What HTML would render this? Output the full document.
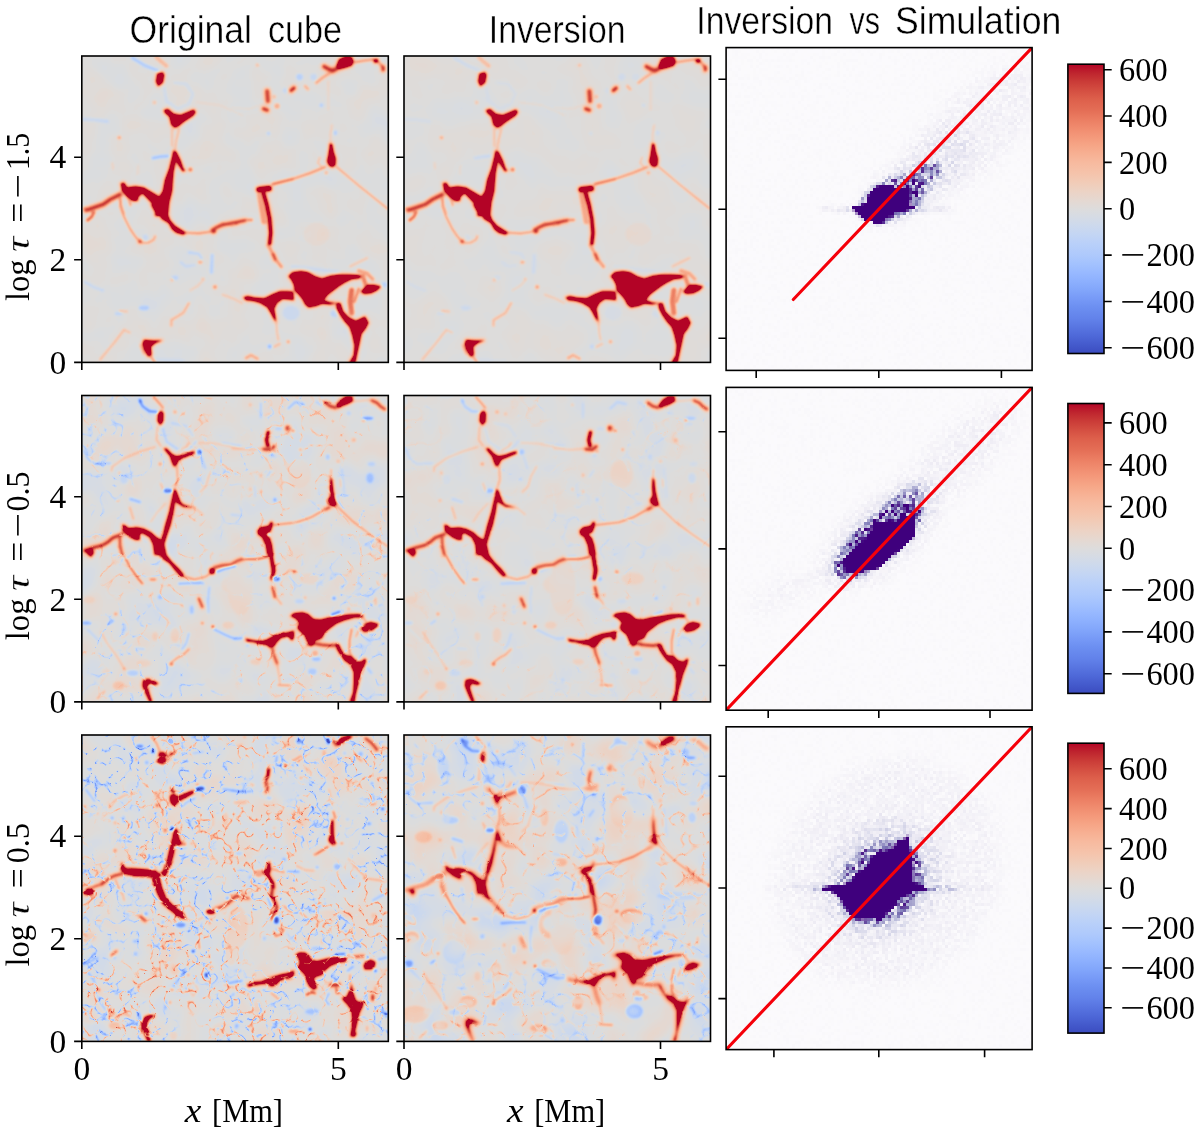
<!DOCTYPE html>
<html lang="en"><head><meta charset="utf-8"><title>Inversion vs Simulation</title>
<style>html,body{margin:0;padding:0;background:#fff;}body{width:1200px;height:1137px;overflow:hidden;}svg{display:block;}.se{font-family:"Liberation Serif", "DejaVu Serif", serif;font-size:33.5px;fill:#000;}.sa{font-family:"Liberation Sans", "DejaVu Sans", sans-serif;font-size:39.5px;fill:#000;stroke:#fff;stroke-width:0.45px;paint-order:fill stroke;}.it{font-style:italic;}.th{stroke:#fff;stroke-width:0.3px;paint-order:fill stroke;}</style>
</head><body>
<svg width="1200" height="1137" viewBox="0 0 1200 1137">
<defs>
<filter id="f00" x="0" y="0" width="100%" height="100%" filterUnits="objectBoundingBox" color-interpolation-filters="sRGB">
<feGaussianBlur in="SourceGraphic" stdDeviation="1.15" result="b"/>
<feTurbulence type="fractalNoise" baseFrequency="0.035" numOctaves="2" seed="3"/><feColorMatrix type="matrix" values="1 0 0 0 0  1 0 0 0 0  1 0 0 0 0  0 0 0 0 1" result="t0"/>
<feComposite in="b" in2="t0" operator="arithmetic" k1="0" k2="1" k3="0.0462" k4="-0.0231" result="s0"/>
<feComponentTransfer in="s0" result="g"><feFuncR type="linear" slope="1.3000" intercept="-0.1500"/><feFuncG type="linear" slope="1.3000" intercept="-0.1500"/><feFuncB type="linear" slope="1.3000" intercept="-0.1500"/></feComponentTransfer>
<feComponentTransfer in="g"><feFuncR type="table" tableValues="0.2298 0.2481 0.2664 0.2853 0.3042 0.3237 0.3433 0.3635 0.3837 0.4044 0.4252 0.4464 0.4677 0.4892 0.5108 0.5326 0.5543 0.5761 0.5978 0.6193 0.6408 0.6620 0.6831 0.7036 0.7240 0.7438 0.7634 0.7820 0.8006 0.8181 0.8353 0.8514 0.8674 0.8837 0.8995 0.9128 0.9256 0.9358 0.9455 0.9528 0.9595 0.9638 0.9675 0.9689 0.9697 0.9681 0.9660 0.9616 0.9567 0.9495 0.9417 0.9318 0.9214 0.9089 0.8959 0.8809 0.8654 0.8480 0.8302 0.8106 0.7906 0.7689 0.7468 0.7233 0.7057"/><feFuncG type="table" tableValues="0.2987 0.3260 0.3533 0.3801 0.4069 0.4332 0.4594 0.4848 0.5102 0.5346 0.5591 0.5824 0.6056 0.6275 0.6494 0.6698 0.6901 0.7088 0.7273 0.7441 0.7608 0.7755 0.7900 0.8026 0.8149 0.8251 0.8351 0.8429 0.8504 0.8556 0.8605 0.8631 0.8644 0.8561 0.8475 0.8367 0.8255 0.8122 0.7986 0.7830 0.7670 0.7491 0.7308 0.7108 0.6905 0.6685 0.6461 0.6222 0.5980 0.5724 0.5464 0.5191 0.4914 0.4624 0.4331 0.4023 0.3711 0.3383 0.3047 0.2688 0.2314 0.1892 0.1400 0.0689 0.0156"/><feFuncB type="table" tableValues="0.7537 0.7777 0.8016 0.8235 0.8453 0.8647 0.8841 0.9010 0.9178 0.9320 0.9461 0.9574 0.9685 0.9769 0.9851 0.9904 0.9955 0.9978 0.9998 0.9989 0.9978 0.9939 0.9898 0.9828 0.9757 0.9658 0.9557 0.9430 0.9300 0.9146 0.8990 0.8811 0.8626 0.8403 0.8178 0.7945 0.7711 0.7472 0.7231 0.6986 0.6741 0.6494 0.6247 0.5999 0.5751 0.5505 0.5259 0.5016 0.4773 0.4534 0.4297 0.4065 0.3834 0.3610 0.3387 0.3171 0.2958 0.2752 0.2549 0.2354 0.2162 0.1980 0.1800 0.1630 0.1502"/><feFuncA type="linear" slope="0" intercept="1"/></feComponentTransfer>
</filter>
<filter id="f01" x="0" y="0" width="100%" height="100%" filterUnits="objectBoundingBox" color-interpolation-filters="sRGB">
<feGaussianBlur in="SourceGraphic" stdDeviation="1.3" result="b"/>
<feTurbulence type="fractalNoise" baseFrequency="0.03" numOctaves="2" seed="5"/><feColorMatrix type="matrix" values="1 0 0 0 0  1 0 0 0 0  1 0 0 0 0  0 0 0 0 1" result="t0"/>
<feComposite in="b" in2="t0" operator="arithmetic" k1="0" k2="1" k3="0.0385" k4="-0.0192" result="s0"/>
<feComponentTransfer in="s0" result="g"><feFuncR type="linear" slope="1.3000" intercept="-0.1500"/><feFuncG type="linear" slope="1.3000" intercept="-0.1500"/><feFuncB type="linear" slope="1.3000" intercept="-0.1500"/></feComponentTransfer>
<feComponentTransfer in="g"><feFuncR type="table" tableValues="0.2298 0.2481 0.2664 0.2853 0.3042 0.3237 0.3433 0.3635 0.3837 0.4044 0.4252 0.4464 0.4677 0.4892 0.5108 0.5326 0.5543 0.5761 0.5978 0.6193 0.6408 0.6620 0.6831 0.7036 0.7240 0.7438 0.7634 0.7820 0.8006 0.8181 0.8353 0.8514 0.8674 0.8837 0.8995 0.9128 0.9256 0.9358 0.9455 0.9528 0.9595 0.9638 0.9675 0.9689 0.9697 0.9681 0.9660 0.9616 0.9567 0.9495 0.9417 0.9318 0.9214 0.9089 0.8959 0.8809 0.8654 0.8480 0.8302 0.8106 0.7906 0.7689 0.7468 0.7233 0.7057"/><feFuncG type="table" tableValues="0.2987 0.3260 0.3533 0.3801 0.4069 0.4332 0.4594 0.4848 0.5102 0.5346 0.5591 0.5824 0.6056 0.6275 0.6494 0.6698 0.6901 0.7088 0.7273 0.7441 0.7608 0.7755 0.7900 0.8026 0.8149 0.8251 0.8351 0.8429 0.8504 0.8556 0.8605 0.8631 0.8644 0.8561 0.8475 0.8367 0.8255 0.8122 0.7986 0.7830 0.7670 0.7491 0.7308 0.7108 0.6905 0.6685 0.6461 0.6222 0.5980 0.5724 0.5464 0.5191 0.4914 0.4624 0.4331 0.4023 0.3711 0.3383 0.3047 0.2688 0.2314 0.1892 0.1400 0.0689 0.0156"/><feFuncB type="table" tableValues="0.7537 0.7777 0.8016 0.8235 0.8453 0.8647 0.8841 0.9010 0.9178 0.9320 0.9461 0.9574 0.9685 0.9769 0.9851 0.9904 0.9955 0.9978 0.9998 0.9989 0.9978 0.9939 0.9898 0.9828 0.9757 0.9658 0.9557 0.9430 0.9300 0.9146 0.8990 0.8811 0.8626 0.8403 0.8178 0.7945 0.7711 0.7472 0.7231 0.6986 0.6741 0.6494 0.6247 0.5999 0.5751 0.5505 0.5259 0.5016 0.4773 0.4534 0.4297 0.4065 0.3834 0.3610 0.3387 0.3171 0.2958 0.2752 0.2549 0.2354 0.2162 0.1980 0.1800 0.1630 0.1502"/><feFuncA type="linear" slope="0" intercept="1"/></feComponentTransfer>
</filter>
<filter id="f10" x="0" y="0" width="100%" height="100%" filterUnits="objectBoundingBox" color-interpolation-filters="sRGB">
<feGaussianBlur in="SourceGraphic" stdDeviation="1.05" result="b"/>
<feTurbulence type="fractalNoise" baseFrequency="0.03" numOctaves="2" seed="11"/><feColorMatrix type="matrix" values="1 0 0 0 0  1 0 0 0 0  1 0 0 0 0  0 0 0 0 1" result="t0"/>
<feComposite in="b" in2="t0" operator="arithmetic" k1="0" k2="1" k3="0.0923" k4="-0.0462" result="s0"/>
<feTurbulence type="turbulence" baseFrequency="0.05" numOctaves="2" seed="12"/><feColorMatrix type="matrix" values="1 0 0 0 0  1 0 0 0 0  1 0 0 0 0  0 0 0 0 1"/>
<feComponentTransfer result="c10"><feFuncR type="table" tableValues="1.000 0.923 0.846 0.769 0.692 0.615 0.538 0.462 0.385 0.308 0.231 0.154 0.077 0.000 0.000 0.000 0.000 0.000 0.000 0.000 0.000 0.000 0.000 0.000 0.000 0.000 0.000 0.000 0.000 0.000 0.000 0.000 0.000 0.000 0.000 0.000 0.000 0.000 0.000 0.000 0.000 0.000 0.000 0.000 0.000 0.000 0.000 0.000 0.000 0.000 0.000 0.000 0.000 0.000 0.000 0.000 0.000 0.000 0.000 0.000 0.000 0.000 0.000 0.000 0.000 0.000 0.000 0.000 0.000 0.000 0.000 0.000 0.000 0.000 0.000 0.000 0.000 0.000 0.000 0.000 0.000 0.000 0.000 0.000 0.000 0.000 0.000 0.000 0.000 0.000 0.000 0.000 0.000 0.000 0.000 0.000 0.000 0.000 0.000 0.000 0.000"/><feFuncG type="table" tableValues="1.000 0.923 0.846 0.769 0.692 0.615 0.538 0.462 0.385 0.308 0.231 0.154 0.077 0.000 0.000 0.000 0.000 0.000 0.000 0.000 0.000 0.000 0.000 0.000 0.000 0.000 0.000 0.000 0.000 0.000 0.000 0.000 0.000 0.000 0.000 0.000 0.000 0.000 0.000 0.000 0.000 0.000 0.000 0.000 0.000 0.000 0.000 0.000 0.000 0.000 0.000 0.000 0.000 0.000 0.000 0.000 0.000 0.000 0.000 0.000 0.000 0.000 0.000 0.000 0.000 0.000 0.000 0.000 0.000 0.000 0.000 0.000 0.000 0.000 0.000 0.000 0.000 0.000 0.000 0.000 0.000 0.000 0.000 0.000 0.000 0.000 0.000 0.000 0.000 0.000 0.000 0.000 0.000 0.000 0.000 0.000 0.000 0.000 0.000 0.000 0.000"/><feFuncB type="table" tableValues="1.000 0.923 0.846 0.769 0.692 0.615 0.538 0.462 0.385 0.308 0.231 0.154 0.077 0.000 0.000 0.000 0.000 0.000 0.000 0.000 0.000 0.000 0.000 0.000 0.000 0.000 0.000 0.000 0.000 0.000 0.000 0.000 0.000 0.000 0.000 0.000 0.000 0.000 0.000 0.000 0.000 0.000 0.000 0.000 0.000 0.000 0.000 0.000 0.000 0.000 0.000 0.000 0.000 0.000 0.000 0.000 0.000 0.000 0.000 0.000 0.000 0.000 0.000 0.000 0.000 0.000 0.000 0.000 0.000 0.000 0.000 0.000 0.000 0.000 0.000 0.000 0.000 0.000 0.000 0.000 0.000 0.000 0.000 0.000 0.000 0.000 0.000 0.000 0.000 0.000 0.000 0.000 0.000 0.000 0.000 0.000 0.000 0.000 0.000 0.000 0.000"/></feComponentTransfer>
<feTurbulence type="fractalNoise" baseFrequency="0.012" numOctaves="2" seed="19"/><feColorMatrix type="matrix" values="1 0 0 0 0  1 0 0 0 0  1 0 0 0 0  0 0 0 0 1"/>
<feComponentTransfer result="m10"><feFuncR type="table" tableValues="0.000 0.000 0.000 0.000 0.000 0.000 0.000 0.000 0.000 0.000 0.000 0.000 0.000 0.000 0.000 0.000 0.000 0.000 0.000 0.000 0.000 0.000 0.000 0.000 0.000 0.000 0.000 0.000 0.000 0.000 0.000 0.000 0.000 0.000 0.000 0.000 0.000 0.000 0.000 0.000 0.000 0.000 0.000 0.000 0.000 0.063 0.125 0.188 0.250 0.312 0.375 0.438 0.500 0.563 0.625 0.688 0.750 0.813 0.875 0.937 1.000 1.000 1.000 1.000 1.000 1.000 1.000 1.000 1.000 1.000 1.000 1.000 1.000 1.000 1.000 1.000 1.000 1.000 1.000 1.000 1.000 1.000 1.000 1.000 1.000 1.000 1.000 1.000 1.000 1.000 1.000 1.000 1.000 1.000 1.000 1.000 1.000 1.000 1.000 1.000 1.000"/><feFuncG type="table" tableValues="0.000 0.000 0.000 0.000 0.000 0.000 0.000 0.000 0.000 0.000 0.000 0.000 0.000 0.000 0.000 0.000 0.000 0.000 0.000 0.000 0.000 0.000 0.000 0.000 0.000 0.000 0.000 0.000 0.000 0.000 0.000 0.000 0.000 0.000 0.000 0.000 0.000 0.000 0.000 0.000 0.000 0.000 0.000 0.000 0.000 0.063 0.125 0.188 0.250 0.312 0.375 0.438 0.500 0.563 0.625 0.688 0.750 0.813 0.875 0.937 1.000 1.000 1.000 1.000 1.000 1.000 1.000 1.000 1.000 1.000 1.000 1.000 1.000 1.000 1.000 1.000 1.000 1.000 1.000 1.000 1.000 1.000 1.000 1.000 1.000 1.000 1.000 1.000 1.000 1.000 1.000 1.000 1.000 1.000 1.000 1.000 1.000 1.000 1.000 1.000 1.000"/><feFuncB type="table" tableValues="0.000 0.000 0.000 0.000 0.000 0.000 0.000 0.000 0.000 0.000 0.000 0.000 0.000 0.000 0.000 0.000 0.000 0.000 0.000 0.000 0.000 0.000 0.000 0.000 0.000 0.000 0.000 0.000 0.000 0.000 0.000 0.000 0.000 0.000 0.000 0.000 0.000 0.000 0.000 0.000 0.000 0.000 0.000 0.000 0.000 0.063 0.125 0.188 0.250 0.312 0.375 0.438 0.500 0.563 0.625 0.688 0.750 0.813 0.875 0.937 1.000 1.000 1.000 1.000 1.000 1.000 1.000 1.000 1.000 1.000 1.000 1.000 1.000 1.000 1.000 1.000 1.000 1.000 1.000 1.000 1.000 1.000 1.000 1.000 1.000 1.000 1.000 1.000 1.000 1.000 1.000 1.000 1.000 1.000 1.000 1.000 1.000 1.000 1.000 1.000 1.000"/></feComponentTransfer>
<feComposite in="c10" in2="m10" operator="arithmetic" k1="1" k2="0" k3="0" k4="0" result="cm10"/>
<feTurbulence type="turbulence" baseFrequency="0.05" numOctaves="2" seed="112"/><feColorMatrix type="matrix" values="1 0 0 0 0  1 0 0 0 0  1 0 0 0 0  0 0 0 0 1"/>
<feComponentTransfer result="c11"><feFuncR type="table" tableValues="1.000 0.923 0.846 0.769 0.692 0.615 0.538 0.462 0.385 0.308 0.231 0.154 0.077 0.000 0.000 0.000 0.000 0.000 0.000 0.000 0.000 0.000 0.000 0.000 0.000 0.000 0.000 0.000 0.000 0.000 0.000 0.000 0.000 0.000 0.000 0.000 0.000 0.000 0.000 0.000 0.000 0.000 0.000 0.000 0.000 0.000 0.000 0.000 0.000 0.000 0.000 0.000 0.000 0.000 0.000 0.000 0.000 0.000 0.000 0.000 0.000 0.000 0.000 0.000 0.000 0.000 0.000 0.000 0.000 0.000 0.000 0.000 0.000 0.000 0.000 0.000 0.000 0.000 0.000 0.000 0.000 0.000 0.000 0.000 0.000 0.000 0.000 0.000 0.000 0.000 0.000 0.000 0.000 0.000 0.000 0.000 0.000 0.000 0.000 0.000 0.000"/><feFuncG type="table" tableValues="1.000 0.923 0.846 0.769 0.692 0.615 0.538 0.462 0.385 0.308 0.231 0.154 0.077 0.000 0.000 0.000 0.000 0.000 0.000 0.000 0.000 0.000 0.000 0.000 0.000 0.000 0.000 0.000 0.000 0.000 0.000 0.000 0.000 0.000 0.000 0.000 0.000 0.000 0.000 0.000 0.000 0.000 0.000 0.000 0.000 0.000 0.000 0.000 0.000 0.000 0.000 0.000 0.000 0.000 0.000 0.000 0.000 0.000 0.000 0.000 0.000 0.000 0.000 0.000 0.000 0.000 0.000 0.000 0.000 0.000 0.000 0.000 0.000 0.000 0.000 0.000 0.000 0.000 0.000 0.000 0.000 0.000 0.000 0.000 0.000 0.000 0.000 0.000 0.000 0.000 0.000 0.000 0.000 0.000 0.000 0.000 0.000 0.000 0.000 0.000 0.000"/><feFuncB type="table" tableValues="1.000 0.923 0.846 0.769 0.692 0.615 0.538 0.462 0.385 0.308 0.231 0.154 0.077 0.000 0.000 0.000 0.000 0.000 0.000 0.000 0.000 0.000 0.000 0.000 0.000 0.000 0.000 0.000 0.000 0.000 0.000 0.000 0.000 0.000 0.000 0.000 0.000 0.000 0.000 0.000 0.000 0.000 0.000 0.000 0.000 0.000 0.000 0.000 0.000 0.000 0.000 0.000 0.000 0.000 0.000 0.000 0.000 0.000 0.000 0.000 0.000 0.000 0.000 0.000 0.000 0.000 0.000 0.000 0.000 0.000 0.000 0.000 0.000 0.000 0.000 0.000 0.000 0.000 0.000 0.000 0.000 0.000 0.000 0.000 0.000 0.000 0.000 0.000 0.000 0.000 0.000 0.000 0.000 0.000 0.000 0.000 0.000 0.000 0.000 0.000 0.000"/></feComponentTransfer>
<feTurbulence type="fractalNoise" baseFrequency="0.012" numOctaves="2" seed="119"/><feColorMatrix type="matrix" values="1 0 0 0 0  1 0 0 0 0  1 0 0 0 0  0 0 0 0 1"/>
<feComponentTransfer result="m11"><feFuncR type="table" tableValues="0.000 0.000 0.000 0.000 0.000 0.000 0.000 0.000 0.000 0.000 0.000 0.000 0.000 0.000 0.000 0.000 0.000 0.000 0.000 0.000 0.000 0.000 0.000 0.000 0.000 0.000 0.000 0.000 0.000 0.000 0.000 0.000 0.000 0.000 0.000 0.000 0.000 0.000 0.000 0.000 0.000 0.000 0.000 0.000 0.000 0.063 0.125 0.188 0.250 0.312 0.375 0.438 0.500 0.563 0.625 0.688 0.750 0.813 0.875 0.937 1.000 1.000 1.000 1.000 1.000 1.000 1.000 1.000 1.000 1.000 1.000 1.000 1.000 1.000 1.000 1.000 1.000 1.000 1.000 1.000 1.000 1.000 1.000 1.000 1.000 1.000 1.000 1.000 1.000 1.000 1.000 1.000 1.000 1.000 1.000 1.000 1.000 1.000 1.000 1.000 1.000"/><feFuncG type="table" tableValues="0.000 0.000 0.000 0.000 0.000 0.000 0.000 0.000 0.000 0.000 0.000 0.000 0.000 0.000 0.000 0.000 0.000 0.000 0.000 0.000 0.000 0.000 0.000 0.000 0.000 0.000 0.000 0.000 0.000 0.000 0.000 0.000 0.000 0.000 0.000 0.000 0.000 0.000 0.000 0.000 0.000 0.000 0.000 0.000 0.000 0.063 0.125 0.188 0.250 0.312 0.375 0.438 0.500 0.563 0.625 0.688 0.750 0.813 0.875 0.937 1.000 1.000 1.000 1.000 1.000 1.000 1.000 1.000 1.000 1.000 1.000 1.000 1.000 1.000 1.000 1.000 1.000 1.000 1.000 1.000 1.000 1.000 1.000 1.000 1.000 1.000 1.000 1.000 1.000 1.000 1.000 1.000 1.000 1.000 1.000 1.000 1.000 1.000 1.000 1.000 1.000"/><feFuncB type="table" tableValues="0.000 0.000 0.000 0.000 0.000 0.000 0.000 0.000 0.000 0.000 0.000 0.000 0.000 0.000 0.000 0.000 0.000 0.000 0.000 0.000 0.000 0.000 0.000 0.000 0.000 0.000 0.000 0.000 0.000 0.000 0.000 0.000 0.000 0.000 0.000 0.000 0.000 0.000 0.000 0.000 0.000 0.000 0.000 0.000 0.000 0.063 0.125 0.188 0.250 0.312 0.375 0.438 0.500 0.563 0.625 0.688 0.750 0.813 0.875 0.937 1.000 1.000 1.000 1.000 1.000 1.000 1.000 1.000 1.000 1.000 1.000 1.000 1.000 1.000 1.000 1.000 1.000 1.000 1.000 1.000 1.000 1.000 1.000 1.000 1.000 1.000 1.000 1.000 1.000 1.000 1.000 1.000 1.000 1.000 1.000 1.000 1.000 1.000 1.000 1.000 1.000"/></feComponentTransfer>
<feComposite in="c11" in2="m11" operator="arithmetic" k1="1" k2="0" k3="0" k4="0" result="cm11"/>
<feColorMatrix in="cm11" type="matrix" values="-1 0 0 0 1  -1 0 0 0 1  -1 0 0 0 1  0 0 0 0 1" result="cmi1"/>
<feComposite in="s0" in2="cm10" operator="arithmetic" k1="0" k2="1" k3="0.1231" k4="0" result="s1a"/>
<feComposite in="s1a" in2="cmi1" operator="arithmetic" k1="0" k2="1" k3="0.1231" k4="-0.1231" result="s1"/>
<feComponentTransfer in="s1" result="g"><feFuncR type="linear" slope="1.3000" intercept="-0.1500"/><feFuncG type="linear" slope="1.3000" intercept="-0.1500"/><feFuncB type="linear" slope="1.3000" intercept="-0.1500"/></feComponentTransfer>
<feComponentTransfer in="g"><feFuncR type="table" tableValues="0.2298 0.2481 0.2664 0.2853 0.3042 0.3237 0.3433 0.3635 0.3837 0.4044 0.4252 0.4464 0.4677 0.4892 0.5108 0.5326 0.5543 0.5761 0.5978 0.6193 0.6408 0.6620 0.6831 0.7036 0.7240 0.7438 0.7634 0.7820 0.8006 0.8181 0.8353 0.8514 0.8674 0.8837 0.8995 0.9128 0.9256 0.9358 0.9455 0.9528 0.9595 0.9638 0.9675 0.9689 0.9697 0.9681 0.9660 0.9616 0.9567 0.9495 0.9417 0.9318 0.9214 0.9089 0.8959 0.8809 0.8654 0.8480 0.8302 0.8106 0.7906 0.7689 0.7468 0.7233 0.7057"/><feFuncG type="table" tableValues="0.2987 0.3260 0.3533 0.3801 0.4069 0.4332 0.4594 0.4848 0.5102 0.5346 0.5591 0.5824 0.6056 0.6275 0.6494 0.6698 0.6901 0.7088 0.7273 0.7441 0.7608 0.7755 0.7900 0.8026 0.8149 0.8251 0.8351 0.8429 0.8504 0.8556 0.8605 0.8631 0.8644 0.8561 0.8475 0.8367 0.8255 0.8122 0.7986 0.7830 0.7670 0.7491 0.7308 0.7108 0.6905 0.6685 0.6461 0.6222 0.5980 0.5724 0.5464 0.5191 0.4914 0.4624 0.4331 0.4023 0.3711 0.3383 0.3047 0.2688 0.2314 0.1892 0.1400 0.0689 0.0156"/><feFuncB type="table" tableValues="0.7537 0.7777 0.8016 0.8235 0.8453 0.8647 0.8841 0.9010 0.9178 0.9320 0.9461 0.9574 0.9685 0.9769 0.9851 0.9904 0.9955 0.9978 0.9998 0.9989 0.9978 0.9939 0.9898 0.9828 0.9757 0.9658 0.9557 0.9430 0.9300 0.9146 0.8990 0.8811 0.8626 0.8403 0.8178 0.7945 0.7711 0.7472 0.7231 0.6986 0.6741 0.6494 0.6247 0.5999 0.5751 0.5505 0.5259 0.5016 0.4773 0.4534 0.4297 0.4065 0.3834 0.3610 0.3387 0.3171 0.2958 0.2752 0.2549 0.2354 0.2162 0.1980 0.1800 0.1630 0.1502"/><feFuncA type="linear" slope="0" intercept="1"/></feComponentTransfer>
</filter>
<filter id="f11" x="0" y="0" width="100%" height="100%" filterUnits="objectBoundingBox" color-interpolation-filters="sRGB">
<feGaussianBlur in="SourceGraphic" stdDeviation="1.25" result="b"/>
<feTurbulence type="fractalNoise" baseFrequency="0.03" numOctaves="2" seed="13"/><feColorMatrix type="matrix" values="1 0 0 0 0  1 0 0 0 0  1 0 0 0 0  0 0 0 0 1" result="t0"/>
<feComposite in="b" in2="t0" operator="arithmetic" k1="0" k2="1" k3="0.0769" k4="-0.0385" result="s0"/>
<feTurbulence type="turbulence" baseFrequency="0.04" numOctaves="2" seed="14"/><feColorMatrix type="matrix" values="1 0 0 0 0  1 0 0 0 0  1 0 0 0 0  0 0 0 0 1"/>
<feComponentTransfer result="c10"><feFuncR type="table" tableValues="1.000 0.923 0.846 0.769 0.692 0.615 0.538 0.462 0.385 0.308 0.231 0.154 0.077 0.000 0.000 0.000 0.000 0.000 0.000 0.000 0.000 0.000 0.000 0.000 0.000 0.000 0.000 0.000 0.000 0.000 0.000 0.000 0.000 0.000 0.000 0.000 0.000 0.000 0.000 0.000 0.000 0.000 0.000 0.000 0.000 0.000 0.000 0.000 0.000 0.000 0.000 0.000 0.000 0.000 0.000 0.000 0.000 0.000 0.000 0.000 0.000 0.000 0.000 0.000 0.000 0.000 0.000 0.000 0.000 0.000 0.000 0.000 0.000 0.000 0.000 0.000 0.000 0.000 0.000 0.000 0.000 0.000 0.000 0.000 0.000 0.000 0.000 0.000 0.000 0.000 0.000 0.000 0.000 0.000 0.000 0.000 0.000 0.000 0.000 0.000 0.000"/><feFuncG type="table" tableValues="1.000 0.923 0.846 0.769 0.692 0.615 0.538 0.462 0.385 0.308 0.231 0.154 0.077 0.000 0.000 0.000 0.000 0.000 0.000 0.000 0.000 0.000 0.000 0.000 0.000 0.000 0.000 0.000 0.000 0.000 0.000 0.000 0.000 0.000 0.000 0.000 0.000 0.000 0.000 0.000 0.000 0.000 0.000 0.000 0.000 0.000 0.000 0.000 0.000 0.000 0.000 0.000 0.000 0.000 0.000 0.000 0.000 0.000 0.000 0.000 0.000 0.000 0.000 0.000 0.000 0.000 0.000 0.000 0.000 0.000 0.000 0.000 0.000 0.000 0.000 0.000 0.000 0.000 0.000 0.000 0.000 0.000 0.000 0.000 0.000 0.000 0.000 0.000 0.000 0.000 0.000 0.000 0.000 0.000 0.000 0.000 0.000 0.000 0.000 0.000 0.000"/><feFuncB type="table" tableValues="1.000 0.923 0.846 0.769 0.692 0.615 0.538 0.462 0.385 0.308 0.231 0.154 0.077 0.000 0.000 0.000 0.000 0.000 0.000 0.000 0.000 0.000 0.000 0.000 0.000 0.000 0.000 0.000 0.000 0.000 0.000 0.000 0.000 0.000 0.000 0.000 0.000 0.000 0.000 0.000 0.000 0.000 0.000 0.000 0.000 0.000 0.000 0.000 0.000 0.000 0.000 0.000 0.000 0.000 0.000 0.000 0.000 0.000 0.000 0.000 0.000 0.000 0.000 0.000 0.000 0.000 0.000 0.000 0.000 0.000 0.000 0.000 0.000 0.000 0.000 0.000 0.000 0.000 0.000 0.000 0.000 0.000 0.000 0.000 0.000 0.000 0.000 0.000 0.000 0.000 0.000 0.000 0.000 0.000 0.000 0.000 0.000 0.000 0.000 0.000 0.000"/></feComponentTransfer>
<feTurbulence type="fractalNoise" baseFrequency="0.012" numOctaves="2" seed="21"/><feColorMatrix type="matrix" values="1 0 0 0 0  1 0 0 0 0  1 0 0 0 0  0 0 0 0 1"/>
<feComponentTransfer result="m10"><feFuncR type="table" tableValues="0.000 0.000 0.000 0.000 0.000 0.000 0.000 0.000 0.000 0.000 0.000 0.000 0.000 0.000 0.000 0.000 0.000 0.000 0.000 0.000 0.000 0.000 0.000 0.000 0.000 0.000 0.000 0.000 0.000 0.000 0.000 0.000 0.000 0.000 0.000 0.000 0.000 0.000 0.000 0.000 0.000 0.000 0.000 0.000 0.000 0.000 0.000 0.000 0.000 0.071 0.143 0.214 0.286 0.357 0.429 0.500 0.571 0.643 0.714 0.786 0.857 0.929 1.000 1.000 1.000 1.000 1.000 1.000 1.000 1.000 1.000 1.000 1.000 1.000 1.000 1.000 1.000 1.000 1.000 1.000 1.000 1.000 1.000 1.000 1.000 1.000 1.000 1.000 1.000 1.000 1.000 1.000 1.000 1.000 1.000 1.000 1.000 1.000 1.000 1.000 1.000"/><feFuncG type="table" tableValues="0.000 0.000 0.000 0.000 0.000 0.000 0.000 0.000 0.000 0.000 0.000 0.000 0.000 0.000 0.000 0.000 0.000 0.000 0.000 0.000 0.000 0.000 0.000 0.000 0.000 0.000 0.000 0.000 0.000 0.000 0.000 0.000 0.000 0.000 0.000 0.000 0.000 0.000 0.000 0.000 0.000 0.000 0.000 0.000 0.000 0.000 0.000 0.000 0.000 0.071 0.143 0.214 0.286 0.357 0.429 0.500 0.571 0.643 0.714 0.786 0.857 0.929 1.000 1.000 1.000 1.000 1.000 1.000 1.000 1.000 1.000 1.000 1.000 1.000 1.000 1.000 1.000 1.000 1.000 1.000 1.000 1.000 1.000 1.000 1.000 1.000 1.000 1.000 1.000 1.000 1.000 1.000 1.000 1.000 1.000 1.000 1.000 1.000 1.000 1.000 1.000"/><feFuncB type="table" tableValues="0.000 0.000 0.000 0.000 0.000 0.000 0.000 0.000 0.000 0.000 0.000 0.000 0.000 0.000 0.000 0.000 0.000 0.000 0.000 0.000 0.000 0.000 0.000 0.000 0.000 0.000 0.000 0.000 0.000 0.000 0.000 0.000 0.000 0.000 0.000 0.000 0.000 0.000 0.000 0.000 0.000 0.000 0.000 0.000 0.000 0.000 0.000 0.000 0.000 0.071 0.143 0.214 0.286 0.357 0.429 0.500 0.571 0.643 0.714 0.786 0.857 0.929 1.000 1.000 1.000 1.000 1.000 1.000 1.000 1.000 1.000 1.000 1.000 1.000 1.000 1.000 1.000 1.000 1.000 1.000 1.000 1.000 1.000 1.000 1.000 1.000 1.000 1.000 1.000 1.000 1.000 1.000 1.000 1.000 1.000 1.000 1.000 1.000 1.000 1.000 1.000"/></feComponentTransfer>
<feComposite in="c10" in2="m10" operator="arithmetic" k1="1" k2="0" k3="0" k4="0" result="cm10"/>
<feTurbulence type="turbulence" baseFrequency="0.04" numOctaves="2" seed="114"/><feColorMatrix type="matrix" values="1 0 0 0 0  1 0 0 0 0  1 0 0 0 0  0 0 0 0 1"/>
<feComponentTransfer result="c11"><feFuncR type="table" tableValues="1.000 0.923 0.846 0.769 0.692 0.615 0.538 0.462 0.385 0.308 0.231 0.154 0.077 0.000 0.000 0.000 0.000 0.000 0.000 0.000 0.000 0.000 0.000 0.000 0.000 0.000 0.000 0.000 0.000 0.000 0.000 0.000 0.000 0.000 0.000 0.000 0.000 0.000 0.000 0.000 0.000 0.000 0.000 0.000 0.000 0.000 0.000 0.000 0.000 0.000 0.000 0.000 0.000 0.000 0.000 0.000 0.000 0.000 0.000 0.000 0.000 0.000 0.000 0.000 0.000 0.000 0.000 0.000 0.000 0.000 0.000 0.000 0.000 0.000 0.000 0.000 0.000 0.000 0.000 0.000 0.000 0.000 0.000 0.000 0.000 0.000 0.000 0.000 0.000 0.000 0.000 0.000 0.000 0.000 0.000 0.000 0.000 0.000 0.000 0.000 0.000"/><feFuncG type="table" tableValues="1.000 0.923 0.846 0.769 0.692 0.615 0.538 0.462 0.385 0.308 0.231 0.154 0.077 0.000 0.000 0.000 0.000 0.000 0.000 0.000 0.000 0.000 0.000 0.000 0.000 0.000 0.000 0.000 0.000 0.000 0.000 0.000 0.000 0.000 0.000 0.000 0.000 0.000 0.000 0.000 0.000 0.000 0.000 0.000 0.000 0.000 0.000 0.000 0.000 0.000 0.000 0.000 0.000 0.000 0.000 0.000 0.000 0.000 0.000 0.000 0.000 0.000 0.000 0.000 0.000 0.000 0.000 0.000 0.000 0.000 0.000 0.000 0.000 0.000 0.000 0.000 0.000 0.000 0.000 0.000 0.000 0.000 0.000 0.000 0.000 0.000 0.000 0.000 0.000 0.000 0.000 0.000 0.000 0.000 0.000 0.000 0.000 0.000 0.000 0.000 0.000"/><feFuncB type="table" tableValues="1.000 0.923 0.846 0.769 0.692 0.615 0.538 0.462 0.385 0.308 0.231 0.154 0.077 0.000 0.000 0.000 0.000 0.000 0.000 0.000 0.000 0.000 0.000 0.000 0.000 0.000 0.000 0.000 0.000 0.000 0.000 0.000 0.000 0.000 0.000 0.000 0.000 0.000 0.000 0.000 0.000 0.000 0.000 0.000 0.000 0.000 0.000 0.000 0.000 0.000 0.000 0.000 0.000 0.000 0.000 0.000 0.000 0.000 0.000 0.000 0.000 0.000 0.000 0.000 0.000 0.000 0.000 0.000 0.000 0.000 0.000 0.000 0.000 0.000 0.000 0.000 0.000 0.000 0.000 0.000 0.000 0.000 0.000 0.000 0.000 0.000 0.000 0.000 0.000 0.000 0.000 0.000 0.000 0.000 0.000 0.000 0.000 0.000 0.000 0.000 0.000"/></feComponentTransfer>
<feTurbulence type="fractalNoise" baseFrequency="0.012" numOctaves="2" seed="121"/><feColorMatrix type="matrix" values="1 0 0 0 0  1 0 0 0 0  1 0 0 0 0  0 0 0 0 1"/>
<feComponentTransfer result="m11"><feFuncR type="table" tableValues="0.000 0.000 0.000 0.000 0.000 0.000 0.000 0.000 0.000 0.000 0.000 0.000 0.000 0.000 0.000 0.000 0.000 0.000 0.000 0.000 0.000 0.000 0.000 0.000 0.000 0.000 0.000 0.000 0.000 0.000 0.000 0.000 0.000 0.000 0.000 0.000 0.000 0.000 0.000 0.000 0.000 0.000 0.000 0.000 0.000 0.000 0.000 0.000 0.000 0.071 0.143 0.214 0.286 0.357 0.429 0.500 0.571 0.643 0.714 0.786 0.857 0.929 1.000 1.000 1.000 1.000 1.000 1.000 1.000 1.000 1.000 1.000 1.000 1.000 1.000 1.000 1.000 1.000 1.000 1.000 1.000 1.000 1.000 1.000 1.000 1.000 1.000 1.000 1.000 1.000 1.000 1.000 1.000 1.000 1.000 1.000 1.000 1.000 1.000 1.000 1.000"/><feFuncG type="table" tableValues="0.000 0.000 0.000 0.000 0.000 0.000 0.000 0.000 0.000 0.000 0.000 0.000 0.000 0.000 0.000 0.000 0.000 0.000 0.000 0.000 0.000 0.000 0.000 0.000 0.000 0.000 0.000 0.000 0.000 0.000 0.000 0.000 0.000 0.000 0.000 0.000 0.000 0.000 0.000 0.000 0.000 0.000 0.000 0.000 0.000 0.000 0.000 0.000 0.000 0.071 0.143 0.214 0.286 0.357 0.429 0.500 0.571 0.643 0.714 0.786 0.857 0.929 1.000 1.000 1.000 1.000 1.000 1.000 1.000 1.000 1.000 1.000 1.000 1.000 1.000 1.000 1.000 1.000 1.000 1.000 1.000 1.000 1.000 1.000 1.000 1.000 1.000 1.000 1.000 1.000 1.000 1.000 1.000 1.000 1.000 1.000 1.000 1.000 1.000 1.000 1.000"/><feFuncB type="table" tableValues="0.000 0.000 0.000 0.000 0.000 0.000 0.000 0.000 0.000 0.000 0.000 0.000 0.000 0.000 0.000 0.000 0.000 0.000 0.000 0.000 0.000 0.000 0.000 0.000 0.000 0.000 0.000 0.000 0.000 0.000 0.000 0.000 0.000 0.000 0.000 0.000 0.000 0.000 0.000 0.000 0.000 0.000 0.000 0.000 0.000 0.000 0.000 0.000 0.000 0.071 0.143 0.214 0.286 0.357 0.429 0.500 0.571 0.643 0.714 0.786 0.857 0.929 1.000 1.000 1.000 1.000 1.000 1.000 1.000 1.000 1.000 1.000 1.000 1.000 1.000 1.000 1.000 1.000 1.000 1.000 1.000 1.000 1.000 1.000 1.000 1.000 1.000 1.000 1.000 1.000 1.000 1.000 1.000 1.000 1.000 1.000 1.000 1.000 1.000 1.000 1.000"/></feComponentTransfer>
<feComposite in="c11" in2="m11" operator="arithmetic" k1="1" k2="0" k3="0" k4="0" result="cm11"/>
<feColorMatrix in="cm11" type="matrix" values="-1 0 0 0 1  -1 0 0 0 1  -1 0 0 0 1  0 0 0 0 1" result="cmi1"/>
<feComposite in="s0" in2="cm10" operator="arithmetic" k1="0" k2="1" k3="0.0462" k4="0" result="s1a"/>
<feComposite in="s1a" in2="cmi1" operator="arithmetic" k1="0" k2="1" k3="0.0462" k4="-0.0462" result="s1"/>
<feComponentTransfer in="s1" result="g"><feFuncR type="linear" slope="1.3000" intercept="-0.1500"/><feFuncG type="linear" slope="1.3000" intercept="-0.1500"/><feFuncB type="linear" slope="1.3000" intercept="-0.1500"/></feComponentTransfer>
<feComponentTransfer in="g"><feFuncR type="table" tableValues="0.2298 0.2481 0.2664 0.2853 0.3042 0.3237 0.3433 0.3635 0.3837 0.4044 0.4252 0.4464 0.4677 0.4892 0.5108 0.5326 0.5543 0.5761 0.5978 0.6193 0.6408 0.6620 0.6831 0.7036 0.7240 0.7438 0.7634 0.7820 0.8006 0.8181 0.8353 0.8514 0.8674 0.8837 0.8995 0.9128 0.9256 0.9358 0.9455 0.9528 0.9595 0.9638 0.9675 0.9689 0.9697 0.9681 0.9660 0.9616 0.9567 0.9495 0.9417 0.9318 0.9214 0.9089 0.8959 0.8809 0.8654 0.8480 0.8302 0.8106 0.7906 0.7689 0.7468 0.7233 0.7057"/><feFuncG type="table" tableValues="0.2987 0.3260 0.3533 0.3801 0.4069 0.4332 0.4594 0.4848 0.5102 0.5346 0.5591 0.5824 0.6056 0.6275 0.6494 0.6698 0.6901 0.7088 0.7273 0.7441 0.7608 0.7755 0.7900 0.8026 0.8149 0.8251 0.8351 0.8429 0.8504 0.8556 0.8605 0.8631 0.8644 0.8561 0.8475 0.8367 0.8255 0.8122 0.7986 0.7830 0.7670 0.7491 0.7308 0.7108 0.6905 0.6685 0.6461 0.6222 0.5980 0.5724 0.5464 0.5191 0.4914 0.4624 0.4331 0.4023 0.3711 0.3383 0.3047 0.2688 0.2314 0.1892 0.1400 0.0689 0.0156"/><feFuncB type="table" tableValues="0.7537 0.7777 0.8016 0.8235 0.8453 0.8647 0.8841 0.9010 0.9178 0.9320 0.9461 0.9574 0.9685 0.9769 0.9851 0.9904 0.9955 0.9978 0.9998 0.9989 0.9978 0.9939 0.9898 0.9828 0.9757 0.9658 0.9557 0.9430 0.9300 0.9146 0.8990 0.8811 0.8626 0.8403 0.8178 0.7945 0.7711 0.7472 0.7231 0.6986 0.6741 0.6494 0.6247 0.5999 0.5751 0.5505 0.5259 0.5016 0.4773 0.4534 0.4297 0.4065 0.3834 0.3610 0.3387 0.3171 0.2958 0.2752 0.2549 0.2354 0.2162 0.1980 0.1800 0.1630 0.1502"/><feFuncA type="linear" slope="0" intercept="1"/></feComponentTransfer>
</filter>
<filter id="f20" x="0" y="0" width="100%" height="100%" filterUnits="objectBoundingBox" color-interpolation-filters="sRGB">
<feGaussianBlur in="SourceGraphic" stdDeviation="0.95" result="b"/>
<feTurbulence type="fractalNoise" baseFrequency="0.03" numOctaves="2" seed="21"/><feColorMatrix type="matrix" values="1 0 0 0 0  1 0 0 0 0  1 0 0 0 0  0 0 0 0 1" result="t0"/>
<feComposite in="b" in2="t0" operator="arithmetic" k1="0" k2="1" k3="0.1231" k4="-0.0615" result="s0"/>
<feTurbulence type="turbulence" baseFrequency="0.07" numOctaves="2" seed="22"/><feColorMatrix type="matrix" values="1 0 0 0 0  1 0 0 0 0  1 0 0 0 0  0 0 0 0 1"/>
<feComponentTransfer result="c10"><feFuncR type="table" tableValues="1.000 0.933 0.867 0.800 0.733 0.667 0.600 0.533 0.467 0.400 0.333 0.267 0.200 0.133 0.067 0.000 0.000 0.000 0.000 0.000 0.000 0.000 0.000 0.000 0.000 0.000 0.000 0.000 0.000 0.000 0.000 0.000 0.000 0.000 0.000 0.000 0.000 0.000 0.000 0.000 0.000 0.000 0.000 0.000 0.000 0.000 0.000 0.000 0.000 0.000 0.000 0.000 0.000 0.000 0.000 0.000 0.000 0.000 0.000 0.000 0.000 0.000 0.000 0.000 0.000 0.000 0.000 0.000 0.000 0.000 0.000 0.000 0.000 0.000 0.000 0.000 0.000 0.000 0.000 0.000 0.000 0.000 0.000 0.000 0.000 0.000 0.000 0.000 0.000 0.000 0.000 0.000 0.000 0.000 0.000 0.000 0.000 0.000 0.000 0.000 0.000"/><feFuncG type="table" tableValues="1.000 0.933 0.867 0.800 0.733 0.667 0.600 0.533 0.467 0.400 0.333 0.267 0.200 0.133 0.067 0.000 0.000 0.000 0.000 0.000 0.000 0.000 0.000 0.000 0.000 0.000 0.000 0.000 0.000 0.000 0.000 0.000 0.000 0.000 0.000 0.000 0.000 0.000 0.000 0.000 0.000 0.000 0.000 0.000 0.000 0.000 0.000 0.000 0.000 0.000 0.000 0.000 0.000 0.000 0.000 0.000 0.000 0.000 0.000 0.000 0.000 0.000 0.000 0.000 0.000 0.000 0.000 0.000 0.000 0.000 0.000 0.000 0.000 0.000 0.000 0.000 0.000 0.000 0.000 0.000 0.000 0.000 0.000 0.000 0.000 0.000 0.000 0.000 0.000 0.000 0.000 0.000 0.000 0.000 0.000 0.000 0.000 0.000 0.000 0.000 0.000"/><feFuncB type="table" tableValues="1.000 0.933 0.867 0.800 0.733 0.667 0.600 0.533 0.467 0.400 0.333 0.267 0.200 0.133 0.067 0.000 0.000 0.000 0.000 0.000 0.000 0.000 0.000 0.000 0.000 0.000 0.000 0.000 0.000 0.000 0.000 0.000 0.000 0.000 0.000 0.000 0.000 0.000 0.000 0.000 0.000 0.000 0.000 0.000 0.000 0.000 0.000 0.000 0.000 0.000 0.000 0.000 0.000 0.000 0.000 0.000 0.000 0.000 0.000 0.000 0.000 0.000 0.000 0.000 0.000 0.000 0.000 0.000 0.000 0.000 0.000 0.000 0.000 0.000 0.000 0.000 0.000 0.000 0.000 0.000 0.000 0.000 0.000 0.000 0.000 0.000 0.000 0.000 0.000 0.000 0.000 0.000 0.000 0.000 0.000 0.000 0.000 0.000 0.000 0.000 0.000"/></feComponentTransfer>
<feTurbulence type="fractalNoise" baseFrequency="0.014" numOctaves="2" seed="29"/><feColorMatrix type="matrix" values="1 0 0 0 0  1 0 0 0 0  1 0 0 0 0  0 0 0 0 1"/>
<feComponentTransfer result="m10"><feFuncR type="table" tableValues="0.000 0.000 0.000 0.000 0.000 0.000 0.000 0.000 0.000 0.000 0.000 0.000 0.000 0.000 0.000 0.000 0.000 0.000 0.000 0.000 0.000 0.000 0.000 0.000 0.000 0.000 0.000 0.000 0.000 0.000 0.000 0.000 0.000 0.000 0.000 0.000 0.000 0.000 0.056 0.111 0.167 0.222 0.278 0.333 0.389 0.444 0.500 0.556 0.611 0.667 0.722 0.778 0.833 0.889 0.944 1.000 1.000 1.000 1.000 1.000 1.000 1.000 1.000 1.000 1.000 1.000 1.000 1.000 1.000 1.000 1.000 1.000 1.000 1.000 1.000 1.000 1.000 1.000 1.000 1.000 1.000 1.000 1.000 1.000 1.000 1.000 1.000 1.000 1.000 1.000 1.000 1.000 1.000 1.000 1.000 1.000 1.000 1.000 1.000 1.000 1.000"/><feFuncG type="table" tableValues="0.000 0.000 0.000 0.000 0.000 0.000 0.000 0.000 0.000 0.000 0.000 0.000 0.000 0.000 0.000 0.000 0.000 0.000 0.000 0.000 0.000 0.000 0.000 0.000 0.000 0.000 0.000 0.000 0.000 0.000 0.000 0.000 0.000 0.000 0.000 0.000 0.000 0.000 0.056 0.111 0.167 0.222 0.278 0.333 0.389 0.444 0.500 0.556 0.611 0.667 0.722 0.778 0.833 0.889 0.944 1.000 1.000 1.000 1.000 1.000 1.000 1.000 1.000 1.000 1.000 1.000 1.000 1.000 1.000 1.000 1.000 1.000 1.000 1.000 1.000 1.000 1.000 1.000 1.000 1.000 1.000 1.000 1.000 1.000 1.000 1.000 1.000 1.000 1.000 1.000 1.000 1.000 1.000 1.000 1.000 1.000 1.000 1.000 1.000 1.000 1.000"/><feFuncB type="table" tableValues="0.000 0.000 0.000 0.000 0.000 0.000 0.000 0.000 0.000 0.000 0.000 0.000 0.000 0.000 0.000 0.000 0.000 0.000 0.000 0.000 0.000 0.000 0.000 0.000 0.000 0.000 0.000 0.000 0.000 0.000 0.000 0.000 0.000 0.000 0.000 0.000 0.000 0.000 0.056 0.111 0.167 0.222 0.278 0.333 0.389 0.444 0.500 0.556 0.611 0.667 0.722 0.778 0.833 0.889 0.944 1.000 1.000 1.000 1.000 1.000 1.000 1.000 1.000 1.000 1.000 1.000 1.000 1.000 1.000 1.000 1.000 1.000 1.000 1.000 1.000 1.000 1.000 1.000 1.000 1.000 1.000 1.000 1.000 1.000 1.000 1.000 1.000 1.000 1.000 1.000 1.000 1.000 1.000 1.000 1.000 1.000 1.000 1.000 1.000 1.000 1.000"/></feComponentTransfer>
<feComposite in="c10" in2="m10" operator="arithmetic" k1="1" k2="0" k3="0" k4="0" result="cm10"/>
<feTurbulence type="turbulence" baseFrequency="0.07" numOctaves="2" seed="122"/><feColorMatrix type="matrix" values="1 0 0 0 0  1 0 0 0 0  1 0 0 0 0  0 0 0 0 1"/>
<feComponentTransfer result="c11"><feFuncR type="table" tableValues="1.000 0.933 0.867 0.800 0.733 0.667 0.600 0.533 0.467 0.400 0.333 0.267 0.200 0.133 0.067 0.000 0.000 0.000 0.000 0.000 0.000 0.000 0.000 0.000 0.000 0.000 0.000 0.000 0.000 0.000 0.000 0.000 0.000 0.000 0.000 0.000 0.000 0.000 0.000 0.000 0.000 0.000 0.000 0.000 0.000 0.000 0.000 0.000 0.000 0.000 0.000 0.000 0.000 0.000 0.000 0.000 0.000 0.000 0.000 0.000 0.000 0.000 0.000 0.000 0.000 0.000 0.000 0.000 0.000 0.000 0.000 0.000 0.000 0.000 0.000 0.000 0.000 0.000 0.000 0.000 0.000 0.000 0.000 0.000 0.000 0.000 0.000 0.000 0.000 0.000 0.000 0.000 0.000 0.000 0.000 0.000 0.000 0.000 0.000 0.000 0.000"/><feFuncG type="table" tableValues="1.000 0.933 0.867 0.800 0.733 0.667 0.600 0.533 0.467 0.400 0.333 0.267 0.200 0.133 0.067 0.000 0.000 0.000 0.000 0.000 0.000 0.000 0.000 0.000 0.000 0.000 0.000 0.000 0.000 0.000 0.000 0.000 0.000 0.000 0.000 0.000 0.000 0.000 0.000 0.000 0.000 0.000 0.000 0.000 0.000 0.000 0.000 0.000 0.000 0.000 0.000 0.000 0.000 0.000 0.000 0.000 0.000 0.000 0.000 0.000 0.000 0.000 0.000 0.000 0.000 0.000 0.000 0.000 0.000 0.000 0.000 0.000 0.000 0.000 0.000 0.000 0.000 0.000 0.000 0.000 0.000 0.000 0.000 0.000 0.000 0.000 0.000 0.000 0.000 0.000 0.000 0.000 0.000 0.000 0.000 0.000 0.000 0.000 0.000 0.000 0.000"/><feFuncB type="table" tableValues="1.000 0.933 0.867 0.800 0.733 0.667 0.600 0.533 0.467 0.400 0.333 0.267 0.200 0.133 0.067 0.000 0.000 0.000 0.000 0.000 0.000 0.000 0.000 0.000 0.000 0.000 0.000 0.000 0.000 0.000 0.000 0.000 0.000 0.000 0.000 0.000 0.000 0.000 0.000 0.000 0.000 0.000 0.000 0.000 0.000 0.000 0.000 0.000 0.000 0.000 0.000 0.000 0.000 0.000 0.000 0.000 0.000 0.000 0.000 0.000 0.000 0.000 0.000 0.000 0.000 0.000 0.000 0.000 0.000 0.000 0.000 0.000 0.000 0.000 0.000 0.000 0.000 0.000 0.000 0.000 0.000 0.000 0.000 0.000 0.000 0.000 0.000 0.000 0.000 0.000 0.000 0.000 0.000 0.000 0.000 0.000 0.000 0.000 0.000 0.000 0.000"/></feComponentTransfer>
<feTurbulence type="fractalNoise" baseFrequency="0.014" numOctaves="2" seed="129"/><feColorMatrix type="matrix" values="1 0 0 0 0  1 0 0 0 0  1 0 0 0 0  0 0 0 0 1"/>
<feComponentTransfer result="m11"><feFuncR type="table" tableValues="0.000 0.000 0.000 0.000 0.000 0.000 0.000 0.000 0.000 0.000 0.000 0.000 0.000 0.000 0.000 0.000 0.000 0.000 0.000 0.000 0.000 0.000 0.000 0.000 0.000 0.000 0.000 0.000 0.000 0.000 0.000 0.000 0.000 0.000 0.000 0.000 0.000 0.000 0.056 0.111 0.167 0.222 0.278 0.333 0.389 0.444 0.500 0.556 0.611 0.667 0.722 0.778 0.833 0.889 0.944 1.000 1.000 1.000 1.000 1.000 1.000 1.000 1.000 1.000 1.000 1.000 1.000 1.000 1.000 1.000 1.000 1.000 1.000 1.000 1.000 1.000 1.000 1.000 1.000 1.000 1.000 1.000 1.000 1.000 1.000 1.000 1.000 1.000 1.000 1.000 1.000 1.000 1.000 1.000 1.000 1.000 1.000 1.000 1.000 1.000 1.000"/><feFuncG type="table" tableValues="0.000 0.000 0.000 0.000 0.000 0.000 0.000 0.000 0.000 0.000 0.000 0.000 0.000 0.000 0.000 0.000 0.000 0.000 0.000 0.000 0.000 0.000 0.000 0.000 0.000 0.000 0.000 0.000 0.000 0.000 0.000 0.000 0.000 0.000 0.000 0.000 0.000 0.000 0.056 0.111 0.167 0.222 0.278 0.333 0.389 0.444 0.500 0.556 0.611 0.667 0.722 0.778 0.833 0.889 0.944 1.000 1.000 1.000 1.000 1.000 1.000 1.000 1.000 1.000 1.000 1.000 1.000 1.000 1.000 1.000 1.000 1.000 1.000 1.000 1.000 1.000 1.000 1.000 1.000 1.000 1.000 1.000 1.000 1.000 1.000 1.000 1.000 1.000 1.000 1.000 1.000 1.000 1.000 1.000 1.000 1.000 1.000 1.000 1.000 1.000 1.000"/><feFuncB type="table" tableValues="0.000 0.000 0.000 0.000 0.000 0.000 0.000 0.000 0.000 0.000 0.000 0.000 0.000 0.000 0.000 0.000 0.000 0.000 0.000 0.000 0.000 0.000 0.000 0.000 0.000 0.000 0.000 0.000 0.000 0.000 0.000 0.000 0.000 0.000 0.000 0.000 0.000 0.000 0.056 0.111 0.167 0.222 0.278 0.333 0.389 0.444 0.500 0.556 0.611 0.667 0.722 0.778 0.833 0.889 0.944 1.000 1.000 1.000 1.000 1.000 1.000 1.000 1.000 1.000 1.000 1.000 1.000 1.000 1.000 1.000 1.000 1.000 1.000 1.000 1.000 1.000 1.000 1.000 1.000 1.000 1.000 1.000 1.000 1.000 1.000 1.000 1.000 1.000 1.000 1.000 1.000 1.000 1.000 1.000 1.000 1.000 1.000 1.000 1.000 1.000 1.000"/></feComponentTransfer>
<feComposite in="c11" in2="m11" operator="arithmetic" k1="1" k2="0" k3="0" k4="0" result="cm11"/>
<feColorMatrix in="cm11" type="matrix" values="-1 0 0 0 1  -1 0 0 0 1  -1 0 0 0 1  0 0 0 0 1" result="cmi1"/>
<feComposite in="s0" in2="cm10" operator="arithmetic" k1="0" k2="1" k3="0.2308" k4="0" result="s1a"/>
<feComposite in="s1a" in2="cmi1" operator="arithmetic" k1="0" k2="1" k3="0.2308" k4="-0.2308" result="s1"/>
<feComponentTransfer in="s1" result="g"><feFuncR type="linear" slope="1.3000" intercept="-0.1500"/><feFuncG type="linear" slope="1.3000" intercept="-0.1500"/><feFuncB type="linear" slope="1.3000" intercept="-0.1500"/></feComponentTransfer>
<feComponentTransfer in="g"><feFuncR type="table" tableValues="0.2298 0.2481 0.2664 0.2853 0.3042 0.3237 0.3433 0.3635 0.3837 0.4044 0.4252 0.4464 0.4677 0.4892 0.5108 0.5326 0.5543 0.5761 0.5978 0.6193 0.6408 0.6620 0.6831 0.7036 0.7240 0.7438 0.7634 0.7820 0.8006 0.8181 0.8353 0.8514 0.8674 0.8837 0.8995 0.9128 0.9256 0.9358 0.9455 0.9528 0.9595 0.9638 0.9675 0.9689 0.9697 0.9681 0.9660 0.9616 0.9567 0.9495 0.9417 0.9318 0.9214 0.9089 0.8959 0.8809 0.8654 0.8480 0.8302 0.8106 0.7906 0.7689 0.7468 0.7233 0.7057"/><feFuncG type="table" tableValues="0.2987 0.3260 0.3533 0.3801 0.4069 0.4332 0.4594 0.4848 0.5102 0.5346 0.5591 0.5824 0.6056 0.6275 0.6494 0.6698 0.6901 0.7088 0.7273 0.7441 0.7608 0.7755 0.7900 0.8026 0.8149 0.8251 0.8351 0.8429 0.8504 0.8556 0.8605 0.8631 0.8644 0.8561 0.8475 0.8367 0.8255 0.8122 0.7986 0.7830 0.7670 0.7491 0.7308 0.7108 0.6905 0.6685 0.6461 0.6222 0.5980 0.5724 0.5464 0.5191 0.4914 0.4624 0.4331 0.4023 0.3711 0.3383 0.3047 0.2688 0.2314 0.1892 0.1400 0.0689 0.0156"/><feFuncB type="table" tableValues="0.7537 0.7777 0.8016 0.8235 0.8453 0.8647 0.8841 0.9010 0.9178 0.9320 0.9461 0.9574 0.9685 0.9769 0.9851 0.9904 0.9955 0.9978 0.9998 0.9989 0.9978 0.9939 0.9898 0.9828 0.9757 0.9658 0.9557 0.9430 0.9300 0.9146 0.8990 0.8811 0.8626 0.8403 0.8178 0.7945 0.7711 0.7472 0.7231 0.6986 0.6741 0.6494 0.6247 0.5999 0.5751 0.5505 0.5259 0.5016 0.4773 0.4534 0.4297 0.4065 0.3834 0.3610 0.3387 0.3171 0.2958 0.2752 0.2549 0.2354 0.2162 0.1980 0.1800 0.1630 0.1502"/><feFuncA type="linear" slope="0" intercept="1"/></feComponentTransfer>
</filter>
<filter id="f21" x="0" y="0" width="100%" height="100%" filterUnits="objectBoundingBox" color-interpolation-filters="sRGB">
<feGaussianBlur in="SourceGraphic" stdDeviation="1.1" result="b"/>
<feTurbulence type="fractalNoise" baseFrequency="0.025" numOctaves="2" seed="23"/><feColorMatrix type="matrix" values="1 0 0 0 0  1 0 0 0 0  1 0 0 0 0  0 0 0 0 1" result="t0"/>
<feComposite in="b" in2="t0" operator="arithmetic" k1="0" k2="1" k3="0.1692" k4="-0.0846" result="s0"/>
<feTurbulence type="turbulence" baseFrequency="0.05" numOctaves="2" seed="24"/><feColorMatrix type="matrix" values="1 0 0 0 0  1 0 0 0 0  1 0 0 0 0  0 0 0 0 1"/>
<feComponentTransfer result="c10"><feFuncR type="table" tableValues="1.000 0.929 0.857 0.786 0.714 0.643 0.571 0.500 0.429 0.357 0.286 0.214 0.143 0.071 0.000 0.000 0.000 0.000 0.000 0.000 0.000 0.000 0.000 0.000 0.000 0.000 0.000 0.000 0.000 0.000 0.000 0.000 0.000 0.000 0.000 0.000 0.000 0.000 0.000 0.000 0.000 0.000 0.000 0.000 0.000 0.000 0.000 0.000 0.000 0.000 0.000 0.000 0.000 0.000 0.000 0.000 0.000 0.000 0.000 0.000 0.000 0.000 0.000 0.000 0.000 0.000 0.000 0.000 0.000 0.000 0.000 0.000 0.000 0.000 0.000 0.000 0.000 0.000 0.000 0.000 0.000 0.000 0.000 0.000 0.000 0.000 0.000 0.000 0.000 0.000 0.000 0.000 0.000 0.000 0.000 0.000 0.000 0.000 0.000 0.000 0.000"/><feFuncG type="table" tableValues="1.000 0.929 0.857 0.786 0.714 0.643 0.571 0.500 0.429 0.357 0.286 0.214 0.143 0.071 0.000 0.000 0.000 0.000 0.000 0.000 0.000 0.000 0.000 0.000 0.000 0.000 0.000 0.000 0.000 0.000 0.000 0.000 0.000 0.000 0.000 0.000 0.000 0.000 0.000 0.000 0.000 0.000 0.000 0.000 0.000 0.000 0.000 0.000 0.000 0.000 0.000 0.000 0.000 0.000 0.000 0.000 0.000 0.000 0.000 0.000 0.000 0.000 0.000 0.000 0.000 0.000 0.000 0.000 0.000 0.000 0.000 0.000 0.000 0.000 0.000 0.000 0.000 0.000 0.000 0.000 0.000 0.000 0.000 0.000 0.000 0.000 0.000 0.000 0.000 0.000 0.000 0.000 0.000 0.000 0.000 0.000 0.000 0.000 0.000 0.000 0.000"/><feFuncB type="table" tableValues="1.000 0.929 0.857 0.786 0.714 0.643 0.571 0.500 0.429 0.357 0.286 0.214 0.143 0.071 0.000 0.000 0.000 0.000 0.000 0.000 0.000 0.000 0.000 0.000 0.000 0.000 0.000 0.000 0.000 0.000 0.000 0.000 0.000 0.000 0.000 0.000 0.000 0.000 0.000 0.000 0.000 0.000 0.000 0.000 0.000 0.000 0.000 0.000 0.000 0.000 0.000 0.000 0.000 0.000 0.000 0.000 0.000 0.000 0.000 0.000 0.000 0.000 0.000 0.000 0.000 0.000 0.000 0.000 0.000 0.000 0.000 0.000 0.000 0.000 0.000 0.000 0.000 0.000 0.000 0.000 0.000 0.000 0.000 0.000 0.000 0.000 0.000 0.000 0.000 0.000 0.000 0.000 0.000 0.000 0.000 0.000 0.000 0.000 0.000 0.000 0.000"/></feComponentTransfer>
<feTurbulence type="fractalNoise" baseFrequency="0.012" numOctaves="2" seed="31"/><feColorMatrix type="matrix" values="1 0 0 0 0  1 0 0 0 0  1 0 0 0 0  0 0 0 0 1"/>
<feComponentTransfer result="m10"><feFuncR type="table" tableValues="0.000 0.000 0.000 0.000 0.000 0.000 0.000 0.000 0.000 0.000 0.000 0.000 0.000 0.000 0.000 0.000 0.000 0.000 0.000 0.000 0.000 0.000 0.000 0.000 0.000 0.000 0.000 0.000 0.000 0.000 0.000 0.000 0.000 0.000 0.000 0.000 0.000 0.000 0.000 0.000 0.000 0.000 0.000 0.063 0.125 0.188 0.250 0.313 0.375 0.438 0.500 0.563 0.625 0.688 0.750 0.813 0.875 0.938 1.000 1.000 1.000 1.000 1.000 1.000 1.000 1.000 1.000 1.000 1.000 1.000 1.000 1.000 1.000 1.000 1.000 1.000 1.000 1.000 1.000 1.000 1.000 1.000 1.000 1.000 1.000 1.000 1.000 1.000 1.000 1.000 1.000 1.000 1.000 1.000 1.000 1.000 1.000 1.000 1.000 1.000 1.000"/><feFuncG type="table" tableValues="0.000 0.000 0.000 0.000 0.000 0.000 0.000 0.000 0.000 0.000 0.000 0.000 0.000 0.000 0.000 0.000 0.000 0.000 0.000 0.000 0.000 0.000 0.000 0.000 0.000 0.000 0.000 0.000 0.000 0.000 0.000 0.000 0.000 0.000 0.000 0.000 0.000 0.000 0.000 0.000 0.000 0.000 0.000 0.063 0.125 0.188 0.250 0.313 0.375 0.438 0.500 0.563 0.625 0.688 0.750 0.813 0.875 0.938 1.000 1.000 1.000 1.000 1.000 1.000 1.000 1.000 1.000 1.000 1.000 1.000 1.000 1.000 1.000 1.000 1.000 1.000 1.000 1.000 1.000 1.000 1.000 1.000 1.000 1.000 1.000 1.000 1.000 1.000 1.000 1.000 1.000 1.000 1.000 1.000 1.000 1.000 1.000 1.000 1.000 1.000 1.000"/><feFuncB type="table" tableValues="0.000 0.000 0.000 0.000 0.000 0.000 0.000 0.000 0.000 0.000 0.000 0.000 0.000 0.000 0.000 0.000 0.000 0.000 0.000 0.000 0.000 0.000 0.000 0.000 0.000 0.000 0.000 0.000 0.000 0.000 0.000 0.000 0.000 0.000 0.000 0.000 0.000 0.000 0.000 0.000 0.000 0.000 0.000 0.063 0.125 0.188 0.250 0.313 0.375 0.438 0.500 0.563 0.625 0.688 0.750 0.813 0.875 0.938 1.000 1.000 1.000 1.000 1.000 1.000 1.000 1.000 1.000 1.000 1.000 1.000 1.000 1.000 1.000 1.000 1.000 1.000 1.000 1.000 1.000 1.000 1.000 1.000 1.000 1.000 1.000 1.000 1.000 1.000 1.000 1.000 1.000 1.000 1.000 1.000 1.000 1.000 1.000 1.000 1.000 1.000 1.000"/></feComponentTransfer>
<feComposite in="c10" in2="m10" operator="arithmetic" k1="1" k2="0" k3="0" k4="0" result="cm10"/>
<feTurbulence type="turbulence" baseFrequency="0.05" numOctaves="2" seed="124"/><feColorMatrix type="matrix" values="1 0 0 0 0  1 0 0 0 0  1 0 0 0 0  0 0 0 0 1"/>
<feComponentTransfer result="c11"><feFuncR type="table" tableValues="1.000 0.929 0.857 0.786 0.714 0.643 0.571 0.500 0.429 0.357 0.286 0.214 0.143 0.071 0.000 0.000 0.000 0.000 0.000 0.000 0.000 0.000 0.000 0.000 0.000 0.000 0.000 0.000 0.000 0.000 0.000 0.000 0.000 0.000 0.000 0.000 0.000 0.000 0.000 0.000 0.000 0.000 0.000 0.000 0.000 0.000 0.000 0.000 0.000 0.000 0.000 0.000 0.000 0.000 0.000 0.000 0.000 0.000 0.000 0.000 0.000 0.000 0.000 0.000 0.000 0.000 0.000 0.000 0.000 0.000 0.000 0.000 0.000 0.000 0.000 0.000 0.000 0.000 0.000 0.000 0.000 0.000 0.000 0.000 0.000 0.000 0.000 0.000 0.000 0.000 0.000 0.000 0.000 0.000 0.000 0.000 0.000 0.000 0.000 0.000 0.000"/><feFuncG type="table" tableValues="1.000 0.929 0.857 0.786 0.714 0.643 0.571 0.500 0.429 0.357 0.286 0.214 0.143 0.071 0.000 0.000 0.000 0.000 0.000 0.000 0.000 0.000 0.000 0.000 0.000 0.000 0.000 0.000 0.000 0.000 0.000 0.000 0.000 0.000 0.000 0.000 0.000 0.000 0.000 0.000 0.000 0.000 0.000 0.000 0.000 0.000 0.000 0.000 0.000 0.000 0.000 0.000 0.000 0.000 0.000 0.000 0.000 0.000 0.000 0.000 0.000 0.000 0.000 0.000 0.000 0.000 0.000 0.000 0.000 0.000 0.000 0.000 0.000 0.000 0.000 0.000 0.000 0.000 0.000 0.000 0.000 0.000 0.000 0.000 0.000 0.000 0.000 0.000 0.000 0.000 0.000 0.000 0.000 0.000 0.000 0.000 0.000 0.000 0.000 0.000 0.000"/><feFuncB type="table" tableValues="1.000 0.929 0.857 0.786 0.714 0.643 0.571 0.500 0.429 0.357 0.286 0.214 0.143 0.071 0.000 0.000 0.000 0.000 0.000 0.000 0.000 0.000 0.000 0.000 0.000 0.000 0.000 0.000 0.000 0.000 0.000 0.000 0.000 0.000 0.000 0.000 0.000 0.000 0.000 0.000 0.000 0.000 0.000 0.000 0.000 0.000 0.000 0.000 0.000 0.000 0.000 0.000 0.000 0.000 0.000 0.000 0.000 0.000 0.000 0.000 0.000 0.000 0.000 0.000 0.000 0.000 0.000 0.000 0.000 0.000 0.000 0.000 0.000 0.000 0.000 0.000 0.000 0.000 0.000 0.000 0.000 0.000 0.000 0.000 0.000 0.000 0.000 0.000 0.000 0.000 0.000 0.000 0.000 0.000 0.000 0.000 0.000 0.000 0.000 0.000 0.000"/></feComponentTransfer>
<feTurbulence type="fractalNoise" baseFrequency="0.012" numOctaves="2" seed="131"/><feColorMatrix type="matrix" values="1 0 0 0 0  1 0 0 0 0  1 0 0 0 0  0 0 0 0 1"/>
<feComponentTransfer result="m11"><feFuncR type="table" tableValues="0.000 0.000 0.000 0.000 0.000 0.000 0.000 0.000 0.000 0.000 0.000 0.000 0.000 0.000 0.000 0.000 0.000 0.000 0.000 0.000 0.000 0.000 0.000 0.000 0.000 0.000 0.000 0.000 0.000 0.000 0.000 0.000 0.000 0.000 0.000 0.000 0.000 0.000 0.000 0.000 0.000 0.000 0.000 0.063 0.125 0.188 0.250 0.313 0.375 0.438 0.500 0.563 0.625 0.688 0.750 0.813 0.875 0.938 1.000 1.000 1.000 1.000 1.000 1.000 1.000 1.000 1.000 1.000 1.000 1.000 1.000 1.000 1.000 1.000 1.000 1.000 1.000 1.000 1.000 1.000 1.000 1.000 1.000 1.000 1.000 1.000 1.000 1.000 1.000 1.000 1.000 1.000 1.000 1.000 1.000 1.000 1.000 1.000 1.000 1.000 1.000"/><feFuncG type="table" tableValues="0.000 0.000 0.000 0.000 0.000 0.000 0.000 0.000 0.000 0.000 0.000 0.000 0.000 0.000 0.000 0.000 0.000 0.000 0.000 0.000 0.000 0.000 0.000 0.000 0.000 0.000 0.000 0.000 0.000 0.000 0.000 0.000 0.000 0.000 0.000 0.000 0.000 0.000 0.000 0.000 0.000 0.000 0.000 0.063 0.125 0.188 0.250 0.313 0.375 0.438 0.500 0.563 0.625 0.688 0.750 0.813 0.875 0.938 1.000 1.000 1.000 1.000 1.000 1.000 1.000 1.000 1.000 1.000 1.000 1.000 1.000 1.000 1.000 1.000 1.000 1.000 1.000 1.000 1.000 1.000 1.000 1.000 1.000 1.000 1.000 1.000 1.000 1.000 1.000 1.000 1.000 1.000 1.000 1.000 1.000 1.000 1.000 1.000 1.000 1.000 1.000"/><feFuncB type="table" tableValues="0.000 0.000 0.000 0.000 0.000 0.000 0.000 0.000 0.000 0.000 0.000 0.000 0.000 0.000 0.000 0.000 0.000 0.000 0.000 0.000 0.000 0.000 0.000 0.000 0.000 0.000 0.000 0.000 0.000 0.000 0.000 0.000 0.000 0.000 0.000 0.000 0.000 0.000 0.000 0.000 0.000 0.000 0.000 0.063 0.125 0.188 0.250 0.313 0.375 0.438 0.500 0.563 0.625 0.688 0.750 0.813 0.875 0.938 1.000 1.000 1.000 1.000 1.000 1.000 1.000 1.000 1.000 1.000 1.000 1.000 1.000 1.000 1.000 1.000 1.000 1.000 1.000 1.000 1.000 1.000 1.000 1.000 1.000 1.000 1.000 1.000 1.000 1.000 1.000 1.000 1.000 1.000 1.000 1.000 1.000 1.000 1.000 1.000 1.000 1.000 1.000"/></feComponentTransfer>
<feComposite in="c11" in2="m11" operator="arithmetic" k1="1" k2="0" k3="0" k4="0" result="cm11"/>
<feColorMatrix in="cm11" type="matrix" values="-1 0 0 0 1  -1 0 0 0 1  -1 0 0 0 1  0 0 0 0 1" result="cmi1"/>
<feComposite in="s0" in2="cm10" operator="arithmetic" k1="0" k2="1" k3="0.1385" k4="0" result="s1a"/>
<feComposite in="s1a" in2="cmi1" operator="arithmetic" k1="0" k2="1" k3="0.1385" k4="-0.1385" result="s1"/>
<feComponentTransfer in="s1" result="g"><feFuncR type="linear" slope="1.3000" intercept="-0.1500"/><feFuncG type="linear" slope="1.3000" intercept="-0.1500"/><feFuncB type="linear" slope="1.3000" intercept="-0.1500"/></feComponentTransfer>
<feComponentTransfer in="g"><feFuncR type="table" tableValues="0.2298 0.2481 0.2664 0.2853 0.3042 0.3237 0.3433 0.3635 0.3837 0.4044 0.4252 0.4464 0.4677 0.4892 0.5108 0.5326 0.5543 0.5761 0.5978 0.6193 0.6408 0.6620 0.6831 0.7036 0.7240 0.7438 0.7634 0.7820 0.8006 0.8181 0.8353 0.8514 0.8674 0.8837 0.8995 0.9128 0.9256 0.9358 0.9455 0.9528 0.9595 0.9638 0.9675 0.9689 0.9697 0.9681 0.9660 0.9616 0.9567 0.9495 0.9417 0.9318 0.9214 0.9089 0.8959 0.8809 0.8654 0.8480 0.8302 0.8106 0.7906 0.7689 0.7468 0.7233 0.7057"/><feFuncG type="table" tableValues="0.2987 0.3260 0.3533 0.3801 0.4069 0.4332 0.4594 0.4848 0.5102 0.5346 0.5591 0.5824 0.6056 0.6275 0.6494 0.6698 0.6901 0.7088 0.7273 0.7441 0.7608 0.7755 0.7900 0.8026 0.8149 0.8251 0.8351 0.8429 0.8504 0.8556 0.8605 0.8631 0.8644 0.8561 0.8475 0.8367 0.8255 0.8122 0.7986 0.7830 0.7670 0.7491 0.7308 0.7108 0.6905 0.6685 0.6461 0.6222 0.5980 0.5724 0.5464 0.5191 0.4914 0.4624 0.4331 0.4023 0.3711 0.3383 0.3047 0.2688 0.2314 0.1892 0.1400 0.0689 0.0156"/><feFuncB type="table" tableValues="0.7537 0.7777 0.8016 0.8235 0.8453 0.8647 0.8841 0.9010 0.9178 0.9320 0.9461 0.9574 0.9685 0.9769 0.9851 0.9904 0.9955 0.9978 0.9998 0.9989 0.9978 0.9939 0.9898 0.9828 0.9757 0.9658 0.9557 0.9430 0.9300 0.9146 0.8990 0.8811 0.8626 0.8403 0.8178 0.7945 0.7711 0.7472 0.7231 0.6986 0.6741 0.6494 0.6247 0.5999 0.5751 0.5505 0.5259 0.5016 0.4773 0.4534 0.4297 0.4065 0.3834 0.3610 0.3387 0.3171 0.2958 0.2752 0.2549 0.2354 0.2162 0.1980 0.1800 0.1630 0.1502"/><feFuncA type="linear" slope="0" intercept="1"/></feComponentTransfer>
</filter>
<filter id="hsoft" x="-5%" y="-5%" width="110%" height="110%" color-interpolation-filters="sRGB"><feGaussianBlur stdDeviation="1.5"/></filter>
<filter id="er1" x="-5%" y="-5%" width="110%" height="110%"><feMorphology operator="erode" radius="1"/></filter>
<filter id="er05" x="-5%" y="-5%" width="110%" height="110%"><feMorphology operator="erode" radius="0.5"/></filter>
<filter id="hb" x="-20%" y="-20%" width="140%" height="140%" color-interpolation-filters="sRGB"><feGaussianBlur stdDeviation="9"/></filter>
<filter id="hb2" x="-20%" y="-20%" width="140%" height="140%" color-interpolation-filters="sRGB"><feGaussianBlur stdDeviation="2.2"/></filter>
<filter id="pur0" filterUnits="userSpaceOnUse" x="720" y="41" width="319" height="336" color-interpolation-filters="sRGB">
<feTurbulence type="fractalNoise" baseFrequency="0.45" numOctaves="2" seed="7" result="t"/>
<feColorMatrix in="t" type="matrix" values="2.6 0 0 0 -0.8  2.6 0 0 0 -0.8  2.6 0 0 0 -0.8  0 0 0 0 1" result="n"/>
<feComposite in="SourceGraphic" in2="n" operator="arithmetic" k1="1.7" k2="0.2" k3="0.03" k4="-0.008" result="s"/>
<feFlood x="721" y="42" width="1" height="1" flood-color="#000" result="px0"/><feComposite in="px0" in2="px0" operator="over" x="720" y="41" width="3" height="3" result="px1"/><feTile in="px1" result="px2"/><feComposite in="s" in2="px2" operator="in" result="px3"/><feMorphology in="px3" operator="dilate" radius="1" result="pp"/>
<feComponentTransfer in="pp"><feFuncR type="table" tableValues="0.9882 0.9754 0.9626 0.9499 0.9369 0.9163 0.8956 0.8749 0.8540 0.8245 0.7949 0.7654 0.7359 0.7063 0.6768 0.6473 0.6178 0.5882 0.5587 0.5292 0.5003 0.4786 0.4570 0.4353 0.4137 0.3920 0.3703 0.3487 0.3272 0.3065 0.2858 0.2651 0.2471"/><feFuncG type="table" tableValues="0.9843 0.9705 0.9568 0.9430 0.9291 0.9104 0.8917 0.8730 0.8540 0.8255 0.7969 0.7684 0.7396 0.7051 0.6707 0.6362 0.6021 0.5736 0.5451 0.5165 0.4868 0.4435 0.4002 0.3569 0.3138 0.2724 0.2311 0.1898 0.1487 0.1104 0.0720 0.0336 0.0000"/><feFuncB type="table" tableValues="0.9922 0.9843 0.9764 0.9685 0.9606 0.9508 0.9409 0.9311 0.9211 0.9063 0.8916 0.8768 0.8618 0.8421 0.8225 0.8028 0.7835 0.7697 0.7559 0.7421 0.7276 0.7050 0.6824 0.6597 0.6374 0.6177 0.5980 0.5783 0.5588 0.5411 0.5234 0.5057 0.4902"/><feFuncA type="linear" slope="0" intercept="1"/></feComponentTransfer>
</filter>
<filter id="core0" filterUnits="userSpaceOnUse" x="720" y="41" width="319" height="336" color-interpolation-filters="sRGB">
<feFlood x="721" y="42" width="1" height="1" flood-color="#000" result="px0"/><feComposite in="px0" in2="px0" operator="over" x="720" y="41" width="3" height="3" result="px1"/><feTile in="px1" result="px2"/><feComposite in="SourceGraphic" in2="px2" operator="in" result="px3"/><feMorphology in="px3" operator="dilate" radius="1" result="cp"/>
<feGaussianBlur in="cp" stdDeviation="0.45"/></filter>
<filter id="pur1" filterUnits="userSpaceOnUse" x="720" y="381" width="319" height="336" color-interpolation-filters="sRGB">
<feTurbulence type="fractalNoise" baseFrequency="0.45" numOctaves="2" seed="8" result="t"/>
<feColorMatrix in="t" type="matrix" values="2.6 0 0 0 -0.8  2.6 0 0 0 -0.8  2.6 0 0 0 -0.8  0 0 0 0 1" result="n"/>
<feComposite in="SourceGraphic" in2="n" operator="arithmetic" k1="1.7" k2="0.2" k3="0.03" k4="-0.008" result="s"/>
<feFlood x="721" y="382" width="1" height="1" flood-color="#000" result="px0"/><feComposite in="px0" in2="px0" operator="over" x="720" y="381" width="3" height="3" result="px1"/><feTile in="px1" result="px2"/><feComposite in="s" in2="px2" operator="in" result="px3"/><feMorphology in="px3" operator="dilate" radius="1" result="pp"/>
<feComponentTransfer in="pp"><feFuncR type="table" tableValues="0.9882 0.9754 0.9626 0.9499 0.9369 0.9163 0.8956 0.8749 0.8540 0.8245 0.7949 0.7654 0.7359 0.7063 0.6768 0.6473 0.6178 0.5882 0.5587 0.5292 0.5003 0.4786 0.4570 0.4353 0.4137 0.3920 0.3703 0.3487 0.3272 0.3065 0.2858 0.2651 0.2471"/><feFuncG type="table" tableValues="0.9843 0.9705 0.9568 0.9430 0.9291 0.9104 0.8917 0.8730 0.8540 0.8255 0.7969 0.7684 0.7396 0.7051 0.6707 0.6362 0.6021 0.5736 0.5451 0.5165 0.4868 0.4435 0.4002 0.3569 0.3138 0.2724 0.2311 0.1898 0.1487 0.1104 0.0720 0.0336 0.0000"/><feFuncB type="table" tableValues="0.9922 0.9843 0.9764 0.9685 0.9606 0.9508 0.9409 0.9311 0.9211 0.9063 0.8916 0.8768 0.8618 0.8421 0.8225 0.8028 0.7835 0.7697 0.7559 0.7421 0.7276 0.7050 0.6824 0.6597 0.6374 0.6177 0.5980 0.5783 0.5588 0.5411 0.5234 0.5057 0.4902"/><feFuncA type="linear" slope="0" intercept="1"/></feComponentTransfer>
</filter>
<filter id="core1" filterUnits="userSpaceOnUse" x="720" y="381" width="319" height="336" color-interpolation-filters="sRGB">
<feFlood x="721" y="382" width="1" height="1" flood-color="#000" result="px0"/><feComposite in="px0" in2="px0" operator="over" x="720" y="381" width="3" height="3" result="px1"/><feTile in="px1" result="px2"/><feComposite in="SourceGraphic" in2="px2" operator="in" result="px3"/><feMorphology in="px3" operator="dilate" radius="1" result="cp"/>
<feGaussianBlur in="cp" stdDeviation="0.45"/></filter>
<filter id="pur2" filterUnits="userSpaceOnUse" x="720" y="720" width="319" height="336" color-interpolation-filters="sRGB">
<feTurbulence type="fractalNoise" baseFrequency="0.45" numOctaves="2" seed="9" result="t"/>
<feColorMatrix in="t" type="matrix" values="2.6 0 0 0 -0.8  2.6 0 0 0 -0.8  2.6 0 0 0 -0.8  0 0 0 0 1" result="n"/>
<feComposite in="SourceGraphic" in2="n" operator="arithmetic" k1="1.7" k2="0.2" k3="0.03" k4="-0.008" result="s"/>
<feFlood x="721" y="721" width="1" height="1" flood-color="#000" result="px0"/><feComposite in="px0" in2="px0" operator="over" x="720" y="720" width="3" height="3" result="px1"/><feTile in="px1" result="px2"/><feComposite in="s" in2="px2" operator="in" result="px3"/><feMorphology in="px3" operator="dilate" radius="1" result="pp"/>
<feComponentTransfer in="pp"><feFuncR type="table" tableValues="0.9882 0.9754 0.9626 0.9499 0.9369 0.9163 0.8956 0.8749 0.8540 0.8245 0.7949 0.7654 0.7359 0.7063 0.6768 0.6473 0.6178 0.5882 0.5587 0.5292 0.5003 0.4786 0.4570 0.4353 0.4137 0.3920 0.3703 0.3487 0.3272 0.3065 0.2858 0.2651 0.2471"/><feFuncG type="table" tableValues="0.9843 0.9705 0.9568 0.9430 0.9291 0.9104 0.8917 0.8730 0.8540 0.8255 0.7969 0.7684 0.7396 0.7051 0.6707 0.6362 0.6021 0.5736 0.5451 0.5165 0.4868 0.4435 0.4002 0.3569 0.3138 0.2724 0.2311 0.1898 0.1487 0.1104 0.0720 0.0336 0.0000"/><feFuncB type="table" tableValues="0.9922 0.9843 0.9764 0.9685 0.9606 0.9508 0.9409 0.9311 0.9211 0.9063 0.8916 0.8768 0.8618 0.8421 0.8225 0.8028 0.7835 0.7697 0.7559 0.7421 0.7276 0.7050 0.6824 0.6597 0.6374 0.6177 0.5980 0.5783 0.5588 0.5411 0.5234 0.5057 0.4902"/><feFuncA type="linear" slope="0" intercept="1"/></feComponentTransfer>
</filter>
<filter id="core2" filterUnits="userSpaceOnUse" x="720" y="720" width="319" height="336" color-interpolation-filters="sRGB">
<feFlood x="721" y="721" width="1" height="1" flood-color="#000" result="px0"/><feComposite in="px0" in2="px0" operator="over" x="720" y="720" width="3" height="3" result="px1"/><feTile in="px1" result="px2"/><feComposite in="SourceGraphic" in2="px2" operator="in" result="px3"/><feMorphology in="px3" operator="dilate" radius="1" result="cp"/>
<feGaussianBlur in="cp" stdDeviation="0.45"/></filter>
<linearGradient id="cwg" x1="0" y1="0" x2="0" y2="1"><stop offset="0" stop-color="rgb(180,4,38)"/><stop offset="0.03" stop-color="rgb(190,36,46)"/><stop offset="0.06" stop-color="rgb(202,59,55)"/><stop offset="0.09" stop-color="rgb(212,78,65)"/><stop offset="0.12" stop-color="rgb(221,95,75)"/><stop offset="0.16" stop-color="rgb(228,110,86)"/><stop offset="0.19" stop-color="rgb(235,125,98)"/><stop offset="0.22" stop-color="rgb(240,139,110)"/><stop offset="0.25" stop-color="rgb(244,152,122)"/><stop offset="0.28" stop-color="rgb(246,165,134)"/><stop offset="0.31" stop-color="rgb(247,176,147)"/><stop offset="0.34" stop-color="rgb(247,186,159)"/><stop offset="0.38" stop-color="rgb(245,196,172)"/><stop offset="0.41" stop-color="rgb(241,204,184)"/><stop offset="0.44" stop-color="rgb(236,211,197)"/><stop offset="0.47" stop-color="rgb(229,216,209)"/><stop offset="0.5" stop-color="rgb(221,220,220)"/><stop offset="0.53" stop-color="rgb(213,219,229)"/><stop offset="0.56" stop-color="rgb(204,217,237)"/><stop offset="0.59" stop-color="rgb(195,213,244)"/><stop offset="0.62" stop-color="rgb(185,208,249)"/><stop offset="0.66" stop-color="rgb(174,201,252)"/><stop offset="0.69" stop-color="rgb(163,194,254)"/><stop offset="0.72" stop-color="rgb(152,185,255)"/><stop offset="0.75" stop-color="rgb(141,176,254)"/><stop offset="0.78" stop-color="rgb(130,166,251)"/><stop offset="0.81" stop-color="rgb(119,154,247)"/><stop offset="0.84" stop-color="rgb(108,143,241)"/><stop offset="0.88" stop-color="rgb(98,130,234)"/><stop offset="0.91" stop-color="rgb(88,117,225)"/><stop offset="0.94" stop-color="rgb(78,104,216)"/><stop offset="0.97" stop-color="rgb(68,90,204)"/><stop offset="1" stop-color="rgb(59,76,192)"/></linearGradient>
<clipPath id="cp00"><rect x="0" y="0" width="306.5" height="306.4"/></clipPath>
<clipPath id="cp01"><rect x="0" y="0" width="306.5" height="306.4"/></clipPath>
<clipPath id="cs0"><rect x="726.1" y="47.6" width="306" height="322.8"/></clipPath>
<clipPath id="cp10"><rect x="0" y="0" width="306.5" height="306.4"/></clipPath>
<clipPath id="cp11"><rect x="0" y="0" width="306.5" height="306.4"/></clipPath>
<clipPath id="cs1"><rect x="726.1" y="387.4" width="306" height="322.8"/></clipPath>
<clipPath id="cp20"><rect x="0" y="0" width="306.5" height="306.4"/></clipPath>
<clipPath id="cp21"><rect x="0" y="0" width="306.5" height="306.4"/></clipPath>
<clipPath id="cs2"><rect x="726.1" y="726.8" width="306" height="322.8"/></clipPath>
</defs>
<g transform="translate(81.8 56)" clip-path="url(#cp00)">
<g filter="url(#f00)">
<rect x="-10" y="-10" width="326.5" height="326.4" fill="#808080"/>
<path d="M50.86 2.11 L63.52 9.85 L76.19 14.78" fill="none" stroke="#626262" stroke-width="3.23" stroke-linecap="round" stroke-linejoin="round"/>
<path d="M74.78 1.41 L80.41 6.33 L84.63 9.85" fill="none" stroke="#9d9d9d" stroke-width="4.22" stroke-linecap="round" stroke-linejoin="round"/>
<ellipse cx="72.67" cy="46.44" rx="1.99" ry="2.27" fill="#989898"/>
<path d="M82.52 32.37 L84.63 45.03 L95.89 52.77 L107.15 47.85 L111.37 37.99 L104.33 28.14 L93.08 26.74" fill="none" stroke="#747474" stroke-width="2.67" stroke-linecap="round" stroke-linejoin="round"/>
<path d="M1.61 63.32 L14.27 64.03 L25.53 65.44" fill="none" stroke="#717171" stroke-width="3.51" stroke-linecap="round" stroke-linejoin="round"/>
<path d="M115.59 46.44 L138.11 49.25 L160.2 59.1" fill="none" stroke="#898989" stroke-width="1.83" stroke-linecap="round" stroke-linejoin="round"/>
<path d="M90.26 73.18 L90.26 90.06" fill="none" stroke="#9b9b9b" stroke-width="2.39" stroke-linecap="round" stroke-linejoin="round"/>
<path d="M97.3 73.18 L94.48 84.43 L93.36 92.88" fill="none" stroke="#9f9f9f" stroke-width="2.39" stroke-linecap="round" stroke-linejoin="round"/>
<ellipse cx="108.56" cy="113.7" rx="2.41" ry="2.41" fill="#bababa"/>
<ellipse cx="37.49" cy="81.62" rx="1.99" ry="1.99" fill="#a7a7a7"/>
<path d="M71.26 102.02 L79 100.62 L86.04 100.19" fill="none" stroke="#5d5d5d" stroke-width="3.23" stroke-linecap="round" stroke-linejoin="round"/>
<path d="M30.46 106.95 L31.16 112.58" fill="none" stroke="#8e8e8e" stroke-width="2.11" stroke-linecap="round" stroke-linejoin="round"/>
<path d="M56.49 109.76 L55.78 118.21" fill="none" stroke="#8b8b8b" stroke-width="1.83" stroke-linecap="round" stroke-linejoin="round"/>
<path d="M38.19 138.61 L28.34 143.54 L21.31 148.46 L12.86 151.28 L4.42 154.09" fill="none" stroke="#acacac" stroke-width="6.33" stroke-linecap="round" stroke-linejoin="round"/>
<path d="M38.19 140.72 L38.9 149.16 L41.71 157.61" fill="none" stroke="#bababa" stroke-width="2.81" stroke-linecap="round" stroke-linejoin="round"/>
<path d="M46.64 142.13 L48.75 149.16" fill="none" stroke="#b1b1b1" stroke-width="2.39" stroke-linecap="round" stroke-linejoin="round"/>
<path d="M150.2 52.07 L168.49 52.77 L181.16 47.85" fill="none" stroke="#898989" stroke-width="1.54" stroke-linecap="round" stroke-linejoin="round"/>
<path d="M246.59 25.33 L246.59 53.47" fill="none" stroke="#8e8e8e" stroke-width="1.83" stroke-linecap="round" stroke-linejoin="round"/>
<ellipse cx="217.75" cy="21.11" rx="3.4" ry="3.4" fill="#676767"/>
<ellipse cx="231.82" cy="21.11" rx="3.4" ry="3.4" fill="#717171"/>
<ellipse cx="203.67" cy="34.48" rx="2.83" ry="2.83" fill="#717171"/>
<ellipse cx="239.56" cy="49.25" rx="1.99" ry="1.99" fill="#676767"/>
<ellipse cx="186.79" cy="77.4" rx="1.99" ry="1.99" fill="#6c6c6c"/>
<ellipse cx="253.63" cy="76.69" rx="1.99" ry="2.55" fill="#676767"/>
<path d="M250.11 68.95 L248.7 78.8 L248.7 85.84" fill="none" stroke="#939393" stroke-width="2.11" stroke-linecap="round" stroke-linejoin="round"/>
<ellipse cx="175.53" cy="9.15" rx="1.71" ry="1.71" fill="#9d9d9d"/>
<ellipse cx="244.48" cy="116.8" rx="1.99" ry="1.99" fill="#a2a2a2"/>
<path d="M250.82 15.48 L241.67 21.11 L234.63 26.74" fill="none" stroke="#a7a7a7" stroke-width="3.23" stroke-linecap="round" stroke-linejoin="round"/>
<path d="M271.92 6.33 L281.07 4.93 L290.92 3.52" fill="none" stroke="#b1b1b1" stroke-width="2.67" stroke-linecap="round" stroke-linejoin="round"/>
<path d="M296.55 5.63 L301.48 12.66" fill="none" stroke="#b1b1b1" stroke-width="3.23" stroke-linecap="round" stroke-linejoin="round"/>
<ellipse cx="195.23" cy="49.96" rx="2.83" ry="2.83" fill="#a7a7a7"/>
<ellipse cx="192.42" cy="40.81" rx="1.99" ry="1.99" fill="#9d9d9d"/>
<path d="M223.38 30.26 L226.19 33.07" fill="none" stroke="#a2a2a2" stroke-width="3.23" stroke-linecap="round" stroke-linejoin="round"/>
<path d="M238.15 101.32 L236.04 106.95 L240.26 111.17" fill="none" stroke="#9d9d9d" stroke-width="1.83" stroke-linecap="round" stroke-linejoin="round"/>
<path d="M243.08 111.17 L229 116.8 L210.71 123.13" fill="none" stroke="#b1b1b1" stroke-width="2.95" stroke-linecap="round" stroke-linejoin="round"/>
<path d="M210.71 123.13 L191.01 128.06" fill="none" stroke="#bfbfbf" stroke-width="3.23" stroke-linecap="round" stroke-linejoin="round"/>
<path d="M255.04 111.17 L276.85 129.46 L305.7 152.68" fill="none" stroke="#acacac" stroke-width="2.11" stroke-linecap="round" stroke-linejoin="round"/>
<path d="M3.01 225.99 L11.46 230.91 L21.31 234.43" fill="none" stroke="#717171" stroke-width="2.67" stroke-linecap="round" stroke-linejoin="round"/>
<ellipse cx="63.52" cy="181.66" rx="3.11" ry="3.11" fill="#717171"/>
<path d="M107.15 196.44 L117 197.85 L119.81 202.07" fill="none" stroke="#6c6c6c" stroke-width="2.67" stroke-linecap="round" stroke-linejoin="round"/>
<path d="M98.7 206.29 L104.33 210.51 L112.78 209.1" fill="none" stroke="#717171" stroke-width="2.39" stroke-linecap="round" stroke-linejoin="round"/>
<path d="M130.37 199.25 L129.66 216.14" fill="none" stroke="#676767" stroke-width="3.51" stroke-linecap="round" stroke-linejoin="round"/>
<ellipse cx="93.08" cy="221.77" rx="3.4" ry="2.27" fill="#6c6c6c"/>
<ellipse cx="62.12" cy="252.02" rx="5.23" ry="2.41" fill="#676767"/>
<ellipse cx="36.79" cy="257.65" rx="3.82" ry="1.71" fill="#6c6c6c"/>
<path d="M70.56 303.39 L101.52 304.79" fill="none" stroke="#787878" stroke-width="2.67" stroke-linecap="round" stroke-linejoin="round"/>
<ellipse cx="118.41" cy="206.29" rx="2.27" ry="1.71" fill="#a7a7a7"/>
<ellipse cx="133.18" cy="230.91" rx="2.27" ry="2.27" fill="#acacac"/>
<ellipse cx="121.22" cy="223.18" rx="1.71" ry="1.71" fill="#9d9d9d"/>
<ellipse cx="90.26" cy="223.88" rx="1.71" ry="1.71" fill="#9d9d9d"/>
<path d="M140.92 238.65 L152.18 242.88 L160.2 247.1" fill="none" stroke="#989898" stroke-width="2.11" stroke-linecap="round" stroke-linejoin="round"/>
<path d="M107.15 247.1 L101.52 256.95 L94.48 261.17 L89.56 263.98 L89.56 269.61" fill="none" stroke="#a2a2a2" stroke-width="2.67" stroke-linecap="round" stroke-linejoin="round"/>
<path d="M108.56 234.43 L115.59 230.21 L121.22 224.58" fill="none" stroke="#939393" stroke-width="2.11" stroke-linecap="round" stroke-linejoin="round"/>
<path d="M38.19 254.84 L45.23 255.54" fill="none" stroke="#9d9d9d" stroke-width="2.11" stroke-linecap="round" stroke-linejoin="round"/>
<path d="M42.42 273.83 L32.57 286.5 L18.49 303.39" fill="none" stroke="#9d9d9d" stroke-width="2.39" stroke-linecap="round" stroke-linejoin="round"/>
<path d="M42.42 273.83 L48.05 276.65" fill="none" stroke="#9d9d9d" stroke-width="2.11" stroke-linecap="round" stroke-linejoin="round"/>
<path d="M38.19 150 L42.42 161.26 L48.05 172.52 L53.67 180.96 L57.9 185.18" fill="none" stroke="#b1b1b1" stroke-width="2.39" stroke-linecap="round" stroke-linejoin="round"/>
<path d="M59.3 186.87 L66.34 186.87 L71.97 183.77 L73.38 180.26" fill="none" stroke="#a7a7a7" stroke-width="2.39" stroke-linecap="round" stroke-linejoin="round"/>
<path d="M3.01 152.81 L8.64 154.22 L12.16 156.33 L10.05 160.55 L5.83 164.07" fill="none" stroke="#c4c4c4" stroke-width="3.51" stroke-linecap="round" stroke-linejoin="round"/>
<path d="M104.33 176.74 L117 177.44 L126.85 176.03 L131.77 173.92" fill="none" stroke="#b1b1b1" stroke-width="2.67" stroke-linecap="round" stroke-linejoin="round"/>
<path d="M133.89 171.11 L140.92 167.59 L149.36 168.29 L154.99 166.89 L160.2 164.78" fill="none" stroke="#c9c9c9" stroke-width="3.23" stroke-linecap="round" stroke-linejoin="round"/>
<path d="M58.6 289.31 L62.12 297.76" fill="none" stroke="#a7a7a7" stroke-width="2.11" stroke-linecap="round" stroke-linejoin="round"/>
<path d="M67.75 299.16 L72.67 305.5" fill="none" stroke="#b1b1b1" stroke-width="2.67" stroke-linecap="round" stroke-linejoin="round"/>
<ellipse cx="234.63" cy="178.14" rx="12.96" ry="11.56" fill="#858585"/>
<path d="M210.71 210.51 L240.26 214.03 L257.15 216.14" fill="none" stroke="#747474" stroke-width="3.51" stroke-linecap="round" stroke-linejoin="round"/>
<ellipse cx="252.93" cy="257.65" rx="4.52" ry="3.82" fill="#6c6c6c"/>
<ellipse cx="302.18" cy="228.8" rx="2.83" ry="2.83" fill="#676767"/>
<ellipse cx="187.91" cy="290.44" rx="2.27" ry="2.27" fill="#585858"/>
<ellipse cx="209.3" cy="256.95" rx="8.74" ry="7.34" fill="#747474"/>
<path d="M186.08 189.4 L191.01 197.85 L193.82 203.47 L199.45 210.51" fill="none" stroke="#acacac" stroke-width="3.8" stroke-linecap="round" stroke-linejoin="round"/>
<path d="M191.71 198.55 L193.12 202.77" fill="none" stroke="#cecece" stroke-width="2.11" stroke-linecap="round" stroke-linejoin="round"/>
<path d="M150.2 169 L155.83 166.18 L162.86 164.07 L169.9 164.07" fill="none" stroke="#bababa" stroke-width="2.95" stroke-linecap="round" stroke-linejoin="round"/>
<path d="M194.53 266.8 L195.23 276.65 L196.64 283.69" fill="none" stroke="#9d9d9d" stroke-width="2.11" stroke-linecap="round" stroke-linejoin="round"/>
<ellipse cx="206.49" cy="285.8" rx="1.99" ry="1.99" fill="#a7a7a7"/>
<path d="M198.05 287.91 L192.42 290.72" fill="none" stroke="#9d9d9d" stroke-width="2.39" stroke-linecap="round" stroke-linejoin="round"/>
<path d="M164.27 301.98 L169.2 299.16 L175.53 302.68" fill="none" stroke="#a7a7a7" stroke-width="3.23" stroke-linecap="round" stroke-linejoin="round"/>
<path d="M268.41 210.51 L276.85 206.29 L285.29 202.07" fill="none" stroke="#989898" stroke-width="2.67" stroke-linecap="round" stroke-linejoin="round"/>
<path d="M276.85 214.73 L285.29 217.55 L290.92 223.18" fill="none" stroke="#acacac" stroke-width="4.08" stroke-linecap="round" stroke-linejoin="round"/>
<path d="M281.07 220.36 L283.89 228.8" fill="none" stroke="#bababa" stroke-width="4.64" stroke-linecap="round" stroke-linejoin="round"/>
<path d="M269.81 234.43 L268.41 245.69 L269.81 256.95" fill="none" stroke="#bfbfbf" stroke-width="5.77" stroke-linecap="round" stroke-linejoin="round"/>
<path d="M276.85 233.03 L272.63 245.69" fill="none" stroke="#b5b5b5" stroke-width="3.23" stroke-linecap="round" stroke-linejoin="round"/>
<path d="M177.7 138.94 L179.95 151.61 L182.2 165.68" fill="none" stroke="#acacac" stroke-width="5.7" stroke-linecap="round" stroke-linejoin="round"/>
<path d="M188.4 191.01 L192.62 202.27 L199.65 211.27" fill="none" stroke="#b1b1b1" stroke-width="2.3" stroke-linecap="round" stroke-linejoin="round"/>
<g filter="url(#hsoft)">
<path d="M38.19 138.61 L28.34 143.54 L21.31 148.46 L12.86 151.28 L4.42 154.09" fill="none" stroke="#b1b1b1" stroke-width="5.55" stroke-linecap="round" stroke-linejoin="round"/>
<path d="M75.49 17.59 L81.11 16.18 L82.52 19 L81.11 26.74 L76.19 30.26 L74.08 25.33Z" fill="#b1b1b1" stroke="#b1b1b1" stroke-width="2.6" stroke-linejoin="round"/>
<path d="M81.82 54.18 L86.04 52.77 L91.67 57.7 L98.7 59.1 L107.15 55.58 L112.07 53.47 L113.9 56.29 L111.37 59.81 L101.52 66.14 L96.59 70.36 L93.08 71.77 L89.56 68.95 L87.45 60.51 L83.23 56.99Z" fill="#b1b1b1" stroke="#b1b1b1" stroke-width="2.6" stroke-linejoin="round"/>
<path d="M91.67 94.28 L94.48 95.69 L98.7 104.13 L101.52 112.58 L103.63 114.69 L100.82 115.39 L97.3 109.76 L93.78 104.84 L91.67 116.8 L90.26 135.09 L87.45 146.35 L86.04 160 L73.38 160 L73.38 151.98 L69.15 146.35 L60.71 137.2 L56.49 140.72 L55.78 144.94 L50.86 144.94 L45.23 140.72 L40.31 135.09 L38.9 127.35 L42.42 126.65 L45.23 131.57 L53.67 130.17 L62.12 131.57 L70.56 136.5 L77.6 140.72 L81.11 135.09 L83.23 123.83 L87.45 112.58 L90.26 101.32Z" fill="#b1b1b1" stroke="#b1b1b1" stroke-width="2.6" stroke-linejoin="round"/>
<path d="M242.37 10.55 L247.3 13.37 L250.82 14.78 L255.04 12.66" fill="none" stroke="#b1b1b1" stroke-width="6.4" stroke-linecap="round" stroke-linejoin="round"/>
<path d="M257.15 3.52 L262.78 0.7 L269.81 0.7 L271.92 5.63 L269.81 9.85 L262.78 11.96 L257.15 13.37 L254.33 10.55Z" fill="#b1b1b1" stroke="#b1b1b1" stroke-width="2.6" stroke-linejoin="round"/>
<path d="M290.92 3.52 L295.85 2.81 L296.55 6.33 L293.03 7.04Z" fill="#b1b1b1" stroke="#b1b1b1" stroke-width="2.6" stroke-linejoin="round"/>
<path d="M299.36 8.44 L302.88 10.55 L302.88 14.78 L300.07 15.48Z" fill="#b1b1b1" stroke="#b1b1b1" stroke-width="2.6" stroke-linejoin="round"/>
<path d="M185.38 35.18 L186.08 45.03" fill="none" stroke="#b1b1b1" stroke-width="6.68" stroke-linecap="round" stroke-linejoin="round"/>
<path d="M181.86 52.77 L185.38 54.18" fill="none" stroke="#b1b1b1" stroke-width="6.11" stroke-linecap="round" stroke-linejoin="round"/>
<path d="M209.3 34.48 L212.12 32.08" fill="none" stroke="#b1b1b1" stroke-width="6.11" stroke-linecap="round" stroke-linejoin="round"/>
<path d="M248 87.25 L250.39 87.95 L251.8 95.69 L254.05 102.73 L253.63 109.06 L250.82 111.17 L247.3 109.76 L245.19 105.54 L246.59 98.5 L247.58 91.47Z" fill="#b1b1b1" stroke="#b1b1b1" stroke-width="2.6" stroke-linejoin="round"/>
<ellipse cx="58.18" cy="185.46" rx="2.71" ry="2.71" fill="#b1b1b1"/>
<ellipse cx="131.77" cy="174.63" rx="3.55" ry="3.55" fill="#b1b1b1"/>
<path d="M69.15 148.59 L86.04 148.59 L86.04 158.44 L88.15 164.07 L93.08 169.7 L98.7 173.22 L104.33 176.74 L101.52 178.85 L94.48 176.74 L90.26 173.22 L86.74 166.89 L80.41 163.37 L76.89 158.44 L72.67 154.93Z" fill="#b1b1b1" stroke="#b1b1b1" stroke-width="2.6" stroke-linejoin="round"/>
<path d="M62.12 283.69 L70.56 284.39 L80.41 284.39 L73.38 287.2 L69.15 290.72 L69.86 299.16 L66.34 300.57 L62.12 293.54 L60.71 287.91Z" fill="#b1b1b1" stroke="#b1b1b1" stroke-width="2.6" stroke-linejoin="round"/>
<path d="M153.72 167.59 L158.64 165.2" fill="none" stroke="#b1b1b1" stroke-width="4.71" stroke-linecap="round" stroke-linejoin="round"/>
<path d="M206.49 220.36 L210.71 216.14 L219.15 215.01 L226.19 216.14 L233.23 220.36 L240.26 222.47 L248.7 219.66 L257.15 218.53 L267 218.53 L276.85 218.95 L280.37 220.36 L276.85 222.47 L269.81 223.18 L262.78 226.69 L257.15 230.21 L251.52 234.43 L245.89 238.65 L241.67 244.28 L248.7 246.39 L254.33 247.1 L248.7 248.5 L240.26 247.8 L234.63 249.91 L226.89 251.6 L223.38 248.5 L220.56 242.88 L216.34 237.95 L212.82 234.43 L212.12 228.8 L209.3 223.18Z" fill="#b1b1b1" stroke="#b1b1b1" stroke-width="2.6" stroke-linejoin="round"/>
<path d="M161.46 241.47 L165.68 240.06 L172.72 241.47 L182.57 242.17 L191.01 237.95 L198.05 235.14 L206.49 235.14 L211.41 235.84 L212.12 244.28 L206.49 243.58 L200.86 242.88 L195.23 247.1 L192.42 252.73 L193.82 261.17 L194.53 266.09 L191.71 262.58 L188.9 256.95 L185.38 251.32 L178.34 247.1 L171.31 244.99 L164.27 244.28Z" fill="#b1b1b1" stroke="#b1b1b1" stroke-width="2.6" stroke-linejoin="round"/>
<path d="M278.96 235.84 L285.29 228.8 L292.33 228.8 L299.36 230.49 L295.14 234.43 L289.51 237.25 L282.48 237.95Z" fill="#b1b1b1" stroke="#b1b1b1" stroke-width="2.6" stroke-linejoin="round"/>
<path d="M254.33 247.1 L258.56 247.1 L261.37 255.54 L267 261.17 L274.03 264.69 L280.37 261.87 L283.18 260.47 L286.7 266.8 L283.89 272.43 L279.66 278.06 L277.55 287.91 L275.44 297.76 L273.33 307.61 L267 307.61 L271.92 299.16 L272.63 289.31 L270.52 279.46 L267.7 271.02 L262.78 265.39 L257.85 258.36 L255.04 252.73Z" fill="#b1b1b1" stroke="#b1b1b1" stroke-width="2.6" stroke-linejoin="round"/>
<path d="M177.14 133.6 L187.27 132.47" fill="none" stroke="#b1b1b1" stroke-width="7.9" stroke-linecap="round" stroke-linejoin="round"/>
<path d="M181.64 136.97 L185.02 148.79 L187.83 162.87 L188.96 176.94 L187.83 187.63" fill="none" stroke="#b1b1b1" stroke-width="5.9" stroke-linecap="round" stroke-linejoin="round"/>
<path d="M191.21 198.05 L193.46 203.67" fill="none" stroke="#b1b1b1" stroke-width="4.9" stroke-linecap="round" stroke-linejoin="round"/>
<path d="M130.7 173.56 L140.55 169.06 L151.81 166.52 L163.07 164.55" fill="none" stroke="#b1b1b1" stroke-width="5.3" stroke-linecap="round" stroke-linejoin="round"/>
</g>
<g>
<path d="M38.19 138.61 L28.34 143.54 L21.31 148.46 L12.86 151.28 L4.42 154.09" fill="none" stroke="#dddddd" stroke-width="2.95" stroke-linecap="round" stroke-linejoin="round"/>
<path d="M75.49 17.59 L81.11 16.18 L82.52 19 L81.11 26.74 L76.19 30.26 L74.08 25.33Z" fill="#ffffff" stroke="#ffffff" stroke-width="0" stroke-linejoin="round"/>
<path d="M81.82 54.18 L86.04 52.77 L91.67 57.7 L98.7 59.1 L107.15 55.58 L112.07 53.47 L113.9 56.29 L111.37 59.81 L101.52 66.14 L96.59 70.36 L93.08 71.77 L89.56 68.95 L87.45 60.51 L83.23 56.99Z" fill="#ffffff" stroke="#ffffff" stroke-width="0" stroke-linejoin="round"/>
<path d="M91.67 94.28 L94.48 95.69 L98.7 104.13 L101.52 112.58 L103.63 114.69 L100.82 115.39 L97.3 109.76 L93.78 104.84 L91.67 116.8 L90.26 135.09 L87.45 146.35 L86.04 160 L73.38 160 L73.38 151.98 L69.15 146.35 L60.71 137.2 L56.49 140.72 L55.78 144.94 L50.86 144.94 L45.23 140.72 L40.31 135.09 L38.9 127.35 L42.42 126.65 L45.23 131.57 L53.67 130.17 L62.12 131.57 L70.56 136.5 L77.6 140.72 L81.11 135.09 L83.23 123.83 L87.45 112.58 L90.26 101.32Z" fill="#ffffff" stroke="#ffffff" stroke-width="0" stroke-linejoin="round"/>
<path d="M242.37 10.55 L247.3 13.37 L250.82 14.78 L255.04 12.66" fill="none" stroke="#d8d8d8" stroke-width="3.8" stroke-linecap="round" stroke-linejoin="round"/>
<path d="M257.15 3.52 L262.78 0.7 L269.81 0.7 L271.92 5.63 L269.81 9.85 L262.78 11.96 L257.15 13.37 L254.33 10.55Z" fill="#ffffff" stroke="#ffffff" stroke-width="0" stroke-linejoin="round"/>
<path d="M290.92 3.52 L295.85 2.81 L296.55 6.33 L293.03 7.04Z" fill="#ffffff" stroke="#ffffff" stroke-width="0" stroke-linejoin="round"/>
<path d="M299.36 8.44 L302.88 10.55 L302.88 14.78 L300.07 15.48Z" fill="#d8d8d8" stroke="#d8d8d8" stroke-width="0" stroke-linejoin="round"/>
<path d="M185.38 35.18 L186.08 45.03" fill="none" stroke="#d3d3d3" stroke-width="4.08" stroke-linecap="round" stroke-linejoin="round"/>
<path d="M181.86 52.77 L185.38 54.18" fill="none" stroke="#d8d8d8" stroke-width="3.51" stroke-linecap="round" stroke-linejoin="round"/>
<path d="M209.3 34.48 L212.12 32.08" fill="none" stroke="#dddddd" stroke-width="3.51" stroke-linecap="round" stroke-linejoin="round"/>
<path d="M248 87.25 L250.39 87.95 L251.8 95.69 L254.05 102.73 L253.63 109.06 L250.82 111.17 L247.3 109.76 L245.19 105.54 L246.59 98.5 L247.58 91.47Z" fill="#ffffff" stroke="#ffffff" stroke-width="0" stroke-linejoin="round"/>
<ellipse cx="58.18" cy="185.46" rx="1.71" ry="1.71" fill="#d8d8d8"/>
<ellipse cx="131.77" cy="174.63" rx="2.55" ry="2.55" fill="#dddddd"/>
<path d="M69.15 148.59 L86.04 148.59 L86.04 158.44 L88.15 164.07 L93.08 169.7 L98.7 173.22 L104.33 176.74 L101.52 178.85 L94.48 176.74 L90.26 173.22 L86.74 166.89 L80.41 163.37 L76.89 158.44 L72.67 154.93Z" fill="#ffffff" stroke="#ffffff" stroke-width="0" stroke-linejoin="round"/>
<path d="M62.12 283.69 L70.56 284.39 L80.41 284.39 L73.38 287.2 L69.15 290.72 L69.86 299.16 L66.34 300.57 L62.12 293.54 L60.71 287.91Z" fill="#ffffff" stroke="#ffffff" stroke-width="0" stroke-linejoin="round"/>
<path d="M153.72 167.59 L158.64 165.2" fill="none" stroke="#d8d8d8" stroke-width="2.11" stroke-linecap="round" stroke-linejoin="round"/>
<path d="M206.49 220.36 L210.71 216.14 L219.15 215.01 L226.19 216.14 L233.23 220.36 L240.26 222.47 L248.7 219.66 L257.15 218.53 L267 218.53 L276.85 218.95 L280.37 220.36 L276.85 222.47 L269.81 223.18 L262.78 226.69 L257.15 230.21 L251.52 234.43 L245.89 238.65 L241.67 244.28 L248.7 246.39 L254.33 247.1 L248.7 248.5 L240.26 247.8 L234.63 249.91 L226.89 251.6 L223.38 248.5 L220.56 242.88 L216.34 237.95 L212.82 234.43 L212.12 228.8 L209.3 223.18Z" fill="#ffffff" stroke="#ffffff" stroke-width="0" stroke-linejoin="round"/>
<path d="M161.46 241.47 L165.68 240.06 L172.72 241.47 L182.57 242.17 L191.01 237.95 L198.05 235.14 L206.49 235.14 L211.41 235.84 L212.12 244.28 L206.49 243.58 L200.86 242.88 L195.23 247.1 L192.42 252.73 L193.82 261.17 L194.53 266.09 L191.71 262.58 L188.9 256.95 L185.38 251.32 L178.34 247.1 L171.31 244.99 L164.27 244.28Z" fill="#ffffff" stroke="#ffffff" stroke-width="0" stroke-linejoin="round"/>
<path d="M278.96 235.84 L285.29 228.8 L292.33 228.8 L299.36 230.49 L295.14 234.43 L289.51 237.25 L282.48 237.95Z" fill="#ffffff" stroke="#ffffff" stroke-width="0" stroke-linejoin="round"/>
<path d="M254.33 247.1 L258.56 247.1 L261.37 255.54 L267 261.17 L274.03 264.69 L280.37 261.87 L283.18 260.47 L286.7 266.8 L283.89 272.43 L279.66 278.06 L277.55 287.91 L275.44 297.76 L273.33 307.61 L267 307.61 L271.92 299.16 L272.63 289.31 L270.52 279.46 L267.7 271.02 L262.78 265.39 L257.85 258.36 L255.04 252.73Z" fill="#ffffff" stroke="#ffffff" stroke-width="0" stroke-linejoin="round"/>
<path d="M177.14 133.6 L187.27 132.47" fill="none" stroke="#ffffff" stroke-width="5.3" stroke-linecap="round" stroke-linejoin="round"/>
<path d="M181.64 136.97 L185.02 148.79 L187.83 162.87 L188.96 176.94 L187.83 187.63" fill="none" stroke="#ffffff" stroke-width="3.3" stroke-linecap="round" stroke-linejoin="round"/>
<path d="M191.21 198.05 L193.46 203.67" fill="none" stroke="#d8d8d8" stroke-width="2.3" stroke-linecap="round" stroke-linejoin="round"/>
<path d="M130.7 173.56 L140.55 169.06 L151.81 166.52 L163.07 164.55" fill="none" stroke="#d8d8d8" stroke-width="2.7" stroke-linecap="round" stroke-linejoin="round"/>
</g>
</g></g>
<g transform="translate(404 56)" clip-path="url(#cp01)">
<g filter="url(#f01)">
<rect x="-10" y="-10" width="326.5" height="326.4" fill="#808080"/>
<path d="M50.86 2.11 L63.52 9.85 L76.19 14.78" fill="none" stroke="#747474" stroke-width="3.23" stroke-linecap="round" stroke-linejoin="round"/>
<path d="M74.78 1.41 L80.41 6.33 L84.63 9.85" fill="none" stroke="#9b9b9b" stroke-width="4.22" stroke-linecap="round" stroke-linejoin="round"/>
<ellipse cx="72.67" cy="46.44" rx="1.99" ry="2.27" fill="#979797"/>
<path d="M82.52 32.37 L84.63 45.03 L95.89 52.77 L107.15 47.85 L111.37 37.99 L104.33 28.14 L93.08 26.74" fill="none" stroke="#7b7b7b" stroke-width="2.67" stroke-linecap="round" stroke-linejoin="round"/>
<path d="M1.61 63.32 L14.27 64.03 L25.53 65.44" fill="none" stroke="#7a7a7a" stroke-width="3.51" stroke-linecap="round" stroke-linejoin="round"/>
<path d="M115.59 46.44 L138.11 49.25 L160.2 59.1" fill="none" stroke="#898989" stroke-width="1.83" stroke-linecap="round" stroke-linejoin="round"/>
<path d="M90.26 73.18 L90.26 90.06" fill="none" stroke="#9a9a9a" stroke-width="2.39" stroke-linecap="round" stroke-linejoin="round"/>
<path d="M97.3 73.18 L94.48 84.43 L93.36 92.88" fill="none" stroke="#9d9d9d" stroke-width="2.39" stroke-linecap="round" stroke-linejoin="round"/>
<ellipse cx="108.56" cy="113.7" rx="2.41" ry="2.41" fill="#b7b7b7"/>
<ellipse cx="37.49" cy="81.62" rx="1.99" ry="1.99" fill="#a5a5a5"/>
<path d="M71.26 102.02 L79 100.62 L86.04 100.19" fill="none" stroke="#727272" stroke-width="3.23" stroke-linecap="round" stroke-linejoin="round"/>
<path d="M30.46 106.95 L31.16 112.58" fill="none" stroke="#8d8d8d" stroke-width="2.11" stroke-linecap="round" stroke-linejoin="round"/>
<path d="M56.49 109.76 L55.78 118.21" fill="none" stroke="#8b8b8b" stroke-width="1.83" stroke-linecap="round" stroke-linejoin="round"/>
<path d="M38.19 138.61 L28.34 143.54 L21.31 148.46 L12.86 151.28 L4.42 154.09" fill="none" stroke="#a9a9a9" stroke-width="6.33" stroke-linecap="round" stroke-linejoin="round"/>
<path d="M38.19 140.72 L38.9 149.16 L41.71 157.61" fill="none" stroke="#b7b7b7" stroke-width="2.81" stroke-linecap="round" stroke-linejoin="round"/>
<path d="M46.64 142.13 L48.75 149.16" fill="none" stroke="#aeaeae" stroke-width="2.39" stroke-linecap="round" stroke-linejoin="round"/>
<path d="M150.2 52.07 L168.49 52.77 L181.16 47.85" fill="none" stroke="#898989" stroke-width="1.54" stroke-linecap="round" stroke-linejoin="round"/>
<path d="M246.59 25.33 L246.59 53.47" fill="none" stroke="#8d8d8d" stroke-width="1.83" stroke-linecap="round" stroke-linejoin="round"/>
<ellipse cx="217.75" cy="21.11" rx="3.4" ry="3.4" fill="#767676"/>
<ellipse cx="231.82" cy="21.11" rx="3.4" ry="3.4" fill="#7a7a7a"/>
<ellipse cx="203.67" cy="34.48" rx="2.83" ry="2.83" fill="#7a7a7a"/>
<ellipse cx="239.56" cy="49.25" rx="1.99" ry="1.99" fill="#767676"/>
<ellipse cx="186.79" cy="77.4" rx="1.99" ry="1.99" fill="#787878"/>
<ellipse cx="253.63" cy="76.69" rx="1.99" ry="2.55" fill="#767676"/>
<path d="M250.11 68.95 L248.7 78.8 L248.7 85.84" fill="none" stroke="#929292" stroke-width="2.11" stroke-linecap="round" stroke-linejoin="round"/>
<ellipse cx="175.53" cy="9.15" rx="1.71" ry="1.71" fill="#9b9b9b"/>
<ellipse cx="244.48" cy="116.8" rx="1.99" ry="1.99" fill="#a0a0a0"/>
<path d="M250.82 15.48 L241.67 21.11 L234.63 26.74" fill="none" stroke="#a5a5a5" stroke-width="3.23" stroke-linecap="round" stroke-linejoin="round"/>
<path d="M271.92 6.33 L281.07 4.93 L290.92 3.52" fill="none" stroke="#aeaeae" stroke-width="2.67" stroke-linecap="round" stroke-linejoin="round"/>
<path d="M296.55 5.63 L301.48 12.66" fill="none" stroke="#aeaeae" stroke-width="3.23" stroke-linecap="round" stroke-linejoin="round"/>
<ellipse cx="195.23" cy="49.96" rx="2.83" ry="2.83" fill="#a5a5a5"/>
<ellipse cx="192.42" cy="40.81" rx="1.99" ry="1.99" fill="#9b9b9b"/>
<path d="M223.38 30.26 L226.19 33.07" fill="none" stroke="#a0a0a0" stroke-width="3.23" stroke-linecap="round" stroke-linejoin="round"/>
<path d="M238.15 101.32 L236.04 106.95 L240.26 111.17" fill="none" stroke="#9b9b9b" stroke-width="1.83" stroke-linecap="round" stroke-linejoin="round"/>
<path d="M243.08 111.17 L229 116.8 L210.71 123.13" fill="none" stroke="#aeaeae" stroke-width="2.95" stroke-linecap="round" stroke-linejoin="round"/>
<path d="M210.71 123.13 L191.01 128.06" fill="none" stroke="#bcbcbc" stroke-width="3.23" stroke-linecap="round" stroke-linejoin="round"/>
<path d="M255.04 111.17 L276.85 129.46 L305.7 152.68" fill="none" stroke="#a9a9a9" stroke-width="2.11" stroke-linecap="round" stroke-linejoin="round"/>
<path d="M3.01 225.99 L11.46 230.91 L21.31 234.43" fill="none" stroke="#7a7a7a" stroke-width="2.67" stroke-linecap="round" stroke-linejoin="round"/>
<ellipse cx="63.52" cy="181.66" rx="3.11" ry="3.11" fill="#7a7a7a"/>
<path d="M107.15 196.44 L117 197.85 L119.81 202.07" fill="none" stroke="#787878" stroke-width="2.67" stroke-linecap="round" stroke-linejoin="round"/>
<path d="M98.7 206.29 L104.33 210.51 L112.78 209.1" fill="none" stroke="#7a7a7a" stroke-width="2.39" stroke-linecap="round" stroke-linejoin="round"/>
<path d="M130.37 199.25 L129.66 216.14" fill="none" stroke="#767676" stroke-width="3.51" stroke-linecap="round" stroke-linejoin="round"/>
<ellipse cx="93.08" cy="221.77" rx="3.4" ry="2.27" fill="#787878"/>
<ellipse cx="62.12" cy="252.02" rx="5.23" ry="2.41" fill="#767676"/>
<ellipse cx="36.79" cy="257.65" rx="3.82" ry="1.71" fill="#787878"/>
<path d="M70.56 303.39 L101.52 304.79" fill="none" stroke="#7c7c7c" stroke-width="2.67" stroke-linecap="round" stroke-linejoin="round"/>
<ellipse cx="118.41" cy="206.29" rx="2.27" ry="1.71" fill="#a5a5a5"/>
<ellipse cx="133.18" cy="230.91" rx="2.27" ry="2.27" fill="#a9a9a9"/>
<ellipse cx="121.22" cy="223.18" rx="1.71" ry="1.71" fill="#9b9b9b"/>
<ellipse cx="90.26" cy="223.88" rx="1.71" ry="1.71" fill="#9b9b9b"/>
<path d="M140.92 238.65 L152.18 242.88 L160.2 247.1" fill="none" stroke="#979797" stroke-width="2.11" stroke-linecap="round" stroke-linejoin="round"/>
<path d="M107.15 247.1 L101.52 256.95 L94.48 261.17 L89.56 263.98 L89.56 269.61" fill="none" stroke="#a0a0a0" stroke-width="2.67" stroke-linecap="round" stroke-linejoin="round"/>
<path d="M108.56 234.43 L115.59 230.21 L121.22 224.58" fill="none" stroke="#929292" stroke-width="2.11" stroke-linecap="round" stroke-linejoin="round"/>
<path d="M38.19 254.84 L45.23 255.54" fill="none" stroke="#9b9b9b" stroke-width="2.11" stroke-linecap="round" stroke-linejoin="round"/>
<path d="M42.42 273.83 L32.57 286.5 L18.49 303.39" fill="none" stroke="#9b9b9b" stroke-width="2.39" stroke-linecap="round" stroke-linejoin="round"/>
<path d="M42.42 273.83 L48.05 276.65" fill="none" stroke="#9b9b9b" stroke-width="2.11" stroke-linecap="round" stroke-linejoin="round"/>
<path d="M38.19 150 L42.42 161.26 L48.05 172.52 L53.67 180.96 L57.9 185.18" fill="none" stroke="#aeaeae" stroke-width="2.39" stroke-linecap="round" stroke-linejoin="round"/>
<path d="M59.3 186.87 L66.34 186.87 L71.97 183.77 L73.38 180.26" fill="none" stroke="#a5a5a5" stroke-width="2.39" stroke-linecap="round" stroke-linejoin="round"/>
<path d="M3.01 152.81 L8.64 154.22 L12.16 156.33 L10.05 160.55 L5.83 164.07" fill="none" stroke="#c1c1c1" stroke-width="3.51" stroke-linecap="round" stroke-linejoin="round"/>
<path d="M104.33 176.74 L117 177.44 L126.85 176.03 L131.77 173.92" fill="none" stroke="#aeaeae" stroke-width="2.67" stroke-linecap="round" stroke-linejoin="round"/>
<path d="M133.89 171.11 L140.92 167.59 L149.36 168.29 L154.99 166.89 L160.2 164.78" fill="none" stroke="#c5c5c5" stroke-width="3.23" stroke-linecap="round" stroke-linejoin="round"/>
<path d="M58.6 289.31 L62.12 297.76" fill="none" stroke="#a5a5a5" stroke-width="2.11" stroke-linecap="round" stroke-linejoin="round"/>
<path d="M67.75 299.16 L72.67 305.5" fill="none" stroke="#aeaeae" stroke-width="2.67" stroke-linecap="round" stroke-linejoin="round"/>
<ellipse cx="234.63" cy="178.14" rx="12.96" ry="11.56" fill="#858585"/>
<path d="M210.71 210.51 L240.26 214.03 L257.15 216.14" fill="none" stroke="#7b7b7b" stroke-width="3.51" stroke-linecap="round" stroke-linejoin="round"/>
<ellipse cx="252.93" cy="257.65" rx="4.52" ry="3.82" fill="#787878"/>
<ellipse cx="302.18" cy="228.8" rx="2.83" ry="2.83" fill="#767676"/>
<ellipse cx="187.91" cy="290.44" rx="2.27" ry="2.27" fill="#707070"/>
<ellipse cx="209.3" cy="256.95" rx="8.74" ry="7.34" fill="#7b7b7b"/>
<path d="M186.08 189.4 L191.01 197.85 L193.82 203.47 L199.45 210.51" fill="none" stroke="#a9a9a9" stroke-width="3.8" stroke-linecap="round" stroke-linejoin="round"/>
<path d="M191.71 198.55 L193.12 202.77" fill="none" stroke="#cacaca" stroke-width="2.11" stroke-linecap="round" stroke-linejoin="round"/>
<path d="M150.2 169 L155.83 166.18 L162.86 164.07 L169.9 164.07" fill="none" stroke="#b7b7b7" stroke-width="2.95" stroke-linecap="round" stroke-linejoin="round"/>
<path d="M194.53 266.8 L195.23 276.65 L196.64 283.69" fill="none" stroke="#9b9b9b" stroke-width="2.11" stroke-linecap="round" stroke-linejoin="round"/>
<ellipse cx="206.49" cy="285.8" rx="1.99" ry="1.99" fill="#a5a5a5"/>
<path d="M198.05 287.91 L192.42 290.72" fill="none" stroke="#9b9b9b" stroke-width="2.39" stroke-linecap="round" stroke-linejoin="round"/>
<path d="M164.27 301.98 L169.2 299.16 L175.53 302.68" fill="none" stroke="#a5a5a5" stroke-width="3.23" stroke-linecap="round" stroke-linejoin="round"/>
<path d="M268.41 210.51 L276.85 206.29 L285.29 202.07" fill="none" stroke="#979797" stroke-width="2.67" stroke-linecap="round" stroke-linejoin="round"/>
<path d="M276.85 214.73 L285.29 217.55 L290.92 223.18" fill="none" stroke="#a9a9a9" stroke-width="4.08" stroke-linecap="round" stroke-linejoin="round"/>
<path d="M281.07 220.36 L283.89 228.8" fill="none" stroke="#b7b7b7" stroke-width="4.64" stroke-linecap="round" stroke-linejoin="round"/>
<path d="M269.81 234.43 L268.41 245.69 L269.81 256.95" fill="none" stroke="#bcbcbc" stroke-width="5.77" stroke-linecap="round" stroke-linejoin="round"/>
<path d="M276.85 233.03 L272.63 245.69" fill="none" stroke="#b3b3b3" stroke-width="3.23" stroke-linecap="round" stroke-linejoin="round"/>
<path d="M177.7 138.94 L179.95 151.61 L182.2 165.68" fill="none" stroke="#a9a9a9" stroke-width="5.7" stroke-linecap="round" stroke-linejoin="round"/>
<path d="M188.4 191.01 L192.62 202.27 L199.65 211.27" fill="none" stroke="#aeaeae" stroke-width="2.3" stroke-linecap="round" stroke-linejoin="round"/>
<g filter="url(#hsoft)">
<path d="M38.19 138.61 L28.34 143.54 L21.31 148.46 L12.86 151.28 L4.42 154.09" fill="none" stroke="#b1b1b1" stroke-width="5.55" stroke-linecap="round" stroke-linejoin="round"/>
<path d="M75.49 17.59 L81.11 16.18 L82.52 19 L81.11 26.74 L76.19 30.26 L74.08 25.33Z" fill="#b1b1b1" stroke="#b1b1b1" stroke-width="2.6" stroke-linejoin="round"/>
<path d="M81.82 54.18 L86.04 52.77 L91.67 57.7 L98.7 59.1 L107.15 55.58 L112.07 53.47 L113.9 56.29 L111.37 59.81 L101.52 66.14 L96.59 70.36 L93.08 71.77 L89.56 68.95 L87.45 60.51 L83.23 56.99Z" fill="#b1b1b1" stroke="#b1b1b1" stroke-width="2.6" stroke-linejoin="round"/>
<path d="M91.67 94.28 L94.48 95.69 L98.7 104.13 L101.52 112.58 L103.63 114.69 L100.82 115.39 L97.3 109.76 L93.78 104.84 L91.67 116.8 L90.26 135.09 L87.45 146.35 L86.04 160 L73.38 160 L73.38 151.98 L69.15 146.35 L60.71 137.2 L56.49 140.72 L55.78 144.94 L50.86 144.94 L45.23 140.72 L40.31 135.09 L38.9 127.35 L42.42 126.65 L45.23 131.57 L53.67 130.17 L62.12 131.57 L70.56 136.5 L77.6 140.72 L81.11 135.09 L83.23 123.83 L87.45 112.58 L90.26 101.32Z" fill="#b1b1b1" stroke="#b1b1b1" stroke-width="2.6" stroke-linejoin="round"/>
<path d="M242.37 10.55 L247.3 13.37 L250.82 14.78 L255.04 12.66" fill="none" stroke="#b1b1b1" stroke-width="6.4" stroke-linecap="round" stroke-linejoin="round"/>
<path d="M257.15 3.52 L262.78 0.7 L269.81 0.7 L271.92 5.63 L269.81 9.85 L262.78 11.96 L257.15 13.37 L254.33 10.55Z" fill="#b1b1b1" stroke="#b1b1b1" stroke-width="2.6" stroke-linejoin="round"/>
<path d="M290.92 3.52 L295.85 2.81 L296.55 6.33 L293.03 7.04Z" fill="#b1b1b1" stroke="#b1b1b1" stroke-width="2.6" stroke-linejoin="round"/>
<path d="M299.36 8.44 L302.88 10.55 L302.88 14.78 L300.07 15.48Z" fill="#b1b1b1" stroke="#b1b1b1" stroke-width="2.6" stroke-linejoin="round"/>
<path d="M185.38 35.18 L186.08 45.03" fill="none" stroke="#b1b1b1" stroke-width="6.68" stroke-linecap="round" stroke-linejoin="round"/>
<path d="M181.86 52.77 L185.38 54.18" fill="none" stroke="#b1b1b1" stroke-width="6.11" stroke-linecap="round" stroke-linejoin="round"/>
<path d="M209.3 34.48 L212.12 32.08" fill="none" stroke="#b1b1b1" stroke-width="6.11" stroke-linecap="round" stroke-linejoin="round"/>
<path d="M248 87.25 L250.39 87.95 L251.8 95.69 L254.05 102.73 L253.63 109.06 L250.82 111.17 L247.3 109.76 L245.19 105.54 L246.59 98.5 L247.58 91.47Z" fill="#b1b1b1" stroke="#b1b1b1" stroke-width="2.6" stroke-linejoin="round"/>
<ellipse cx="58.18" cy="185.46" rx="2.71" ry="2.71" fill="#b1b1b1"/>
<ellipse cx="131.77" cy="174.63" rx="3.55" ry="3.55" fill="#b1b1b1"/>
<path d="M69.15 148.59 L86.04 148.59 L86.04 158.44 L88.15 164.07 L93.08 169.7 L98.7 173.22 L104.33 176.74 L101.52 178.85 L94.48 176.74 L90.26 173.22 L86.74 166.89 L80.41 163.37 L76.89 158.44 L72.67 154.93Z" fill="#b1b1b1" stroke="#b1b1b1" stroke-width="2.6" stroke-linejoin="round"/>
<path d="M62.12 283.69 L70.56 284.39 L80.41 284.39 L73.38 287.2 L69.15 290.72 L69.86 299.16 L66.34 300.57 L62.12 293.54 L60.71 287.91Z" fill="#b1b1b1" stroke="#b1b1b1" stroke-width="2.6" stroke-linejoin="round"/>
<path d="M153.72 167.59 L158.64 165.2" fill="none" stroke="#b1b1b1" stroke-width="4.71" stroke-linecap="round" stroke-linejoin="round"/>
<path d="M206.49 220.36 L210.71 216.14 L219.15 215.01 L226.19 216.14 L233.23 220.36 L240.26 222.47 L248.7 219.66 L257.15 218.53 L267 218.53 L276.85 218.95 L280.37 220.36 L276.85 222.47 L269.81 223.18 L262.78 226.69 L257.15 230.21 L251.52 234.43 L245.89 238.65 L241.67 244.28 L248.7 246.39 L254.33 247.1 L248.7 248.5 L240.26 247.8 L234.63 249.91 L226.89 251.6 L223.38 248.5 L220.56 242.88 L216.34 237.95 L212.82 234.43 L212.12 228.8 L209.3 223.18Z" fill="#b1b1b1" stroke="#b1b1b1" stroke-width="2.6" stroke-linejoin="round"/>
<path d="M161.46 241.47 L165.68 240.06 L172.72 241.47 L182.57 242.17 L191.01 237.95 L198.05 235.14 L206.49 235.14 L211.41 235.84 L212.12 244.28 L206.49 243.58 L200.86 242.88 L195.23 247.1 L192.42 252.73 L193.82 261.17 L194.53 266.09 L191.71 262.58 L188.9 256.95 L185.38 251.32 L178.34 247.1 L171.31 244.99 L164.27 244.28Z" fill="#b1b1b1" stroke="#b1b1b1" stroke-width="2.6" stroke-linejoin="round"/>
<path d="M278.96 235.84 L285.29 228.8 L292.33 228.8 L299.36 230.49 L295.14 234.43 L289.51 237.25 L282.48 237.95Z" fill="#b1b1b1" stroke="#b1b1b1" stroke-width="2.6" stroke-linejoin="round"/>
<path d="M254.33 247.1 L258.56 247.1 L261.37 255.54 L267 261.17 L274.03 264.69 L280.37 261.87 L283.18 260.47 L286.7 266.8 L283.89 272.43 L279.66 278.06 L277.55 287.91 L275.44 297.76 L273.33 307.61 L267 307.61 L271.92 299.16 L272.63 289.31 L270.52 279.46 L267.7 271.02 L262.78 265.39 L257.85 258.36 L255.04 252.73Z" fill="#b1b1b1" stroke="#b1b1b1" stroke-width="2.6" stroke-linejoin="round"/>
<path d="M177.14 133.6 L187.27 132.47" fill="none" stroke="#b1b1b1" stroke-width="7.9" stroke-linecap="round" stroke-linejoin="round"/>
<path d="M181.64 136.97 L185.02 148.79 L187.83 162.87 L188.96 176.94 L187.83 187.63" fill="none" stroke="#b1b1b1" stroke-width="5.9" stroke-linecap="round" stroke-linejoin="round"/>
<path d="M191.21 198.05 L193.46 203.67" fill="none" stroke="#b1b1b1" stroke-width="4.9" stroke-linecap="round" stroke-linejoin="round"/>
<path d="M130.7 173.56 L140.55 169.06 L151.81 166.52 L163.07 164.55" fill="none" stroke="#b1b1b1" stroke-width="5.3" stroke-linecap="round" stroke-linejoin="round"/>
</g>
<g>
<path d="M38.19 138.61 L28.34 143.54 L21.31 148.46 L12.86 151.28 L4.42 154.09" fill="none" stroke="#dddddd" stroke-width="2.95" stroke-linecap="round" stroke-linejoin="round"/>
<path d="M75.49 17.59 L81.11 16.18 L82.52 19 L81.11 26.74 L76.19 30.26 L74.08 25.33Z" fill="#ffffff" stroke="#ffffff" stroke-width="0" stroke-linejoin="round"/>
<path d="M81.82 54.18 L86.04 52.77 L91.67 57.7 L98.7 59.1 L107.15 55.58 L112.07 53.47 L113.9 56.29 L111.37 59.81 L101.52 66.14 L96.59 70.36 L93.08 71.77 L89.56 68.95 L87.45 60.51 L83.23 56.99Z" fill="#ffffff" stroke="#ffffff" stroke-width="0" stroke-linejoin="round"/>
<path d="M91.67 94.28 L94.48 95.69 L98.7 104.13 L101.52 112.58 L103.63 114.69 L100.82 115.39 L97.3 109.76 L93.78 104.84 L91.67 116.8 L90.26 135.09 L87.45 146.35 L86.04 160 L73.38 160 L73.38 151.98 L69.15 146.35 L60.71 137.2 L56.49 140.72 L55.78 144.94 L50.86 144.94 L45.23 140.72 L40.31 135.09 L38.9 127.35 L42.42 126.65 L45.23 131.57 L53.67 130.17 L62.12 131.57 L70.56 136.5 L77.6 140.72 L81.11 135.09 L83.23 123.83 L87.45 112.58 L90.26 101.32Z" fill="#ffffff" stroke="#ffffff" stroke-width="0" stroke-linejoin="round"/>
<path d="M242.37 10.55 L247.3 13.37 L250.82 14.78 L255.04 12.66" fill="none" stroke="#d8d8d8" stroke-width="3.8" stroke-linecap="round" stroke-linejoin="round"/>
<path d="M257.15 3.52 L262.78 0.7 L269.81 0.7 L271.92 5.63 L269.81 9.85 L262.78 11.96 L257.15 13.37 L254.33 10.55Z" fill="#ffffff" stroke="#ffffff" stroke-width="0" stroke-linejoin="round"/>
<path d="M290.92 3.52 L295.85 2.81 L296.55 6.33 L293.03 7.04Z" fill="#ffffff" stroke="#ffffff" stroke-width="0" stroke-linejoin="round"/>
<path d="M299.36 8.44 L302.88 10.55 L302.88 14.78 L300.07 15.48Z" fill="#d8d8d8" stroke="#d8d8d8" stroke-width="0" stroke-linejoin="round"/>
<path d="M185.38 35.18 L186.08 45.03" fill="none" stroke="#d3d3d3" stroke-width="4.08" stroke-linecap="round" stroke-linejoin="round"/>
<path d="M181.86 52.77 L185.38 54.18" fill="none" stroke="#d8d8d8" stroke-width="3.51" stroke-linecap="round" stroke-linejoin="round"/>
<path d="M209.3 34.48 L212.12 32.08" fill="none" stroke="#dddddd" stroke-width="3.51" stroke-linecap="round" stroke-linejoin="round"/>
<path d="M248 87.25 L250.39 87.95 L251.8 95.69 L254.05 102.73 L253.63 109.06 L250.82 111.17 L247.3 109.76 L245.19 105.54 L246.59 98.5 L247.58 91.47Z" fill="#ffffff" stroke="#ffffff" stroke-width="0" stroke-linejoin="round"/>
<ellipse cx="58.18" cy="185.46" rx="1.71" ry="1.71" fill="#d8d8d8"/>
<ellipse cx="131.77" cy="174.63" rx="2.55" ry="2.55" fill="#dddddd"/>
<path d="M69.15 148.59 L86.04 148.59 L86.04 158.44 L88.15 164.07 L93.08 169.7 L98.7 173.22 L104.33 176.74 L101.52 178.85 L94.48 176.74 L90.26 173.22 L86.74 166.89 L80.41 163.37 L76.89 158.44 L72.67 154.93Z" fill="#ffffff" stroke="#ffffff" stroke-width="0" stroke-linejoin="round"/>
<path d="M62.12 283.69 L70.56 284.39 L80.41 284.39 L73.38 287.2 L69.15 290.72 L69.86 299.16 L66.34 300.57 L62.12 293.54 L60.71 287.91Z" fill="#ffffff" stroke="#ffffff" stroke-width="0" stroke-linejoin="round"/>
<path d="M153.72 167.59 L158.64 165.2" fill="none" stroke="#d8d8d8" stroke-width="2.11" stroke-linecap="round" stroke-linejoin="round"/>
<path d="M206.49 220.36 L210.71 216.14 L219.15 215.01 L226.19 216.14 L233.23 220.36 L240.26 222.47 L248.7 219.66 L257.15 218.53 L267 218.53 L276.85 218.95 L280.37 220.36 L276.85 222.47 L269.81 223.18 L262.78 226.69 L257.15 230.21 L251.52 234.43 L245.89 238.65 L241.67 244.28 L248.7 246.39 L254.33 247.1 L248.7 248.5 L240.26 247.8 L234.63 249.91 L226.89 251.6 L223.38 248.5 L220.56 242.88 L216.34 237.95 L212.82 234.43 L212.12 228.8 L209.3 223.18Z" fill="#ffffff" stroke="#ffffff" stroke-width="0" stroke-linejoin="round"/>
<path d="M161.46 241.47 L165.68 240.06 L172.72 241.47 L182.57 242.17 L191.01 237.95 L198.05 235.14 L206.49 235.14 L211.41 235.84 L212.12 244.28 L206.49 243.58 L200.86 242.88 L195.23 247.1 L192.42 252.73 L193.82 261.17 L194.53 266.09 L191.71 262.58 L188.9 256.95 L185.38 251.32 L178.34 247.1 L171.31 244.99 L164.27 244.28Z" fill="#ffffff" stroke="#ffffff" stroke-width="0" stroke-linejoin="round"/>
<path d="M278.96 235.84 L285.29 228.8 L292.33 228.8 L299.36 230.49 L295.14 234.43 L289.51 237.25 L282.48 237.95Z" fill="#ffffff" stroke="#ffffff" stroke-width="0" stroke-linejoin="round"/>
<path d="M254.33 247.1 L258.56 247.1 L261.37 255.54 L267 261.17 L274.03 264.69 L280.37 261.87 L283.18 260.47 L286.7 266.8 L283.89 272.43 L279.66 278.06 L277.55 287.91 L275.44 297.76 L273.33 307.61 L267 307.61 L271.92 299.16 L272.63 289.31 L270.52 279.46 L267.7 271.02 L262.78 265.39 L257.85 258.36 L255.04 252.73Z" fill="#ffffff" stroke="#ffffff" stroke-width="0" stroke-linejoin="round"/>
<path d="M177.14 133.6 L187.27 132.47" fill="none" stroke="#ffffff" stroke-width="5.3" stroke-linecap="round" stroke-linejoin="round"/>
<path d="M181.64 136.97 L185.02 148.79 L187.83 162.87 L188.96 176.94 L187.83 187.63" fill="none" stroke="#ffffff" stroke-width="3.3" stroke-linecap="round" stroke-linejoin="round"/>
<path d="M191.21 198.05 L193.46 203.67" fill="none" stroke="#d8d8d8" stroke-width="2.3" stroke-linecap="round" stroke-linejoin="round"/>
<path d="M130.7 173.56 L140.55 169.06 L151.81 166.52 L163.07 164.55" fill="none" stroke="#d8d8d8" stroke-width="2.7" stroke-linecap="round" stroke-linejoin="round"/>
</g>
</g></g>
<g transform="translate(81.8 395.5)" clip-path="url(#cp10)">
<g filter="url(#f10)">
<rect x="-10" y="-10" width="326.5" height="326.4" fill="#808080"/>
<path d="M71.97 1.61 L76.89 7.24 L81.11 12.16" fill="none" stroke="#b1b1b1" stroke-width="2.67" stroke-linecap="round" stroke-linejoin="round"/>
<path d="M75.49 31.87 L74.78 44.53 L79 50.16" fill="none" stroke="#9d9d9d" stroke-width="2.39" stroke-linecap="round" stroke-linejoin="round"/>
<ellipse cx="93.08" cy="16.39" rx="1.99" ry="1.99" fill="#a2a2a2"/>
<ellipse cx="101.52" cy="18.5" rx="1.71" ry="1.71" fill="#989898"/>
<path d="M81.11 33.27 L84.63 45.94 L95.89 53.68 L107.15 54.38 L114.18 45.94" fill="none" stroke="#676767" stroke-width="2.39" stroke-linecap="round" stroke-linejoin="round"/>
<path d="M90.26 27.64 L104.33 30.46 L111.37 40.31" fill="none" stroke="#6c6c6c" stroke-width="2.11" stroke-linecap="round" stroke-linejoin="round"/>
<path d="M97.3 55.08 L104.33 51.57 L107.15 47.35" fill="none" stroke="#9d9d9d" stroke-width="2.11" stroke-linecap="round" stroke-linejoin="round"/>
<path d="M119.81 61.42 L123.33 72.68" fill="none" stroke="#626262" stroke-width="2.11" stroke-linecap="round" stroke-linejoin="round"/>
<path d="M117 47.35 L133.89 48.05 L160.2 52.97" fill="none" stroke="#989898" stroke-width="1.83" stroke-linecap="round" stroke-linejoin="round"/>
<path d="M140.92 47.35 L160.2 50.16" fill="none" stroke="#6c6c6c" stroke-width="1.83" stroke-linecap="round" stroke-linejoin="round"/>
<path d="M95.19 71.27 L95.89 83.93 L93.78 90.97" fill="none" stroke="#a7a7a7" stroke-width="2.67" stroke-linecap="round" stroke-linejoin="round"/>
<ellipse cx="78.3" cy="68.45" rx="1.99" ry="1.99" fill="#a7a7a7"/>
<path d="M79 88.15 L81.82 95.19" fill="none" stroke="#9d9d9d" stroke-width="2.39" stroke-linecap="round" stroke-linejoin="round"/>
<path d="M132.48 71.27 L126.85 81.12 L124.03 90.97 L118.41 96.6" fill="none" stroke="#9d9d9d" stroke-width="2.11" stroke-linecap="round" stroke-linejoin="round"/>
<ellipse cx="117" cy="83.93" rx="1.71" ry="1.71" fill="#626262"/>
<path d="M2.31 55.08 L5.83 62.82 L12.86 68.45 L28.34 67.75" fill="none" stroke="#585858" stroke-width="2.11" stroke-linecap="round" stroke-linejoin="round"/>
<path d="M30.46 71.27 L42.42 62.82 L59.3 55.79 L73.38 51.57" fill="none" stroke="#9d9d9d" stroke-width="2.11" stroke-linecap="round" stroke-linejoin="round"/>
<path d="M30.46 71.27 L29.75 75.49" fill="none" stroke="#9d9d9d" stroke-width="2.11" stroke-linecap="round" stroke-linejoin="round"/>
<ellipse cx="37.49" cy="77.6" rx="1.43" ry="1.99" fill="#9d9d9d"/>
<path d="M48.75 103.63 L57.9 106.45" fill="none" stroke="#585858" stroke-width="3.23" stroke-linecap="round" stroke-linejoin="round"/>
<ellipse cx="42.42" cy="83.93" rx="3.82" ry="4.52" fill="#717171"/>
<ellipse cx="36.08" cy="105.04" rx="1.71" ry="1.71" fill="#9d9d9d"/>
<path d="M48.05 112.08 L51.56 123.33" fill="none" stroke="#a2a2a2" stroke-width="2.11" stroke-linecap="round" stroke-linejoin="round"/>
<path d="M83.93 107.86 L74.78 117.71 L69.15 126.15" fill="none" stroke="#989898" stroke-width="1.83" stroke-linecap="round" stroke-linejoin="round"/>
<path d="M112.78 112.08 L121.22 119.11" fill="none" stroke="#9d9d9d" stroke-width="1.83" stroke-linecap="round" stroke-linejoin="round"/>
<path d="M149.36 119.11 L160.2 120.52" fill="none" stroke="#6c6c6c" stroke-width="2.11" stroke-linecap="round" stroke-linejoin="round"/>
<ellipse cx="57.9" cy="154.29" rx="1.43" ry="1.99" fill="#585858"/>
<path d="M40.31 138.81 L31.16 142.33 L26.23 146.55 L19.9 150.07 L11.46 152.18 L3.01 155" fill="none" stroke="#a7a7a7" stroke-width="4.64" stroke-linecap="round" stroke-linejoin="round"/>
<ellipse cx="217.75" cy="78.3" rx="11.56" ry="14.37" fill="#878787"/>
<path d="M206.49 12.87 L213.52 6.54 L221.97 8.65" fill="none" stroke="#585858" stroke-width="2.67" stroke-linecap="round" stroke-linejoin="round"/>
<path d="M179.05 7.94 L179.05 22.02" fill="none" stroke="#626262" stroke-width="2.11" stroke-linecap="round" stroke-linejoin="round"/>
<path d="M234.63 6.54 L240.26 10.05" fill="none" stroke="#676767" stroke-width="2.39" stroke-linecap="round" stroke-linejoin="round"/>
<ellipse cx="267" cy="17.79" rx="2.27" ry="2.27" fill="#6c6c6c"/>
<ellipse cx="281.77" cy="24.83" rx="1.71" ry="1.71" fill="#b1b1b1"/>
<path d="M271.92 5.83 L290.22 4.43" fill="none" stroke="#9d9d9d" stroke-width="1.83" stroke-linecap="round" stroke-linejoin="round"/>
<path d="M150.2 52.97 L167.09 54.38 L181.16 52.97" fill="none" stroke="#9d9d9d" stroke-width="1.83" stroke-linecap="round" stroke-linejoin="round"/>
<path d="M150.2 49.46 L158.64 50.86" fill="none" stroke="#6c6c6c" stroke-width="1.83" stroke-linecap="round" stroke-linejoin="round"/>
<ellipse cx="196.64" cy="33.27" rx="3.82" ry="1.71" fill="#676767"/>
<ellipse cx="190.31" cy="60.01" rx="2.27" ry="2.27" fill="#676767"/>
<ellipse cx="245.89" cy="61.42" rx="2.27" ry="2.83" fill="#626262"/>
<path d="M185.38 81.12 L189.6 75.49" fill="none" stroke="#5d5d5d" stroke-width="2.11" stroke-linecap="round" stroke-linejoin="round"/>
<ellipse cx="288.11" cy="82.53" rx="3.82" ry="5.23" fill="#626262"/>
<ellipse cx="289.51" cy="68.45" rx="3.82" ry="2.27" fill="#6c6c6c"/>
<path d="M259.96 74.08 L262.78 100.82" fill="none" stroke="#717171" stroke-width="2.67" stroke-linecap="round" stroke-linejoin="round"/>
<path d="M172.72 90.97 L173.42 100.82" fill="none" stroke="#6c6c6c" stroke-width="1.83" stroke-linecap="round" stroke-linejoin="round"/>
<ellipse cx="218.73" cy="54.1" rx="1.43" ry="1.71" fill="#b1b1b1"/>
<ellipse cx="271.92" cy="44.53" rx="2.27" ry="2.27" fill="#9d9d9d"/>
<ellipse cx="256.44" cy="65.64" rx="1.99" ry="1.99" fill="#989898"/>
<ellipse cx="179.05" cy="79.71" rx="1.43" ry="2.27" fill="#9d9d9d"/>
<ellipse cx="179.05" cy="96.6" rx="1.43" ry="2.27" fill="#9d9d9d"/>
<ellipse cx="168.49" cy="93.78" rx="1.43" ry="1.99" fill="#989898"/>
<ellipse cx="168.49" cy="9.35" rx="1.43" ry="1.71" fill="#9d9d9d"/>
<path d="M249.41 74.08 L248.99 82.53" fill="none" stroke="#a7a7a7" stroke-width="1.83" stroke-linecap="round" stroke-linejoin="round"/>
<path d="M258.56 83.93 L259.26 90.97" fill="none" stroke="#9d9d9d" stroke-width="1.83" stroke-linecap="round" stroke-linejoin="round"/>
<path d="M247.3 112.08 L240.26 115.59 L229 121.93 L214.93 126.85 L191.01 129.67" fill="none" stroke="#bababa" stroke-width="2.39" stroke-linecap="round" stroke-linejoin="round"/>
<path d="M255.74 111.37 L271.22 126.15 L288.11 138.81 L305.7 150.78" fill="none" stroke="#b1b1b1" stroke-width="1.97" stroke-linecap="round" stroke-linejoin="round"/>
<ellipse cx="193.12" cy="55.79" rx="1.71" ry="1.71" fill="#a7a7a7"/>
<ellipse cx="206.49" cy="33.27" rx="3.68" ry="3.4" fill="#a7a7a7"/>
<ellipse cx="211.41" cy="35.38" rx="1.43" ry="1.43" fill="#c4c4c4"/>
<ellipse cx="93.08" cy="239.56" rx="4.52" ry="7.34" fill="#8e8e8e"/>
<ellipse cx="73.38" cy="240.97" rx="3.11" ry="4.52" fill="#8e8e8e"/>
<ellipse cx="146.55" cy="229.71" rx="5.93" ry="3.82" fill="#8e8e8e"/>
<ellipse cx="62.12" cy="267.71" rx="7.34" ry="3.82" fill="#8b8b8b"/>
<ellipse cx="36.79" cy="290.22" rx="5.93" ry="4.52" fill="#939393"/>
<ellipse cx="24.12" cy="276.15" rx="4.52" ry="3.11" fill="#8b8b8b"/>
<ellipse cx="7.24" cy="204.38" rx="5.93" ry="3.82" fill="#898989"/>
<ellipse cx="147.96" cy="188.9" rx="8.74" ry="8.74" fill="#878787"/>
<path d="M127.55 191.72 L126.15 205.79 L126.85 217.05" fill="none" stroke="#626262" stroke-width="2.11" stroke-linecap="round" stroke-linejoin="round"/>
<ellipse cx="78.3" cy="201.57" rx="2.55" ry="2.55" fill="#5d5d5d"/>
<ellipse cx="109.96" cy="214.23" rx="2.27" ry="4.52" fill="#626262"/>
<path d="M107.15 238.15 L104.33 248 L100.11 253.63" fill="none" stroke="#5d5d5d" stroke-width="2.11" stroke-linecap="round" stroke-linejoin="round"/>
<ellipse cx="4.42" cy="227.6" rx="4.52" ry="1.99" fill="#535353"/>
<path d="M53.67 252.93 L62.12 253.63" fill="none" stroke="#5d5d5d" stroke-width="1.83" stroke-linecap="round" stroke-linejoin="round"/>
<ellipse cx="50.86" cy="277.56" rx="5.93" ry="3.11" fill="#626262"/>
<ellipse cx="158.51" cy="285.3" rx="1.99" ry="2.27" fill="#585858"/>
<path d="M5.83 233.93 L17.09 245.19" fill="none" stroke="#6c6c6c" stroke-width="2.11" stroke-linecap="round" stroke-linejoin="round"/>
<path d="M57.9 153.72 L59.3 166.39" fill="none" stroke="#6c6c6c" stroke-width="2.11" stroke-linecap="round" stroke-linejoin="round"/>
<ellipse cx="131.07" cy="231.12" rx="1.71" ry="1.99" fill="#cecece"/>
<ellipse cx="120.52" cy="227.6" rx="1.71" ry="1.71" fill="#b1b1b1"/>
<ellipse cx="33.97" cy="218.45" rx="1.71" ry="1.71" fill="#b1b1b1"/>
<path d="M107.15 253.63 L101.52 259.26 L95.89 262.08 L90.26 266.3" fill="none" stroke="#b1b1b1" stroke-width="2.11" stroke-linecap="round" stroke-linejoin="round"/>
<ellipse cx="89.56" cy="268.41" rx="2.27" ry="2.27" fill="#bfbfbf"/>
<path d="M19.2 236.75 L25.53 248 L33.97 259.26 L41.71 271.93" fill="none" stroke="#9d9d9d" stroke-width="1.83" stroke-linecap="round" stroke-linejoin="round"/>
<ellipse cx="42.42" cy="273.33" rx="1.43" ry="1.43" fill="#b1b1b1"/>
<path d="M15.68 302.89 L22.72 295.85" fill="none" stroke="#a7a7a7" stroke-width="1.83" stroke-linecap="round" stroke-linejoin="round"/>
<ellipse cx="100.11" cy="210.01" rx="1.43" ry="1.99" fill="#9d9d9d"/>
<ellipse cx="71.26" cy="183.98" rx="3.82" ry="1.71" fill="#b1b1b1"/>
<path d="M12.86 152.31 L24.12 149.5" fill="none" stroke="#bababa" stroke-width="2.11" stroke-linecap="round" stroke-linejoin="round"/>
<path d="M36.79 150.91 L42.42 160.76 L49.45 173.42 L56.49 183.27 L60.71 188.2" fill="none" stroke="#c9c9c9" stroke-width="2.11" stroke-linecap="round" stroke-linejoin="round"/>
<path d="M102.22 181.16 L112.78 183.98 L124.03 181.16 L129.66 176.94" fill="none" stroke="#b1b1b1" stroke-width="2.39" stroke-linecap="round" stroke-linejoin="round"/>
<ellipse cx="158.64" cy="191.72" rx="12.96" ry="28.44" fill="#868686"/>
<ellipse cx="229" cy="183.27" rx="11.56" ry="5.93" fill="#8b8b8b"/>
<ellipse cx="174.12" cy="266.3" rx="5.93" ry="3.11" fill="#8e8e8e"/>
<path d="M161.46 161.46 L172.72 160.05" fill="none" stroke="#626262" stroke-width="2.11" stroke-linecap="round" stroke-linejoin="round"/>
<ellipse cx="259.96" cy="191.72" rx="1.71" ry="2.27" fill="#626262"/>
<ellipse cx="234.63" cy="263.48" rx="4.52" ry="2.27" fill="#5d5d5d"/>
<ellipse cx="230.41" cy="276.15" rx="4.52" ry="3.4" fill="#626262"/>
<path d="M285.29 271.93 L289.51 277.56" fill="none" stroke="#626262" stroke-width="2.39" stroke-linecap="round" stroke-linejoin="round"/>
<path d="M151.61 242.38 L158.64 243.08" fill="none" stroke="#585858" stroke-width="2.39" stroke-linecap="round" stroke-linejoin="round"/>
<ellipse cx="295.14" cy="233.93" rx="1.71" ry="1.71" fill="#585858"/>
<ellipse cx="165.68" cy="249.41" rx="1.99" ry="1.99" fill="#676767"/>
<ellipse cx="158.64" cy="284.59" rx="1.71" ry="2.27" fill="#676767"/>
<ellipse cx="217.75" cy="205.79" rx="4.52" ry="2.27" fill="#6c6c6c"/>
<ellipse cx="212.82" cy="176.24" rx="2.27" ry="1.99" fill="#b1b1b1"/>
<ellipse cx="233.23" cy="257.86" rx="3.11" ry="3.11" fill="#a2a2a2"/>
<path d="M196.64 289.52 L207.9 289.94" fill="none" stroke="#b1b1b1" stroke-width="2.39" stroke-linecap="round" stroke-linejoin="round"/>
<ellipse cx="293.74" cy="205.79" rx="1.71" ry="4.52" fill="#9d9d9d"/>
<ellipse cx="285.29" cy="208.6" rx="1.71" ry="3.11" fill="#939393"/>
<ellipse cx="267" cy="213.53" rx="1.43" ry="1.43" fill="#a7a7a7"/>
<ellipse cx="200.16" cy="199.46" rx="1.71" ry="1.99" fill="#9d9d9d"/>
<ellipse cx="223.38" cy="202.27" rx="1.14" ry="1.43" fill="#a7a7a7"/>
<path d="M195.23 267.71 L197.34 280.37 L198.05 287.41" fill="none" stroke="#a7a7a7" stroke-width="1.83" stroke-linecap="round" stroke-linejoin="round"/>
<path d="M195.23 202.97 L199.45 208.6" fill="none" stroke="#a7a7a7" stroke-width="2.11" stroke-linecap="round" stroke-linejoin="round"/>
<path d="M150.2 168.5 L155.83 164.98 L164.27 163.57 L175.53 163.57 L185.38 161.46" fill="none" stroke="#cecece" stroke-width="2.39" stroke-linecap="round" stroke-linejoin="round"/>
<path d="M269.81 233.93 L267.7 245.19 L267.7 256.45 L269.81 260.67" fill="none" stroke="#bababa" stroke-width="2.39" stroke-linecap="round" stroke-linejoin="round"/>
<path d="M277.55 233.93 L274.03 240.97" fill="none" stroke="#a7a7a7" stroke-width="2.11" stroke-linecap="round" stroke-linejoin="round"/>
<path d="M283.89 225.49 L281.07 221.97" fill="none" stroke="#b1b1b1" stroke-width="2.39" stroke-linecap="round" stroke-linejoin="round"/>
<g filter="url(#hsoft)">
<path d="M40.31 138.81 L31.16 142.33 L26.23 146.55 L19.9 150.07 L11.46 152.18 L3.01 155" fill="none" stroke="#b1b1b1" stroke-width="5.27" stroke-linecap="round" stroke-linejoin="round"/>
<ellipse cx="8.64" cy="155.98" rx="3.83" ry="3.55" fill="#b1b1b1"/>
<path d="M38.19 140.22 L38.19 148.66 L40.31 159.5" fill="none" stroke="#b1b1b1" stroke-width="4.71" stroke-linecap="round" stroke-linejoin="round"/>
<path d="M76.19 17.79 L79.71 14.98 L81.82 17.79 L81.54 26.24 L78.3 29.76 L75.49 25.53Z" fill="#b1b1b1" stroke="#b1b1b1" stroke-width="2.6" stroke-linejoin="round"/>
<path d="M81.82 52.97 L84.63 52.69 L90.26 58.6 L94.48 60.71 L101.52 59.31 L108.56 56.49 L112.78 55.79 L112.78 57.9 L104.33 61.42 L97.3 64.23 L94.48 69.86 L92.37 71.27 L90.26 67.05 L88.15 60.71 L83.93 55.79Z" fill="#b1b1b1" stroke="#b1b1b1" stroke-width="2.6" stroke-linejoin="round"/>
<path d="M92.37 93.08 L94.48 95.19 L98.7 106.45 L101.52 109.26 L111.37 112.08 L101.52 111.37 L97.3 108.56 L93.08 105.74 L91.67 116.3 L88.85 128.96 L84.63 141.63 L82.52 148.66 L84.63 159.5 L72.67 159.5 L71.26 148.66 L67.75 141.63 L60.71 137.41 L57.9 138.81 L57.9 144.44 L53.67 144.44 L48.05 141.63 L41.01 136 L40.31 128.96 L43.12 129.67 L46.64 132.48 L55.08 131.78 L62.12 133.19 L69.15 136.7 L74.78 141.63 L79.71 144.44 L83.23 130.37 L87.45 116.3 L90.26 103.63Z" fill="#b1b1b1" stroke="#b1b1b1" stroke-width="2.6" stroke-linejoin="round"/>
<path d="M247.3 112.08 L243.78 113.77" fill="none" stroke="#b1b1b1" stroke-width="4.99" stroke-linecap="round" stroke-linejoin="round"/>
<path d="M243.78 7.24 L248.7 10.76 L253.63 12.16" fill="none" stroke="#b1b1b1" stroke-width="5.55" stroke-linecap="round" stroke-linejoin="round"/>
<path d="M290.22 5.13 L295.14 7.24 L299.36 11.46 L302.88 13.57" fill="none" stroke="#b1b1b1" stroke-width="5.27" stroke-linecap="round" stroke-linejoin="round"/>
<path d="M254.33 10.05 L258.56 4.43 L264.18 0.63 L270.52 0.63 L271.22 5.83 L265.59 8.65 L259.96 10.76 L256.44 12.87Z" fill="#b1b1b1" stroke="#b1b1b1" stroke-width="2.6" stroke-linejoin="round"/>
<path d="M186.51 36.79 L184.68 44.53 L186.08 50.16" fill="none" stroke="#b1b1b1" stroke-width="5.83" stroke-linecap="round" stroke-linejoin="round"/>
<path d="M181.86 53.68 L188.19 54.38 L192.42 50.86" fill="none" stroke="#b1b1b1" stroke-width="5.27" stroke-linecap="round" stroke-linejoin="round"/>
<ellipse cx="205.78" cy="32.57" rx="2.99" ry="3.55" fill="#b1b1b1"/>
<path d="M248.42 82.53 L250.39 83.93 L251.52 95.19 L253.63 105.04 L255.04 109.97 L250.82 110.67 L246.59 107.15 L245.89 104.34 L248.42 100.82 L248 90.97Z" fill="#b1b1b1" stroke="#b1b1b1" stroke-width="2.6" stroke-linejoin="round"/>
<path d="M175.53 135.3 L179.05 131.78 L186.79 130.37 L188.9 126.15 L191.01 126.85 L190.31 131.78 L188.19 136.7 L183.97 138.81 L188.19 143.04 L190.31 151.48 L191.71 159.5 L185.38 159.5 L183.97 150.07 L180.46 141.63 L176.23 138.81Z" fill="#b1b1b1" stroke="#b1b1b1" stroke-width="2.6" stroke-linejoin="round"/>
<path d="M117 202.97 L120.52 211.42" fill="none" stroke="#b1b1b1" stroke-width="4.71" stroke-linecap="round" stroke-linejoin="round"/>
<ellipse cx="130.37" cy="175.53" rx="3.83" ry="4.11" fill="#b1b1b1"/>
<path d="M132.48 172.02 L140.92 169.9 L149.36 169.2 L154.99 165.68 L160.2 163.57" fill="none" stroke="#b1b1b1" stroke-width="4.99" stroke-linecap="round" stroke-linejoin="round"/>
<path d="M3.01 155.13 L10.05 153.72 L12.16 157.24 L9.35 161.46 L6.53 159.35Z" fill="#b1b1b1" stroke="#b1b1b1" stroke-width="2.6" stroke-linejoin="round"/>
<path d="M71.26 148.09 L81.82 148.09 L84.63 159.35 L90.26 166.39 L97.3 173.42 L102.22 179.76 L99.41 181.16 L94.48 176.24 L87.45 167.79 L81.11 163.57 L76.89 159.35 L73.38 153.72Z" fill="#b1b1b1" stroke="#b1b1b1" stroke-width="2.6" stroke-linejoin="round"/>
<path d="M61.41 284.59 L66.34 283.19 L70.56 284.59 L76.89 288.11 L73.38 289.52 L67.75 288.11 L65.64 291.63 L67.75 298.66 L70.56 306.4 L67.75 306.4 L63.52 297.26 L60.71 290.22Z" fill="#b1b1b1" stroke="#b1b1b1" stroke-width="2.6" stroke-linejoin="round"/>
<path d="M188.19 148.8 L188.9 157.94 L190.31 166.39 L191.71 174.83 L190.31 183.27" fill="none" stroke="#b1b1b1" stroke-width="6.11" stroke-linecap="round" stroke-linejoin="round"/>
<path d="M191.01 191.72 L193.12 201.57" fill="none" stroke="#b1b1b1" stroke-width="4.99" stroke-linecap="round" stroke-linejoin="round"/>
<path d="M190.31 252.23 L192.42 260.67 L195.23 267.71" fill="none" stroke="#b1b1b1" stroke-width="4.71" stroke-linecap="round" stroke-linejoin="round"/>
<path d="M231.82 248 L240.26 249.41 L248.7 250.12 L254.33 249.69" fill="none" stroke="#b1b1b1" stroke-width="5.27" stroke-linecap="round" stroke-linejoin="round"/>
<path d="M208.6 220.56 L212.12 217.75 L220.56 216.76 L226.19 218.45 L231.82 223.38 L238.85 224.08 L247.3 221.97 L257.15 220.56 L267 218.88 L276.85 218.45 L281.77 219.86 L280.37 221.97 L272.63 221.97 L262.78 224.79 L254.33 228.3 L248.7 232.53 L243.08 236.75 L240.26 242.38 L237.45 243.78 L233.23 245.19 L231.82 249.41 L228.3 251.1 L225.49 246.6 L222.67 239.56 L217.75 235.34 L215.64 232.53 L217.75 226.9 L213.52 222.68Z" fill="#b1b1b1" stroke="#b1b1b1" stroke-width="2.6" stroke-linejoin="round"/>
<path d="M163.57 243.08 L168.49 244.06 L175.53 245.19 L183.97 244.49 L190.31 240.97 L198.05 238.15 L206.49 236.75 L212.12 235.34 L212.12 242.38 L210.01 245.19 L206.49 240.97 L199.45 242.38 L195.23 246.6 L192.42 250.82 L188.19 252.23 L184.68 249.41 L178.34 248.71 L171.31 246.6 L164.98 245.89Z" fill="#b1b1b1" stroke="#b1b1b1" stroke-width="2.6" stroke-linejoin="round"/>
<path d="M253.63 248 L257.15 248.71 L259.26 253.63 L262.78 259.26 L269.81 260.67 L274.03 264.89 L279.66 266.3 L283.18 262.78 L284.59 264.89 L281.77 271.93 L278.96 278.96 L276.15 290.22 L274.03 298.66 L272.63 307.11 L267.7 307.11 L271.22 297.26 L271.92 287.41 L271.92 276.15 L268.41 269.11 L262.78 264.89 L258.56 259.26 L255.04 253.63Z" fill="#b1b1b1" stroke="#b1b1b1" stroke-width="2.6" stroke-linejoin="round"/>
<path d="M278.96 233.23 L283.18 228.3 L288.81 226.19 L296.55 228.3 L295.14 231.82 L289.51 235.34 L282.48 236.75Z" fill="#b1b1b1" stroke="#b1b1b1" stroke-width="2.6" stroke-linejoin="round"/>
</g>
<g>
<path d="M40.31 138.81 L31.16 142.33 L26.23 146.55 L19.9 150.07 L11.46 152.18 L3.01 155" fill="none" stroke="#dddddd" stroke-width="2.67" stroke-linecap="round" stroke-linejoin="round"/>
<ellipse cx="8.64" cy="155.98" rx="2.83" ry="2.55" fill="#ffffff"/>
<path d="M38.19 140.22 L38.19 148.66 L40.31 159.5" fill="none" stroke="#d8d8d8" stroke-width="2.11" stroke-linecap="round" stroke-linejoin="round"/>
<path d="M76.19 17.79 L79.71 14.98 L81.82 17.79 L81.54 26.24 L78.3 29.76 L75.49 25.53Z" fill="#ffffff" stroke="#ffffff" stroke-width="0" stroke-linejoin="round"/>
<path d="M81.82 52.97 L84.63 52.69 L90.26 58.6 L94.48 60.71 L101.52 59.31 L108.56 56.49 L112.78 55.79 L112.78 57.9 L104.33 61.42 L97.3 64.23 L94.48 69.86 L92.37 71.27 L90.26 67.05 L88.15 60.71 L83.93 55.79Z" fill="#ffffff" stroke="#ffffff" stroke-width="0" stroke-linejoin="round"/>
<path d="M92.37 93.08 L94.48 95.19 L98.7 106.45 L101.52 109.26 L111.37 112.08 L101.52 111.37 L97.3 108.56 L93.08 105.74 L91.67 116.3 L88.85 128.96 L84.63 141.63 L82.52 148.66 L84.63 159.5 L72.67 159.5 L71.26 148.66 L67.75 141.63 L60.71 137.41 L57.9 138.81 L57.9 144.44 L53.67 144.44 L48.05 141.63 L41.01 136 L40.31 128.96 L43.12 129.67 L46.64 132.48 L55.08 131.78 L62.12 133.19 L69.15 136.7 L74.78 141.63 L79.71 144.44 L83.23 130.37 L87.45 116.3 L90.26 103.63Z" fill="#ffffff" stroke="#ffffff" stroke-width="0" stroke-linejoin="round"/>
<path d="M247.3 112.08 L243.78 113.77" fill="none" stroke="#d3d3d3" stroke-width="2.39" stroke-linecap="round" stroke-linejoin="round"/>
<path d="M243.78 7.24 L248.7 10.76 L253.63 12.16" fill="none" stroke="#d8d8d8" stroke-width="2.95" stroke-linecap="round" stroke-linejoin="round"/>
<path d="M290.22 5.13 L295.14 7.24 L299.36 11.46 L302.88 13.57" fill="none" stroke="#d8d8d8" stroke-width="2.67" stroke-linecap="round" stroke-linejoin="round"/>
<path d="M254.33 10.05 L258.56 4.43 L264.18 0.63 L270.52 0.63 L271.22 5.83 L265.59 8.65 L259.96 10.76 L256.44 12.87Z" fill="#ffffff" stroke="#ffffff" stroke-width="0" stroke-linejoin="round"/>
<path d="M186.51 36.79 L184.68 44.53 L186.08 50.16" fill="none" stroke="#ffffff" stroke-width="3.23" stroke-linecap="round" stroke-linejoin="round"/>
<path d="M181.86 53.68 L188.19 54.38 L192.42 50.86" fill="none" stroke="#dddddd" stroke-width="2.67" stroke-linecap="round" stroke-linejoin="round"/>
<ellipse cx="205.78" cy="32.57" rx="1.99" ry="2.55" fill="#d8d8d8"/>
<path d="M248.42 82.53 L250.39 83.93 L251.52 95.19 L253.63 105.04 L255.04 109.97 L250.82 110.67 L246.59 107.15 L245.89 104.34 L248.42 100.82 L248 90.97Z" fill="#ffffff" stroke="#ffffff" stroke-width="0" stroke-linejoin="round"/>
<path d="M175.53 135.3 L179.05 131.78 L186.79 130.37 L188.9 126.15 L191.01 126.85 L190.31 131.78 L188.19 136.7 L183.97 138.81 L188.19 143.04 L190.31 151.48 L191.71 159.5 L185.38 159.5 L183.97 150.07 L180.46 141.63 L176.23 138.81Z" fill="#ffffff" stroke="#ffffff" stroke-width="0" stroke-linejoin="round"/>
<path d="M117 202.97 L120.52 211.42" fill="none" stroke="#d8d8d8" stroke-width="2.11" stroke-linecap="round" stroke-linejoin="round"/>
<ellipse cx="130.37" cy="175.53" rx="2.83" ry="3.11" fill="#ffffff"/>
<path d="M132.48 172.02 L140.92 169.9 L149.36 169.2 L154.99 165.68 L160.2 163.57" fill="none" stroke="#d3d3d3" stroke-width="2.39" stroke-linecap="round" stroke-linejoin="round"/>
<path d="M3.01 155.13 L10.05 153.72 L12.16 157.24 L9.35 161.46 L6.53 159.35Z" fill="#ffffff" stroke="#ffffff" stroke-width="0" stroke-linejoin="round"/>
<path d="M71.26 148.09 L81.82 148.09 L84.63 159.35 L90.26 166.39 L97.3 173.42 L102.22 179.76 L99.41 181.16 L94.48 176.24 L87.45 167.79 L81.11 163.57 L76.89 159.35 L73.38 153.72Z" fill="#ffffff" stroke="#ffffff" stroke-width="0" stroke-linejoin="round"/>
<path d="M61.41 284.59 L66.34 283.19 L70.56 284.59 L76.89 288.11 L73.38 289.52 L67.75 288.11 L65.64 291.63 L67.75 298.66 L70.56 306.4 L67.75 306.4 L63.52 297.26 L60.71 290.22Z" fill="#ffffff" stroke="#ffffff" stroke-width="0" stroke-linejoin="round"/>
<path d="M188.19 148.8 L188.9 157.94 L190.31 166.39 L191.71 174.83 L190.31 183.27" fill="none" stroke="#ffffff" stroke-width="3.51" stroke-linecap="round" stroke-linejoin="round"/>
<path d="M191.01 191.72 L193.12 201.57" fill="none" stroke="#d8d8d8" stroke-width="2.39" stroke-linecap="round" stroke-linejoin="round"/>
<path d="M190.31 252.23 L192.42 260.67 L195.23 267.71" fill="none" stroke="#d3d3d3" stroke-width="2.11" stroke-linecap="round" stroke-linejoin="round"/>
<path d="M231.82 248 L240.26 249.41 L248.7 250.12 L254.33 249.69" fill="none" stroke="#d8d8d8" stroke-width="2.67" stroke-linecap="round" stroke-linejoin="round"/>
<path d="M208.6 220.56 L212.12 217.75 L220.56 216.76 L226.19 218.45 L231.82 223.38 L238.85 224.08 L247.3 221.97 L257.15 220.56 L267 218.88 L276.85 218.45 L281.77 219.86 L280.37 221.97 L272.63 221.97 L262.78 224.79 L254.33 228.3 L248.7 232.53 L243.08 236.75 L240.26 242.38 L237.45 243.78 L233.23 245.19 L231.82 249.41 L228.3 251.1 L225.49 246.6 L222.67 239.56 L217.75 235.34 L215.64 232.53 L217.75 226.9 L213.52 222.68Z" fill="#ffffff" stroke="#ffffff" stroke-width="0" stroke-linejoin="round"/>
<path d="M163.57 243.08 L168.49 244.06 L175.53 245.19 L183.97 244.49 L190.31 240.97 L198.05 238.15 L206.49 236.75 L212.12 235.34 L212.12 242.38 L210.01 245.19 L206.49 240.97 L199.45 242.38 L195.23 246.6 L192.42 250.82 L188.19 252.23 L184.68 249.41 L178.34 248.71 L171.31 246.6 L164.98 245.89Z" fill="#ffffff" stroke="#ffffff" stroke-width="0" stroke-linejoin="round"/>
<path d="M253.63 248 L257.15 248.71 L259.26 253.63 L262.78 259.26 L269.81 260.67 L274.03 264.89 L279.66 266.3 L283.18 262.78 L284.59 264.89 L281.77 271.93 L278.96 278.96 L276.15 290.22 L274.03 298.66 L272.63 307.11 L267.7 307.11 L271.22 297.26 L271.92 287.41 L271.92 276.15 L268.41 269.11 L262.78 264.89 L258.56 259.26 L255.04 253.63Z" fill="#ffffff" stroke="#ffffff" stroke-width="0" stroke-linejoin="round"/>
<path d="M278.96 233.23 L283.18 228.3 L288.81 226.19 L296.55 228.3 L295.14 231.82 L289.51 235.34 L282.48 236.75Z" fill="#ffffff" stroke="#ffffff" stroke-width="0" stroke-linejoin="round"/>
</g>
<path d="M57.9 4.43 L60.71 10.76 L67.75 15.68 L74.78 16.39" fill="none" stroke="#454545" stroke-width="2.95" stroke-linecap="round" stroke-linejoin="round"/>
<ellipse cx="58.6" cy="5.83" rx="1.71" ry="2.27" fill="#313131"/>
<ellipse cx="117.7" cy="56.49" rx="2.83" ry="2.83" fill="#3b3b3b"/>
<ellipse cx="86.04" cy="95.19" rx="4.52" ry="2.27" fill="#363636"/>
<ellipse cx="286" cy="22.72" rx="5.93" ry="1.71" fill="#454545"/>
<ellipse cx="193.12" cy="104.34" rx="1.71" ry="2.27" fill="#4e4e4e"/>
<ellipse cx="187.07" cy="138.81" rx="1.43" ry="1.43" fill="#454545"/>
<path d="M135.29 176.24 L142.33 173.42 L153.59 170.61" fill="none" stroke="#454545" stroke-width="2.11" stroke-linecap="round" stroke-linejoin="round"/>
<path d="M97.3 188.2 L109.96 187.49 L121.22 187.49" fill="none" stroke="#4e4e4e" stroke-width="2.39" stroke-linecap="round" stroke-linejoin="round"/>
<path d="M132.48 233.93 L143.74 239.56 L153.59 243.78 L160.2 242.38" fill="none" stroke="#4e4e4e" stroke-width="2.11" stroke-linecap="round" stroke-linejoin="round"/>
<path d="M26.94 228.3 L31.16 225.21" fill="none" stroke="#4e4e4e" stroke-width="2.39" stroke-linecap="round" stroke-linejoin="round"/>
<ellipse cx="252.22" cy="202.69" rx="1.99" ry="1.99" fill="#454545"/>
<path d="M250.11 219.16 L257.85 216.34" fill="none" stroke="#313131" stroke-width="2.67" stroke-linecap="round" stroke-linejoin="round"/>
<ellipse cx="194.53" cy="183.27" rx="3.82" ry="2.55" fill="#313131"/>
</g></g>
<g transform="translate(404 395.5)" clip-path="url(#cp11)">
<g filter="url(#f11)">
<rect x="-10" y="-10" width="326.5" height="326.4" fill="#808080"/>
<path d="M57.9 4.43 L60.71 10.76 L67.75 15.68 L74.78 16.39" fill="none" stroke="#656565" stroke-width="2.95" stroke-linecap="round" stroke-linejoin="round"/>
<ellipse cx="58.6" cy="5.83" rx="1.71" ry="2.27" fill="#5c5c5c"/>
<path d="M71.97 1.61 L76.89 7.24 L81.11 12.16" fill="none" stroke="#acacac" stroke-width="2.67" stroke-linecap="round" stroke-linejoin="round"/>
<path d="M75.49 31.87 L74.78 44.53 L79 50.16" fill="none" stroke="#9a9a9a" stroke-width="2.39" stroke-linecap="round" stroke-linejoin="round"/>
<ellipse cx="93.08" cy="16.39" rx="1.99" ry="1.99" fill="#9e9e9e"/>
<ellipse cx="101.52" cy="18.5" rx="1.71" ry="1.71" fill="#969696"/>
<path d="M81.11 33.27 L84.63 45.94 L95.89 53.68 L107.15 54.38 L114.18 45.94" fill="none" stroke="#747474" stroke-width="2.39" stroke-linecap="round" stroke-linejoin="round"/>
<path d="M90.26 27.64 L104.33 30.46 L111.37 40.31" fill="none" stroke="#777777" stroke-width="2.11" stroke-linecap="round" stroke-linejoin="round"/>
<path d="M97.3 55.08 L104.33 51.57 L107.15 47.35" fill="none" stroke="#9a9a9a" stroke-width="2.11" stroke-linecap="round" stroke-linejoin="round"/>
<ellipse cx="117.7" cy="56.49" rx="2.83" ry="2.83" fill="#616161"/>
<path d="M119.81 61.42 L123.33 72.68" fill="none" stroke="#727272" stroke-width="2.11" stroke-linecap="round" stroke-linejoin="round"/>
<path d="M117 47.35 L133.89 48.05 L160.2 52.97" fill="none" stroke="#969696" stroke-width="1.83" stroke-linecap="round" stroke-linejoin="round"/>
<path d="M140.92 47.35 L160.2 50.16" fill="none" stroke="#777777" stroke-width="1.83" stroke-linecap="round" stroke-linejoin="round"/>
<path d="M95.19 71.27 L95.89 83.93 L93.78 90.97" fill="none" stroke="#a3a3a3" stroke-width="2.67" stroke-linecap="round" stroke-linejoin="round"/>
<ellipse cx="86.04" cy="95.19" rx="4.52" ry="2.27" fill="#5e5e5e"/>
<ellipse cx="78.3" cy="68.45" rx="1.99" ry="1.99" fill="#a3a3a3"/>
<path d="M79 88.15 L81.82 95.19" fill="none" stroke="#9a9a9a" stroke-width="2.39" stroke-linecap="round" stroke-linejoin="round"/>
<path d="M132.48 71.27 L126.85 81.12 L124.03 90.97 L118.41 96.6" fill="none" stroke="#9a9a9a" stroke-width="2.11" stroke-linecap="round" stroke-linejoin="round"/>
<ellipse cx="117" cy="83.93" rx="1.71" ry="1.71" fill="#727272"/>
<path d="M2.31 55.08 L5.83 62.82 L12.86 68.45 L28.34 67.75" fill="none" stroke="#6e6e6e" stroke-width="2.11" stroke-linecap="round" stroke-linejoin="round"/>
<path d="M30.46 71.27 L42.42 62.82 L59.3 55.79 L73.38 51.57" fill="none" stroke="#9a9a9a" stroke-width="2.11" stroke-linecap="round" stroke-linejoin="round"/>
<path d="M30.46 71.27 L29.75 75.49" fill="none" stroke="#9a9a9a" stroke-width="2.11" stroke-linecap="round" stroke-linejoin="round"/>
<ellipse cx="37.49" cy="77.6" rx="1.43" ry="1.99" fill="#9a9a9a"/>
<path d="M48.75 103.63 L57.9 106.45" fill="none" stroke="#6e6e6e" stroke-width="3.23" stroke-linecap="round" stroke-linejoin="round"/>
<ellipse cx="42.42" cy="83.93" rx="3.82" ry="4.52" fill="#797979"/>
<ellipse cx="36.08" cy="105.04" rx="1.71" ry="1.71" fill="#9a9a9a"/>
<path d="M48.05 112.08 L51.56 123.33" fill="none" stroke="#9e9e9e" stroke-width="2.11" stroke-linecap="round" stroke-linejoin="round"/>
<path d="M83.93 107.86 L74.78 117.71 L69.15 126.15" fill="none" stroke="#969696" stroke-width="1.83" stroke-linecap="round" stroke-linejoin="round"/>
<path d="M112.78 112.08 L121.22 119.11" fill="none" stroke="#9a9a9a" stroke-width="1.83" stroke-linecap="round" stroke-linejoin="round"/>
<path d="M149.36 119.11 L160.2 120.52" fill="none" stroke="#777777" stroke-width="2.11" stroke-linecap="round" stroke-linejoin="round"/>
<ellipse cx="57.9" cy="154.29" rx="1.43" ry="1.99" fill="#6e6e6e"/>
<path d="M40.31 138.81 L31.16 142.33 L26.23 146.55 L19.9 150.07 L11.46 152.18 L3.01 155" fill="none" stroke="#a3a3a3" stroke-width="4.64" stroke-linecap="round" stroke-linejoin="round"/>
<ellipse cx="217.75" cy="78.3" rx="11.56" ry="14.37" fill="#878787"/>
<path d="M206.49 12.87 L213.52 6.54 L221.97 8.65" fill="none" stroke="#6e6e6e" stroke-width="2.67" stroke-linecap="round" stroke-linejoin="round"/>
<path d="M179.05 7.94 L179.05 22.02" fill="none" stroke="#727272" stroke-width="2.11" stroke-linecap="round" stroke-linejoin="round"/>
<path d="M234.63 6.54 L240.26 10.05" fill="none" stroke="#747474" stroke-width="2.39" stroke-linecap="round" stroke-linejoin="round"/>
<ellipse cx="267" cy="17.79" rx="2.27" ry="2.27" fill="#777777"/>
<ellipse cx="286" cy="22.72" rx="5.93" ry="1.71" fill="#656565"/>
<ellipse cx="281.77" cy="24.83" rx="1.71" ry="1.71" fill="#acacac"/>
<path d="M271.92 5.83 L290.22 4.43" fill="none" stroke="#9a9a9a" stroke-width="1.83" stroke-linecap="round" stroke-linejoin="round"/>
<path d="M150.2 52.97 L167.09 54.38 L181.16 52.97" fill="none" stroke="#9a9a9a" stroke-width="1.83" stroke-linecap="round" stroke-linejoin="round"/>
<path d="M150.2 49.46 L158.64 50.86" fill="none" stroke="#777777" stroke-width="1.83" stroke-linecap="round" stroke-linejoin="round"/>
<ellipse cx="196.64" cy="33.27" rx="3.82" ry="1.71" fill="#747474"/>
<ellipse cx="190.31" cy="60.01" rx="2.27" ry="2.27" fill="#747474"/>
<ellipse cx="245.89" cy="61.42" rx="2.27" ry="2.83" fill="#727272"/>
<path d="M185.38 81.12 L189.6 75.49" fill="none" stroke="#707070" stroke-width="2.11" stroke-linecap="round" stroke-linejoin="round"/>
<ellipse cx="193.12" cy="104.34" rx="1.71" ry="2.27" fill="#696969"/>
<ellipse cx="288.11" cy="82.53" rx="3.82" ry="5.23" fill="#727272"/>
<ellipse cx="289.51" cy="68.45" rx="3.82" ry="2.27" fill="#777777"/>
<path d="M259.96 74.08 L262.78 100.82" fill="none" stroke="#797979" stroke-width="2.67" stroke-linecap="round" stroke-linejoin="round"/>
<path d="M172.72 90.97 L173.42 100.82" fill="none" stroke="#777777" stroke-width="1.83" stroke-linecap="round" stroke-linejoin="round"/>
<ellipse cx="218.73" cy="54.1" rx="1.43" ry="1.71" fill="#acacac"/>
<ellipse cx="271.92" cy="44.53" rx="2.27" ry="2.27" fill="#9a9a9a"/>
<ellipse cx="256.44" cy="65.64" rx="1.99" ry="1.99" fill="#969696"/>
<ellipse cx="179.05" cy="79.71" rx="1.43" ry="2.27" fill="#9a9a9a"/>
<ellipse cx="179.05" cy="96.6" rx="1.43" ry="2.27" fill="#9a9a9a"/>
<ellipse cx="168.49" cy="93.78" rx="1.43" ry="1.99" fill="#969696"/>
<ellipse cx="168.49" cy="9.35" rx="1.43" ry="1.71" fill="#9a9a9a"/>
<path d="M249.41 74.08 L248.99 82.53" fill="none" stroke="#a3a3a3" stroke-width="1.83" stroke-linecap="round" stroke-linejoin="round"/>
<path d="M258.56 83.93 L259.26 90.97" fill="none" stroke="#9a9a9a" stroke-width="1.83" stroke-linecap="round" stroke-linejoin="round"/>
<path d="M247.3 112.08 L240.26 115.59 L229 121.93 L214.93 126.85 L191.01 129.67" fill="none" stroke="#b4b4b4" stroke-width="2.39" stroke-linecap="round" stroke-linejoin="round"/>
<path d="M255.74 111.37 L271.22 126.15 L288.11 138.81 L305.7 150.78" fill="none" stroke="#acacac" stroke-width="1.97" stroke-linecap="round" stroke-linejoin="round"/>
<ellipse cx="193.12" cy="55.79" rx="1.71" ry="1.71" fill="#a3a3a3"/>
<ellipse cx="206.49" cy="33.27" rx="3.68" ry="3.4" fill="#a3a3a3"/>
<ellipse cx="211.41" cy="35.38" rx="1.43" ry="1.43" fill="#bdbdbd"/>
<ellipse cx="187.07" cy="138.81" rx="1.43" ry="1.43" fill="#656565"/>
<ellipse cx="93.08" cy="239.56" rx="4.52" ry="7.34" fill="#8d8d8d"/>
<ellipse cx="73.38" cy="240.97" rx="3.11" ry="4.52" fill="#8d8d8d"/>
<ellipse cx="146.55" cy="229.71" rx="5.93" ry="3.82" fill="#8d8d8d"/>
<ellipse cx="62.12" cy="267.71" rx="7.34" ry="3.82" fill="#8a8a8a"/>
<ellipse cx="36.79" cy="290.22" rx="5.93" ry="4.52" fill="#919191"/>
<ellipse cx="24.12" cy="276.15" rx="4.52" ry="3.11" fill="#8a8a8a"/>
<ellipse cx="7.24" cy="204.38" rx="5.93" ry="3.82" fill="#888888"/>
<ellipse cx="147.96" cy="188.9" rx="8.74" ry="8.74" fill="#878787"/>
<path d="M135.29 176.24 L142.33 173.42 L153.59 170.61" fill="none" stroke="#656565" stroke-width="2.11" stroke-linecap="round" stroke-linejoin="round"/>
<path d="M97.3 188.2 L109.96 187.49 L121.22 187.49" fill="none" stroke="#696969" stroke-width="2.39" stroke-linecap="round" stroke-linejoin="round"/>
<path d="M127.55 191.72 L126.15 205.79 L126.85 217.05" fill="none" stroke="#727272" stroke-width="2.11" stroke-linecap="round" stroke-linejoin="round"/>
<ellipse cx="78.3" cy="201.57" rx="2.55" ry="2.55" fill="#707070"/>
<ellipse cx="109.96" cy="214.23" rx="2.27" ry="4.52" fill="#727272"/>
<path d="M132.48 233.93 L143.74 239.56 L153.59 243.78 L160.2 242.38" fill="none" stroke="#696969" stroke-width="2.11" stroke-linecap="round" stroke-linejoin="round"/>
<path d="M107.15 238.15 L104.33 248 L100.11 253.63" fill="none" stroke="#707070" stroke-width="2.11" stroke-linecap="round" stroke-linejoin="round"/>
<ellipse cx="4.42" cy="227.6" rx="4.52" ry="1.99" fill="#6c6c6c"/>
<path d="M26.94 228.3 L31.16 225.21" fill="none" stroke="#696969" stroke-width="2.39" stroke-linecap="round" stroke-linejoin="round"/>
<path d="M53.67 252.93 L62.12 253.63" fill="none" stroke="#707070" stroke-width="1.83" stroke-linecap="round" stroke-linejoin="round"/>
<ellipse cx="50.86" cy="277.56" rx="5.93" ry="3.11" fill="#727272"/>
<ellipse cx="158.51" cy="285.3" rx="1.99" ry="2.27" fill="#6e6e6e"/>
<path d="M5.83 233.93 L17.09 245.19" fill="none" stroke="#777777" stroke-width="2.11" stroke-linecap="round" stroke-linejoin="round"/>
<path d="M57.9 153.72 L59.3 166.39" fill="none" stroke="#777777" stroke-width="2.11" stroke-linecap="round" stroke-linejoin="round"/>
<ellipse cx="131.07" cy="231.12" rx="1.71" ry="1.99" fill="#c6c6c6"/>
<ellipse cx="120.52" cy="227.6" rx="1.71" ry="1.71" fill="#acacac"/>
<ellipse cx="33.97" cy="218.45" rx="1.71" ry="1.71" fill="#acacac"/>
<path d="M107.15 253.63 L101.52 259.26 L95.89 262.08 L90.26 266.3" fill="none" stroke="#acacac" stroke-width="2.11" stroke-linecap="round" stroke-linejoin="round"/>
<ellipse cx="89.56" cy="268.41" rx="2.27" ry="2.27" fill="#b9b9b9"/>
<path d="M19.2 236.75 L25.53 248 L33.97 259.26 L41.71 271.93" fill="none" stroke="#9a9a9a" stroke-width="1.83" stroke-linecap="round" stroke-linejoin="round"/>
<ellipse cx="42.42" cy="273.33" rx="1.43" ry="1.43" fill="#acacac"/>
<path d="M15.68 302.89 L22.72 295.85" fill="none" stroke="#a3a3a3" stroke-width="1.83" stroke-linecap="round" stroke-linejoin="round"/>
<ellipse cx="100.11" cy="210.01" rx="1.43" ry="1.99" fill="#9a9a9a"/>
<ellipse cx="71.26" cy="183.98" rx="3.82" ry="1.71" fill="#acacac"/>
<path d="M12.86 152.31 L24.12 149.5" fill="none" stroke="#b4b4b4" stroke-width="2.11" stroke-linecap="round" stroke-linejoin="round"/>
<path d="M36.79 150.91 L42.42 160.76 L49.45 173.42 L56.49 183.27 L60.71 188.2" fill="none" stroke="#c2c2c2" stroke-width="2.11" stroke-linecap="round" stroke-linejoin="round"/>
<path d="M102.22 181.16 L112.78 183.98 L124.03 181.16 L129.66 176.94" fill="none" stroke="#acacac" stroke-width="2.39" stroke-linecap="round" stroke-linejoin="round"/>
<ellipse cx="158.64" cy="191.72" rx="12.96" ry="28.44" fill="#868686"/>
<ellipse cx="229" cy="183.27" rx="11.56" ry="5.93" fill="#8a8a8a"/>
<ellipse cx="174.12" cy="266.3" rx="5.93" ry="3.11" fill="#8d8d8d"/>
<path d="M161.46 161.46 L172.72 160.05" fill="none" stroke="#727272" stroke-width="2.11" stroke-linecap="round" stroke-linejoin="round"/>
<ellipse cx="252.22" cy="202.69" rx="1.99" ry="1.99" fill="#656565"/>
<path d="M250.11 219.16 L257.85 216.34" fill="none" stroke="#5c5c5c" stroke-width="2.67" stroke-linecap="round" stroke-linejoin="round"/>
<ellipse cx="259.96" cy="191.72" rx="1.71" ry="2.27" fill="#727272"/>
<ellipse cx="234.63" cy="263.48" rx="4.52" ry="2.27" fill="#707070"/>
<ellipse cx="230.41" cy="276.15" rx="4.52" ry="3.4" fill="#727272"/>
<path d="M285.29 271.93 L289.51 277.56" fill="none" stroke="#727272" stroke-width="2.39" stroke-linecap="round" stroke-linejoin="round"/>
<path d="M151.61 242.38 L158.64 243.08" fill="none" stroke="#6e6e6e" stroke-width="2.39" stroke-linecap="round" stroke-linejoin="round"/>
<ellipse cx="295.14" cy="233.93" rx="1.71" ry="1.71" fill="#6e6e6e"/>
<ellipse cx="165.68" cy="249.41" rx="1.99" ry="1.99" fill="#747474"/>
<ellipse cx="158.64" cy="284.59" rx="1.71" ry="2.27" fill="#747474"/>
<ellipse cx="217.75" cy="205.79" rx="4.52" ry="2.27" fill="#777777"/>
<ellipse cx="212.82" cy="176.24" rx="2.27" ry="1.99" fill="#acacac"/>
<ellipse cx="233.23" cy="257.86" rx="3.11" ry="3.11" fill="#9e9e9e"/>
<path d="M196.64 289.52 L207.9 289.94" fill="none" stroke="#acacac" stroke-width="2.39" stroke-linecap="round" stroke-linejoin="round"/>
<ellipse cx="293.74" cy="205.79" rx="1.71" ry="4.52" fill="#9a9a9a"/>
<ellipse cx="285.29" cy="208.6" rx="1.71" ry="3.11" fill="#919191"/>
<ellipse cx="267" cy="213.53" rx="1.43" ry="1.43" fill="#a3a3a3"/>
<ellipse cx="200.16" cy="199.46" rx="1.71" ry="1.99" fill="#9a9a9a"/>
<ellipse cx="223.38" cy="202.27" rx="1.14" ry="1.43" fill="#a3a3a3"/>
<path d="M195.23 267.71 L197.34 280.37 L198.05 287.41" fill="none" stroke="#a3a3a3" stroke-width="1.83" stroke-linecap="round" stroke-linejoin="round"/>
<path d="M195.23 202.97 L199.45 208.6" fill="none" stroke="#a3a3a3" stroke-width="2.11" stroke-linecap="round" stroke-linejoin="round"/>
<path d="M150.2 168.5 L155.83 164.98 L164.27 163.57 L175.53 163.57 L185.38 161.46" fill="none" stroke="#c6c6c6" stroke-width="2.39" stroke-linecap="round" stroke-linejoin="round"/>
<ellipse cx="194.53" cy="183.27" rx="3.82" ry="2.55" fill="#5c5c5c"/>
<path d="M269.81 233.93 L267.7 245.19 L267.7 256.45 L269.81 260.67" fill="none" stroke="#b4b4b4" stroke-width="2.39" stroke-linecap="round" stroke-linejoin="round"/>
<path d="M277.55 233.93 L274.03 240.97" fill="none" stroke="#a3a3a3" stroke-width="2.11" stroke-linecap="round" stroke-linejoin="round"/>
<path d="M283.89 225.49 L281.07 221.97" fill="none" stroke="#acacac" stroke-width="2.39" stroke-linecap="round" stroke-linejoin="round"/>
<g filter="url(#hsoft)">
<path d="M40.31 138.81 L31.16 142.33 L26.23 146.55 L19.9 150.07 L11.46 152.18 L3.01 155" fill="none" stroke="#b1b1b1" stroke-width="5.27" stroke-linecap="round" stroke-linejoin="round"/>
<ellipse cx="8.64" cy="155.98" rx="3.83" ry="3.55" fill="#b1b1b1"/>
<path d="M38.19 140.22 L38.19 148.66 L40.31 159.5" fill="none" stroke="#b1b1b1" stroke-width="4.71" stroke-linecap="round" stroke-linejoin="round"/>
<path d="M76.19 17.79 L79.71 14.98 L81.82 17.79 L81.54 26.24 L78.3 29.76 L75.49 25.53Z" fill="#b1b1b1" stroke="#b1b1b1" stroke-width="2.6" stroke-linejoin="round"/>
<path d="M81.82 52.97 L84.63 52.69 L90.26 58.6 L94.48 60.71 L101.52 59.31 L108.56 56.49 L112.78 55.79 L112.78 57.9 L104.33 61.42 L97.3 64.23 L94.48 69.86 L92.37 71.27 L90.26 67.05 L88.15 60.71 L83.93 55.79Z" fill="#b1b1b1" stroke="#b1b1b1" stroke-width="2.6" stroke-linejoin="round"/>
<path d="M92.37 93.08 L94.48 95.19 L98.7 106.45 L101.52 109.26 L111.37 112.08 L101.52 111.37 L97.3 108.56 L93.08 105.74 L91.67 116.3 L88.85 128.96 L84.63 141.63 L82.52 148.66 L84.63 159.5 L72.67 159.5 L71.26 148.66 L67.75 141.63 L60.71 137.41 L57.9 138.81 L57.9 144.44 L53.67 144.44 L48.05 141.63 L41.01 136 L40.31 128.96 L43.12 129.67 L46.64 132.48 L55.08 131.78 L62.12 133.19 L69.15 136.7 L74.78 141.63 L79.71 144.44 L83.23 130.37 L87.45 116.3 L90.26 103.63Z" fill="#b1b1b1" stroke="#b1b1b1" stroke-width="2.6" stroke-linejoin="round"/>
<path d="M247.3 112.08 L243.78 113.77" fill="none" stroke="#b1b1b1" stroke-width="4.99" stroke-linecap="round" stroke-linejoin="round"/>
<path d="M243.78 7.24 L248.7 10.76 L253.63 12.16" fill="none" stroke="#b1b1b1" stroke-width="5.55" stroke-linecap="round" stroke-linejoin="round"/>
<path d="M290.22 5.13 L295.14 7.24 L299.36 11.46 L302.88 13.57" fill="none" stroke="#b1b1b1" stroke-width="5.27" stroke-linecap="round" stroke-linejoin="round"/>
<path d="M254.33 10.05 L258.56 4.43 L264.18 0.63 L270.52 0.63 L271.22 5.83 L265.59 8.65 L259.96 10.76 L256.44 12.87Z" fill="#b1b1b1" stroke="#b1b1b1" stroke-width="2.6" stroke-linejoin="round"/>
<path d="M186.51 36.79 L184.68 44.53 L186.08 50.16" fill="none" stroke="#b1b1b1" stroke-width="5.83" stroke-linecap="round" stroke-linejoin="round"/>
<path d="M181.86 53.68 L188.19 54.38 L192.42 50.86" fill="none" stroke="#b1b1b1" stroke-width="5.27" stroke-linecap="round" stroke-linejoin="round"/>
<ellipse cx="205.78" cy="32.57" rx="2.99" ry="3.55" fill="#b1b1b1"/>
<path d="M248.42 82.53 L250.39 83.93 L251.52 95.19 L253.63 105.04 L255.04 109.97 L250.82 110.67 L246.59 107.15 L245.89 104.34 L248.42 100.82 L248 90.97Z" fill="#b1b1b1" stroke="#b1b1b1" stroke-width="2.6" stroke-linejoin="round"/>
<path d="M175.53 135.3 L179.05 131.78 L186.79 130.37 L188.9 126.15 L191.01 126.85 L190.31 131.78 L188.19 136.7 L183.97 138.81 L188.19 143.04 L190.31 151.48 L191.71 159.5 L185.38 159.5 L183.97 150.07 L180.46 141.63 L176.23 138.81Z" fill="#b1b1b1" stroke="#b1b1b1" stroke-width="2.6" stroke-linejoin="round"/>
<path d="M117 202.97 L120.52 211.42" fill="none" stroke="#b1b1b1" stroke-width="4.71" stroke-linecap="round" stroke-linejoin="round"/>
<ellipse cx="130.37" cy="175.53" rx="3.83" ry="4.11" fill="#b1b1b1"/>
<path d="M132.48 172.02 L140.92 169.9 L149.36 169.2 L154.99 165.68 L160.2 163.57" fill="none" stroke="#b1b1b1" stroke-width="4.99" stroke-linecap="round" stroke-linejoin="round"/>
<path d="M3.01 155.13 L10.05 153.72 L12.16 157.24 L9.35 161.46 L6.53 159.35Z" fill="#b1b1b1" stroke="#b1b1b1" stroke-width="2.6" stroke-linejoin="round"/>
<path d="M71.26 148.09 L81.82 148.09 L84.63 159.35 L90.26 166.39 L97.3 173.42 L102.22 179.76 L99.41 181.16 L94.48 176.24 L87.45 167.79 L81.11 163.57 L76.89 159.35 L73.38 153.72Z" fill="#b1b1b1" stroke="#b1b1b1" stroke-width="2.6" stroke-linejoin="round"/>
<path d="M61.41 284.59 L66.34 283.19 L70.56 284.59 L76.89 288.11 L73.38 289.52 L67.75 288.11 L65.64 291.63 L67.75 298.66 L70.56 306.4 L67.75 306.4 L63.52 297.26 L60.71 290.22Z" fill="#b1b1b1" stroke="#b1b1b1" stroke-width="2.6" stroke-linejoin="round"/>
<path d="M188.19 148.8 L188.9 157.94 L190.31 166.39 L191.71 174.83 L190.31 183.27" fill="none" stroke="#b1b1b1" stroke-width="6.11" stroke-linecap="round" stroke-linejoin="round"/>
<path d="M191.01 191.72 L193.12 201.57" fill="none" stroke="#b1b1b1" stroke-width="4.99" stroke-linecap="round" stroke-linejoin="round"/>
<path d="M190.31 252.23 L192.42 260.67 L195.23 267.71" fill="none" stroke="#b1b1b1" stroke-width="4.71" stroke-linecap="round" stroke-linejoin="round"/>
<path d="M231.82 248 L240.26 249.41 L248.7 250.12 L254.33 249.69" fill="none" stroke="#b1b1b1" stroke-width="5.27" stroke-linecap="round" stroke-linejoin="round"/>
<path d="M208.6 220.56 L212.12 217.75 L220.56 216.76 L226.19 218.45 L231.82 223.38 L238.85 224.08 L247.3 221.97 L257.15 220.56 L267 218.88 L276.85 218.45 L281.77 219.86 L280.37 221.97 L272.63 221.97 L262.78 224.79 L254.33 228.3 L248.7 232.53 L243.08 236.75 L240.26 242.38 L237.45 243.78 L233.23 245.19 L231.82 249.41 L228.3 251.1 L225.49 246.6 L222.67 239.56 L217.75 235.34 L215.64 232.53 L217.75 226.9 L213.52 222.68Z" fill="#b1b1b1" stroke="#b1b1b1" stroke-width="2.6" stroke-linejoin="round"/>
<path d="M163.57 243.08 L168.49 244.06 L175.53 245.19 L183.97 244.49 L190.31 240.97 L198.05 238.15 L206.49 236.75 L212.12 235.34 L212.12 242.38 L210.01 245.19 L206.49 240.97 L199.45 242.38 L195.23 246.6 L192.42 250.82 L188.19 252.23 L184.68 249.41 L178.34 248.71 L171.31 246.6 L164.98 245.89Z" fill="#b1b1b1" stroke="#b1b1b1" stroke-width="2.6" stroke-linejoin="round"/>
<path d="M253.63 248 L257.15 248.71 L259.26 253.63 L262.78 259.26 L269.81 260.67 L274.03 264.89 L279.66 266.3 L283.18 262.78 L284.59 264.89 L281.77 271.93 L278.96 278.96 L276.15 290.22 L274.03 298.66 L272.63 307.11 L267.7 307.11 L271.22 297.26 L271.92 287.41 L271.92 276.15 L268.41 269.11 L262.78 264.89 L258.56 259.26 L255.04 253.63Z" fill="#b1b1b1" stroke="#b1b1b1" stroke-width="2.6" stroke-linejoin="round"/>
<path d="M278.96 233.23 L283.18 228.3 L288.81 226.19 L296.55 228.3 L295.14 231.82 L289.51 235.34 L282.48 236.75Z" fill="#b1b1b1" stroke="#b1b1b1" stroke-width="2.6" stroke-linejoin="round"/>
</g>
<g>
<path d="M40.31 138.81 L31.16 142.33 L26.23 146.55 L19.9 150.07 L11.46 152.18 L3.01 155" fill="none" stroke="#dddddd" stroke-width="2.67" stroke-linecap="round" stroke-linejoin="round"/>
<ellipse cx="8.64" cy="155.98" rx="2.83" ry="2.55" fill="#ffffff"/>
<path d="M38.19 140.22 L38.19 148.66 L40.31 159.5" fill="none" stroke="#d8d8d8" stroke-width="2.11" stroke-linecap="round" stroke-linejoin="round"/>
<path d="M76.19 17.79 L79.71 14.98 L81.82 17.79 L81.54 26.24 L78.3 29.76 L75.49 25.53Z" fill="#ffffff" stroke="#ffffff" stroke-width="0" stroke-linejoin="round"/>
<path d="M81.82 52.97 L84.63 52.69 L90.26 58.6 L94.48 60.71 L101.52 59.31 L108.56 56.49 L112.78 55.79 L112.78 57.9 L104.33 61.42 L97.3 64.23 L94.48 69.86 L92.37 71.27 L90.26 67.05 L88.15 60.71 L83.93 55.79Z" fill="#ffffff" stroke="#ffffff" stroke-width="0" stroke-linejoin="round"/>
<path d="M92.37 93.08 L94.48 95.19 L98.7 106.45 L101.52 109.26 L111.37 112.08 L101.52 111.37 L97.3 108.56 L93.08 105.74 L91.67 116.3 L88.85 128.96 L84.63 141.63 L82.52 148.66 L84.63 159.5 L72.67 159.5 L71.26 148.66 L67.75 141.63 L60.71 137.41 L57.9 138.81 L57.9 144.44 L53.67 144.44 L48.05 141.63 L41.01 136 L40.31 128.96 L43.12 129.67 L46.64 132.48 L55.08 131.78 L62.12 133.19 L69.15 136.7 L74.78 141.63 L79.71 144.44 L83.23 130.37 L87.45 116.3 L90.26 103.63Z" fill="#ffffff" stroke="#ffffff" stroke-width="0" stroke-linejoin="round"/>
<path d="M247.3 112.08 L243.78 113.77" fill="none" stroke="#d3d3d3" stroke-width="2.39" stroke-linecap="round" stroke-linejoin="round"/>
<path d="M243.78 7.24 L248.7 10.76 L253.63 12.16" fill="none" stroke="#d8d8d8" stroke-width="2.95" stroke-linecap="round" stroke-linejoin="round"/>
<path d="M290.22 5.13 L295.14 7.24 L299.36 11.46 L302.88 13.57" fill="none" stroke="#d8d8d8" stroke-width="2.67" stroke-linecap="round" stroke-linejoin="round"/>
<path d="M254.33 10.05 L258.56 4.43 L264.18 0.63 L270.52 0.63 L271.22 5.83 L265.59 8.65 L259.96 10.76 L256.44 12.87Z" fill="#ffffff" stroke="#ffffff" stroke-width="0" stroke-linejoin="round"/>
<path d="M186.51 36.79 L184.68 44.53 L186.08 50.16" fill="none" stroke="#ffffff" stroke-width="3.23" stroke-linecap="round" stroke-linejoin="round"/>
<path d="M181.86 53.68 L188.19 54.38 L192.42 50.86" fill="none" stroke="#dddddd" stroke-width="2.67" stroke-linecap="round" stroke-linejoin="round"/>
<ellipse cx="205.78" cy="32.57" rx="1.99" ry="2.55" fill="#d8d8d8"/>
<path d="M248.42 82.53 L250.39 83.93 L251.52 95.19 L253.63 105.04 L255.04 109.97 L250.82 110.67 L246.59 107.15 L245.89 104.34 L248.42 100.82 L248 90.97Z" fill="#ffffff" stroke="#ffffff" stroke-width="0" stroke-linejoin="round"/>
<path d="M175.53 135.3 L179.05 131.78 L186.79 130.37 L188.9 126.15 L191.01 126.85 L190.31 131.78 L188.19 136.7 L183.97 138.81 L188.19 143.04 L190.31 151.48 L191.71 159.5 L185.38 159.5 L183.97 150.07 L180.46 141.63 L176.23 138.81Z" fill="#ffffff" stroke="#ffffff" stroke-width="0" stroke-linejoin="round"/>
<path d="M117 202.97 L120.52 211.42" fill="none" stroke="#d8d8d8" stroke-width="2.11" stroke-linecap="round" stroke-linejoin="round"/>
<ellipse cx="130.37" cy="175.53" rx="2.83" ry="3.11" fill="#ffffff"/>
<path d="M132.48 172.02 L140.92 169.9 L149.36 169.2 L154.99 165.68 L160.2 163.57" fill="none" stroke="#d3d3d3" stroke-width="2.39" stroke-linecap="round" stroke-linejoin="round"/>
<path d="M3.01 155.13 L10.05 153.72 L12.16 157.24 L9.35 161.46 L6.53 159.35Z" fill="#ffffff" stroke="#ffffff" stroke-width="0" stroke-linejoin="round"/>
<path d="M71.26 148.09 L81.82 148.09 L84.63 159.35 L90.26 166.39 L97.3 173.42 L102.22 179.76 L99.41 181.16 L94.48 176.24 L87.45 167.79 L81.11 163.57 L76.89 159.35 L73.38 153.72Z" fill="#ffffff" stroke="#ffffff" stroke-width="0" stroke-linejoin="round"/>
<path d="M61.41 284.59 L66.34 283.19 L70.56 284.59 L76.89 288.11 L73.38 289.52 L67.75 288.11 L65.64 291.63 L67.75 298.66 L70.56 306.4 L67.75 306.4 L63.52 297.26 L60.71 290.22Z" fill="#ffffff" stroke="#ffffff" stroke-width="0" stroke-linejoin="round"/>
<path d="M188.19 148.8 L188.9 157.94 L190.31 166.39 L191.71 174.83 L190.31 183.27" fill="none" stroke="#ffffff" stroke-width="3.51" stroke-linecap="round" stroke-linejoin="round"/>
<path d="M191.01 191.72 L193.12 201.57" fill="none" stroke="#d8d8d8" stroke-width="2.39" stroke-linecap="round" stroke-linejoin="round"/>
<path d="M190.31 252.23 L192.42 260.67 L195.23 267.71" fill="none" stroke="#d3d3d3" stroke-width="2.11" stroke-linecap="round" stroke-linejoin="round"/>
<path d="M231.82 248 L240.26 249.41 L248.7 250.12 L254.33 249.69" fill="none" stroke="#d8d8d8" stroke-width="2.67" stroke-linecap="round" stroke-linejoin="round"/>
<path d="M208.6 220.56 L212.12 217.75 L220.56 216.76 L226.19 218.45 L231.82 223.38 L238.85 224.08 L247.3 221.97 L257.15 220.56 L267 218.88 L276.85 218.45 L281.77 219.86 L280.37 221.97 L272.63 221.97 L262.78 224.79 L254.33 228.3 L248.7 232.53 L243.08 236.75 L240.26 242.38 L237.45 243.78 L233.23 245.19 L231.82 249.41 L228.3 251.1 L225.49 246.6 L222.67 239.56 L217.75 235.34 L215.64 232.53 L217.75 226.9 L213.52 222.68Z" fill="#ffffff" stroke="#ffffff" stroke-width="0" stroke-linejoin="round"/>
<path d="M163.57 243.08 L168.49 244.06 L175.53 245.19 L183.97 244.49 L190.31 240.97 L198.05 238.15 L206.49 236.75 L212.12 235.34 L212.12 242.38 L210.01 245.19 L206.49 240.97 L199.45 242.38 L195.23 246.6 L192.42 250.82 L188.19 252.23 L184.68 249.41 L178.34 248.71 L171.31 246.6 L164.98 245.89Z" fill="#ffffff" stroke="#ffffff" stroke-width="0" stroke-linejoin="round"/>
<path d="M253.63 248 L257.15 248.71 L259.26 253.63 L262.78 259.26 L269.81 260.67 L274.03 264.89 L279.66 266.3 L283.18 262.78 L284.59 264.89 L281.77 271.93 L278.96 278.96 L276.15 290.22 L274.03 298.66 L272.63 307.11 L267.7 307.11 L271.22 297.26 L271.92 287.41 L271.92 276.15 L268.41 269.11 L262.78 264.89 L258.56 259.26 L255.04 253.63Z" fill="#ffffff" stroke="#ffffff" stroke-width="0" stroke-linejoin="round"/>
<path d="M278.96 233.23 L283.18 228.3 L288.81 226.19 L296.55 228.3 L295.14 231.82 L289.51 235.34 L282.48 236.75Z" fill="#ffffff" stroke="#ffffff" stroke-width="0" stroke-linejoin="round"/>
</g>
</g></g>
<g transform="translate(81.8 735)" clip-path="url(#cp20)">
<g filter="url(#f20)">
<rect x="-10" y="-10" width="326.5" height="326.4" fill="#808080"/>
<ellipse cx="143.74" cy="84.43" rx="3.11" ry="7.34" fill="#939393"/>
<path d="M132.48 75.99 L131.07 90.06 L124.03 98.5" fill="none" stroke="#939393" stroke-width="2.11" stroke-linecap="round" stroke-linejoin="round"/>
<path d="M112.78 111.17 L122.63 118.21" fill="none" stroke="#989898" stroke-width="2.67" stroke-linecap="round" stroke-linejoin="round"/>
<path d="M69.86 2.11 L74.78 8.44 L77.6 15.48" fill="none" stroke="#b1b1b1" stroke-width="2.67" stroke-linecap="round" stroke-linejoin="round"/>
<ellipse cx="88.85" cy="6.33" rx="3.82" ry="3.82" fill="#585858"/>
<ellipse cx="64.93" cy="27.44" rx="2.27" ry="2.27" fill="#585858"/>
<path d="M111.37 18.29 L121.22 16.89" fill="none" stroke="#626262" stroke-width="2.39" stroke-linecap="round" stroke-linejoin="round"/>
<ellipse cx="54.38" cy="23.92" rx="1.99" ry="1.99" fill="#a7a7a7"/>
<path d="M112.78 63.32 L104.33 67.55 L100.11 71.77" fill="none" stroke="#585858" stroke-width="2.39" stroke-linecap="round" stroke-linejoin="round"/>
<ellipse cx="115.59" cy="49.96" rx="1.71" ry="1.71" fill="#b1b1b1"/>
<ellipse cx="121.22" cy="60.51" rx="1.43" ry="1.43" fill="#a7a7a7"/>
<path d="M101.52 52.07 L104.33 46.44" fill="none" stroke="#a2a2a2" stroke-width="1.83" stroke-linecap="round" stroke-linejoin="round"/>
<ellipse cx="86.04" cy="71.77" rx="1.14" ry="1.14" fill="#bababa"/>
<path d="M141.62 54.18 L152.18 55.58 L160.2 56.99" fill="none" stroke="#535353" stroke-width="2.67" stroke-linecap="round" stroke-linejoin="round"/>
<path d="M154.99 11.26 L160.2 9.85" fill="none" stroke="#9d9d9d" stroke-width="2.11" stroke-linecap="round" stroke-linejoin="round"/>
<path d="M154.99 67.55 L160.2 66.14" fill="none" stroke="#939393" stroke-width="2.11" stroke-linecap="round" stroke-linejoin="round"/>
<path d="M28.34 71.77 L32.57 66.14 L42.42 60.51 L53.67 57.7" fill="none" stroke="#a7a7a7" stroke-width="2.11" stroke-linecap="round" stroke-linejoin="round"/>
<ellipse cx="27.64" cy="71.77" rx="1.71" ry="1.71" fill="#b1b1b1"/>
<path d="M4.42 54.88 L8.64 60.51 L12.86 66.14" fill="none" stroke="#585858" stroke-width="2.11" stroke-linecap="round" stroke-linejoin="round"/>
<ellipse cx="30.46" cy="83.03" rx="1.99" ry="1.99" fill="#585858"/>
<ellipse cx="41.71" cy="84.43" rx="1.71" ry="3.82" fill="#5d5d5d"/>
<ellipse cx="3.01" cy="71.77" rx="1.71" ry="1.71" fill="#acacac"/>
<ellipse cx="15.68" cy="78.1" rx="1.71" ry="1.71" fill="#9d9d9d"/>
<ellipse cx="33.27" cy="87.95" rx="1.43" ry="1.43" fill="#a7a7a7"/>
<ellipse cx="33.27" cy="115.39" rx="1.99" ry="1.99" fill="#b1b1b1"/>
<ellipse cx="45.23" cy="115.39" rx="1.43" ry="1.43" fill="#9d9d9d"/>
<ellipse cx="83.23" cy="95.69" rx="1.71" ry="1.71" fill="#bababa"/>
<ellipse cx="102.22" cy="109.06" rx="2.27" ry="2.27" fill="#bababa"/>
<ellipse cx="109.96" cy="108.36" rx="1.71" ry="1.71" fill="#a7a7a7"/>
<path d="M46.64 121.02 L50.86 128.06" fill="none" stroke="#a2a2a2" stroke-width="2.11" stroke-linecap="round" stroke-linejoin="round"/>
<path d="M69.15 126.65 L74.78 132.28" fill="none" stroke="#a2a2a2" stroke-width="2.11" stroke-linecap="round" stroke-linejoin="round"/>
<path d="M33.97 144.94 L36.79 153.39 L41.01 160" fill="none" stroke="#b1b1b1" stroke-width="1.83" stroke-linecap="round" stroke-linejoin="round"/>
<path d="M21.31 146.35 L28.34 142.13" fill="none" stroke="#585858" stroke-width="2.11" stroke-linecap="round" stroke-linejoin="round"/>
<ellipse cx="10.05" cy="147.76" rx="1.71" ry="1.71" fill="#626262"/>
<path d="M146.55 115.39 L160.2 118.21" fill="none" stroke="#626262" stroke-width="2.67" stroke-linecap="round" stroke-linejoin="round"/>
<path d="M98.7 113.28 L104.33 113.28" fill="none" stroke="#626262" stroke-width="2.11" stroke-linecap="round" stroke-linejoin="round"/>
<path d="M41.01 138.61 L32.57 140.72 L25.53 144.24 L19.9 149.16 L11.46 151.98 L5.83 154.79" fill="none" stroke="#a7a7a7" stroke-width="4.08" stroke-linecap="round" stroke-linejoin="round"/>
<path d="M19.9 149.16 L11.46 151.98 L5.83 154.79" fill="none" stroke="#c4c4c4" stroke-width="2.11" stroke-linecap="round" stroke-linejoin="round"/>
<ellipse cx="217.75" cy="78.8" rx="8.74" ry="17.19" fill="#898989"/>
<ellipse cx="245.89" cy="33.77" rx="14.37" ry="11.56" fill="#858585"/>
<path d="M274.03 21.11 L279.66 26.03" fill="none" stroke="#b1b1b1" stroke-width="2.11" stroke-linecap="round" stroke-linejoin="round"/>
<path d="M297.96 12.66 L302.88 11.96" fill="none" stroke="#b1b1b1" stroke-width="1.83" stroke-linecap="round" stroke-linejoin="round"/>
<ellipse cx="212.12" cy="36.59" rx="1.43" ry="1.43" fill="#585858"/>
<path d="M206.49 28.14 L213.52 24.63 L219.15 21.11" fill="none" stroke="#b1b1b1" stroke-width="2.11" stroke-linecap="round" stroke-linejoin="round"/>
<ellipse cx="190.31" cy="49.25" rx="1.71" ry="1.71" fill="#bababa"/>
<ellipse cx="162.86" cy="49.25" rx="3.82" ry="1.43" fill="#626262"/>
<ellipse cx="187.49" cy="63.32" rx="2.55" ry="1.43" fill="#585858"/>
<ellipse cx="158.64" cy="67.55" rx="7.34" ry="2.27" fill="#9d9d9d"/>
<ellipse cx="168.49" cy="49.96" rx="4.52" ry="1.71" fill="#a2a2a2"/>
<ellipse cx="219.15" cy="42.92" rx="1.71" ry="1.71" fill="#b1b1b1"/>
<ellipse cx="242.37" cy="18.29" rx="1.99" ry="3.82" fill="#9d9d9d"/>
<ellipse cx="274.03" cy="46.44" rx="1.43" ry="1.71" fill="#a7a7a7"/>
<ellipse cx="290.92" cy="68.95" rx="3.82" ry="1.99" fill="#a7a7a7"/>
<ellipse cx="293.74" cy="64.73" rx="1.71" ry="1.99" fill="#9d9d9d"/>
<ellipse cx="231.11" cy="73.18" rx="1.43" ry="1.99" fill="#585858"/>
<ellipse cx="247.3" cy="58.4" rx="1.71" ry="1.99" fill="#626262"/>
<ellipse cx="265.59" cy="84.43" rx="1.43" ry="1.43" fill="#626262"/>
<ellipse cx="278.96" cy="19" rx="2.55" ry="2.55" fill="#585858"/>
<ellipse cx="295.14" cy="19.7" rx="1.71" ry="1.71" fill="#585858"/>
<ellipse cx="262.78" cy="18.29" rx="1.71" ry="1.71" fill="#626262"/>
<path d="M251.52 76.69 L253.63 83.03" fill="none" stroke="#c4c4c4" stroke-width="2.11" stroke-linecap="round" stroke-linejoin="round"/>
<path d="M247.3 54.88 L248.7 61.92 L250.11 70.36" fill="none" stroke="#9d9d9d" stroke-width="2.11" stroke-linecap="round" stroke-linejoin="round"/>
<ellipse cx="259.96" cy="108.36" rx="1.71" ry="1.71" fill="#b1b1b1"/>
<path d="M245.89 111.87 L240.26 115.39 L234.63 118.91" fill="none" stroke="#c4c4c4" stroke-width="2.39" stroke-linecap="round" stroke-linejoin="round"/>
<ellipse cx="233.23" cy="119.61" rx="1.71" ry="1.71" fill="#b1b1b1"/>
<path d="M267 123.83 L276.85 135.09 L285.29 143.54 L304.99 146.35" fill="none" stroke="#a7a7a7" stroke-width="2.11" stroke-linecap="round" stroke-linejoin="round"/>
<ellipse cx="282.48" cy="143.54" rx="1.43" ry="1.43" fill="#bababa"/>
<ellipse cx="176.94" cy="138.61" rx="4.52" ry="3.82" fill="#b1b1b1"/>
<path d="M189.6 133.69 L196.64 135.8 L202.27 137.2" fill="none" stroke="#b1b1b1" stroke-width="2.11" stroke-linecap="round" stroke-linejoin="round"/>
<ellipse cx="202.27" cy="124.54" rx="1.99" ry="1.99" fill="#585858"/>
<ellipse cx="255.74" cy="131.57" rx="3.82" ry="3.11" fill="#585858"/>
<ellipse cx="235.34" cy="132.28" rx="1.43" ry="1.43" fill="#585858"/>
<ellipse cx="188.19" cy="154.79" rx="1.71" ry="1.71" fill="#585858"/>
<ellipse cx="168.49" cy="142.13" rx="1.99" ry="1.99" fill="#626262"/>
<path d="M158.64 119.61 L150.2 119.61" fill="none" stroke="#626262" stroke-width="2.11" stroke-linecap="round" stroke-linejoin="round"/>
<path d="M214.93 130.87 L223.38 135.09 L231.82 135.8" fill="none" stroke="#a2a2a2" stroke-width="2.11" stroke-linecap="round" stroke-linejoin="round"/>
<ellipse cx="192.42" cy="92.88" rx="1.71" ry="1.71" fill="#9d9d9d"/>
<path d="M172.72 154.79 L164.27 159.01" fill="none" stroke="#9d9d9d" stroke-width="2.11" stroke-linecap="round" stroke-linejoin="round"/>
<ellipse cx="162.86" cy="2.11" rx="1.43" ry="1.43" fill="#a7a7a7"/>
<ellipse cx="304.99" cy="154.79" rx="1.71" ry="1.71" fill="#b1b1b1"/>
<ellipse cx="149.36" cy="213.32" rx="7.34" ry="17.19" fill="#8e8e8e"/>
<ellipse cx="32.57" cy="290.72" rx="5.93" ry="3.82" fill="#989898"/>
<ellipse cx="93.08" cy="234.43" rx="4.52" ry="5.93" fill="#8e8e8e"/>
<ellipse cx="71.97" cy="238.65" rx="3.82" ry="4.52" fill="#8e8e8e"/>
<ellipse cx="8.64" cy="202.07" rx="5.93" ry="4.52" fill="#8e8e8e"/>
<ellipse cx="8.64" cy="283.69" rx="7.34" ry="5.93" fill="#898989"/>
<ellipse cx="140.92" cy="294.94" rx="11.56" ry="7.34" fill="#898989"/>
<ellipse cx="91.67" cy="300.57" rx="3.82" ry="4.52" fill="#8e8e8e"/>
<path d="M0.2 197.85 L4.42 200.66" fill="none" stroke="#a7a7a7" stroke-width="2.67" stroke-linecap="round" stroke-linejoin="round"/>
<path d="M12.86 150 L5.83 152.81" fill="none" stroke="#a7a7a7" stroke-width="1.83" stroke-linecap="round" stroke-linejoin="round"/>
<path d="M105.04 184.48 L112.78 186.59 L121.22 182.37" fill="none" stroke="#a7a7a7" stroke-width="2.11" stroke-linecap="round" stroke-linejoin="round"/>
<path d="M46.64 177.44 L56.49 180.26" fill="none" stroke="#a7a7a7" stroke-width="2.11" stroke-linecap="round" stroke-linejoin="round"/>
<path d="M36.79 151.41 L41.01 159.85 L42.42 165.48" fill="none" stroke="#a7a7a7" stroke-width="2.11" stroke-linecap="round" stroke-linejoin="round"/>
<ellipse cx="117.7" cy="192.22" rx="1.43" ry="1.43" fill="#cecece"/>
<path d="M117 206.29 L117.7 213.32" fill="none" stroke="#c4c4c4" stroke-width="1.83" stroke-linecap="round" stroke-linejoin="round"/>
<path d="M129.66 183.77 L127.55 188.7" fill="none" stroke="#bababa" stroke-width="1.83" stroke-linecap="round" stroke-linejoin="round"/>
<ellipse cx="129.66" cy="233.03" rx="1.43" ry="1.71" fill="#c4c4c4"/>
<ellipse cx="81.11" cy="187.29" rx="1.71" ry="2.27" fill="#585858"/>
<ellipse cx="76.19" cy="200.66" rx="1.99" ry="1.99" fill="#626262"/>
<ellipse cx="53.67" cy="206.29" rx="3.11" ry="1.71" fill="#5d5d5d"/>
<ellipse cx="32.57" cy="222.47" rx="1.71" ry="1.71" fill="#585858"/>
<ellipse cx="53.67" cy="218.95" rx="2.27" ry="2.27" fill="#626262"/>
<ellipse cx="154.99" cy="290.72" rx="1.99" ry="2.27" fill="#585858"/>
<ellipse cx="156.4" cy="235.84" rx="3.82" ry="1.43" fill="#5d5d5d"/>
<path d="M1.61 230.21 L8.64 225.99 L15.68 223.18" fill="none" stroke="#585858" stroke-width="2.11" stroke-linecap="round" stroke-linejoin="round"/>
<path d="M5.83 237.25 L11.46 244.28 L14.27 251.32" fill="none" stroke="#535353" stroke-width="2.11" stroke-linecap="round" stroke-linejoin="round"/>
<path d="M15.68 261.17 L19.9 269.61 L24.12 275.24" fill="none" stroke="#585858" stroke-width="2.39" stroke-linecap="round" stroke-linejoin="round"/>
<path d="M84.63 266.8 L83.23 273.83" fill="none" stroke="#585858" stroke-width="2.39" stroke-linecap="round" stroke-linejoin="round"/>
<ellipse cx="17.09" cy="254.84" rx="1.43" ry="1.71" fill="#c4c4c4"/>
<path d="M35.38 280.87 L42.42 278.76 L48.05 280.87" fill="none" stroke="#b1b1b1" stroke-width="1.83" stroke-linecap="round" stroke-linejoin="round"/>
<path d="M41.01 272.43 L43.82 278.06" fill="none" stroke="#a7a7a7" stroke-width="1.83" stroke-linecap="round" stroke-linejoin="round"/>
<path d="M91.67 251.32 L98.7 241.47 L104.33 234.43" fill="none" stroke="#585858" stroke-width="2.11" stroke-linecap="round" stroke-linejoin="round"/>
<path d="M104.33 254.13 L111.37 248.5" fill="none" stroke="#535353" stroke-width="2.11" stroke-linecap="round" stroke-linejoin="round"/>
<path d="M149.36 261.17 L152.18 258.36" fill="none" stroke="#585858" stroke-width="2.11" stroke-linecap="round" stroke-linejoin="round"/>
<ellipse cx="90.26" cy="254.84" rx="2.27" ry="1.71" fill="#b1b1b1"/>
<ellipse cx="106.44" cy="240.06" rx="1.43" ry="1.43" fill="#b1b1b1"/>
<path d="M111.37 247.1 L116.29 254.13 L111.37 261.17 L106.44 254.13 L111.37 247.1" fill="none" stroke="#9d9d9d" stroke-width="1.83" stroke-linecap="round" stroke-linejoin="round"/>
<ellipse cx="88.15" cy="267.5" rx="1.43" ry="1.71" fill="#b1b1b1"/>
<path d="M142.33 249.91 L152.18 252.73" fill="none" stroke="#a7a7a7" stroke-width="1.83" stroke-linecap="round" stroke-linejoin="round"/>
<ellipse cx="155.83" cy="192.22" rx="10.15" ry="21.41" fill="#8e8e8e"/>
<ellipse cx="248.7" cy="179.55" rx="21.41" ry="4.52" fill="#8b8b8b"/>
<ellipse cx="292.33" cy="180.96" rx="3.11" ry="3.11" fill="#939393"/>
<ellipse cx="175.53" cy="271.02" rx="4.52" ry="7.34" fill="#8e8e8e"/>
<path d="M192.42 196.44 L193.82 201.36 L199.45 199.25 L202.27 195.03 L197.34 193.62" fill="none" stroke="#c4c4c4" stroke-width="2.11" stroke-linecap="round" stroke-linejoin="round"/>
<ellipse cx="194.53" cy="195.03" rx="1.43" ry="1.43" fill="#585858"/>
<path d="M202.27 171.11 L207.9 176.74 L216.34 175.33 L221.97 180.26 L224.78 183.07" fill="none" stroke="#b1b1b1" stroke-width="2.39" stroke-linecap="round" stroke-linejoin="round"/>
<path d="M224.78 259.76 L230.41 256.95 L233.23 258.36" fill="none" stroke="#cecece" stroke-width="2.67" stroke-linecap="round" stroke-linejoin="round"/>
<ellipse cx="230.41" cy="276.65" rx="7.34" ry="3.11" fill="#626262"/>
<ellipse cx="264.18" cy="196.44" rx="1.71" ry="1.71" fill="#585858"/>
<ellipse cx="297.96" cy="200.66" rx="1.71" ry="1.71" fill="#585858"/>
<ellipse cx="282.48" cy="196.44" rx="1.71" ry="1.71" fill="#626262"/>
<ellipse cx="151.61" cy="259.76" rx="1.71" ry="1.71" fill="#585858"/>
<ellipse cx="154.42" cy="292.13" rx="1.71" ry="1.71" fill="#5d5d5d"/>
<ellipse cx="182.57" cy="203.47" rx="1.71" ry="2.27" fill="#626262"/>
<ellipse cx="257.15" cy="296.35" rx="1.71" ry="1.71" fill="#585858"/>
<ellipse cx="234.63" cy="213.32" rx="5.93" ry="1.99" fill="#626262"/>
<path d="M290.92 165.48 L303.59 158.44" fill="none" stroke="#5d5d5d" stroke-width="2.39" stroke-linecap="round" stroke-linejoin="round"/>
<path d="M196.64 263.98 L189.6 258.36" fill="none" stroke="#b1b1b1" stroke-width="1.83" stroke-linecap="round" stroke-linejoin="round"/>
<ellipse cx="207.9" cy="276.65" rx="1.14" ry="1.14" fill="#b1b1b1"/>
<ellipse cx="212.12" cy="296.35" rx="5.93" ry="2.27" fill="#a7a7a7"/>
<ellipse cx="196.64" cy="293.54" rx="1.71" ry="1.71" fill="#a7a7a7"/>
<ellipse cx="172.72" cy="240.06" rx="1.43" ry="1.43" fill="#a7a7a7"/>
<ellipse cx="223.38" cy="203.47" rx="1.43" ry="1.43" fill="#9d9d9d"/>
<ellipse cx="240.26" cy="206.29" rx="1.14" ry="3.11" fill="#9d9d9d"/>
<ellipse cx="304.99" cy="158.44" rx="1.43" ry="1.71" fill="#bababa"/>
<ellipse cx="285.29" cy="293.54" rx="1.43" ry="3.11" fill="#9d9d9d"/>
<ellipse cx="293.74" cy="254.13" rx="1.71" ry="3.11" fill="#9d9d9d"/>
<ellipse cx="257.15" cy="258.36" rx="1.71" ry="1.71" fill="#b1b1b1"/>
<path d="M268.41 240.06 L267.7 248.5" fill="none" stroke="#b1b1b1" stroke-width="2.11" stroke-linecap="round" stroke-linejoin="round"/>
<path d="M254.33 251.32 L255.04 258.36" fill="none" stroke="#cecece" stroke-width="2.39" stroke-linecap="round" stroke-linejoin="round"/>
<g filter="url(#hsoft)">
<ellipse cx="75.49" cy="70.36" rx="2.43" ry="2.43" fill="#b1b1b1"/>
<path d="M41.01 138.61 L32.57 140.72 L25.53 144.24 L19.9 149.16" fill="none" stroke="#b1b1b1" stroke-width="4.99" stroke-linecap="round" stroke-linejoin="round"/>
<ellipse cx="7.24" cy="157.33" rx="4.4" ry="3.83" fill="#b1b1b1"/>
<path d="M89.56 52.77 L92.37 59.1" fill="none" stroke="#b1b1b1" stroke-width="4.71" stroke-linecap="round" stroke-linejoin="round"/>
<ellipse cx="89.56" cy="19" rx="2.99" ry="2.99" fill="#b1b1b1"/>
<path d="M76.89 17.59 L81.82 16.89 L84.63 19.7 L84.63 26.74 L80.41 28.85 L74.78 26.74 L76.89 22.52Z" fill="#b1b1b1" stroke="#b1b1b1" stroke-width="2.6" stroke-linejoin="round"/>
<path d="M88.15 60.51 L91.67 59.1 L95.89 61.21 L101.52 59.1 L108.56 56.29 L112.78 55.58 L111.37 58.4 L104.33 62.62 L98.7 65.44 L95.89 67.55 L93.78 70.36 L90.26 69.66 L88.15 66.14Z" fill="#b1b1b1" stroke="#b1b1b1" stroke-width="2.6" stroke-linejoin="round"/>
<path d="M247.3 2.11 L251.52 5.63 L254.33 9.85" fill="none" stroke="#b1b1b1" stroke-width="4.99" stroke-linecap="round" stroke-linejoin="round"/>
<path d="M283.89 3.52 L289.51 7.74 L293.74 12.66 L295.14 14.78" fill="none" stroke="#b1b1b1" stroke-width="4.99" stroke-linecap="round" stroke-linejoin="round"/>
<ellipse cx="204.38" cy="30.96" rx="2.99" ry="2.71" fill="#b1b1b1"/>
<path d="M187.07 34.48 L186.08 40.81 L183.69 45.03" fill="none" stroke="#b1b1b1" stroke-width="5.55" stroke-linecap="round" stroke-linejoin="round"/>
<path d="M183.97 46.44 L185.38 52.07 L184.68 56.29" fill="none" stroke="#b1b1b1" stroke-width="5.83" stroke-linecap="round" stroke-linejoin="round"/>
<path d="M255.04 6.33 L259.26 2.81 L265.59 0.7 L271.22 0.7 L268.41 3.52 L262.78 6.33 L258.56 9.85 L255.74 10.55Z" fill="#b1b1b1" stroke="#b1b1b1" stroke-width="2.6" stroke-linejoin="round"/>
<path d="M249.41 85.84 L251.52 84.43 L251.8 92.88 L252.22 101.32 L254.33 108.36 L251.52 110.47 L247.3 106.95 L246.59 104.13 L248.7 98.5 L248.7 91.47Z" fill="#b1b1b1" stroke="#b1b1b1" stroke-width="2.6" stroke-linejoin="round"/>
<path d="M186.08 127.35 L188.19 126.65 L188.9 135.09 L187.49 139.31 L189.6 143.54 L192.42 147.76 L193.12 153.39 L190.31 153.39 L187.49 146.35 L184.68 140.72 L181.16 137.91 L180.46 135.09 L184.68 135.09Z" fill="#b1b1b1" stroke="#b1b1b1" stroke-width="2.6" stroke-linejoin="round"/>
<path d="M29.75 220.36 L34.68 216.14" fill="none" stroke="#b1b1b1" stroke-width="4.43" stroke-linecap="round" stroke-linejoin="round"/>
<ellipse cx="27.64" cy="275.24" rx="2.43" ry="2.71" fill="#b1b1b1"/>
<path d="M58.6 181.66 L63.52 185.88" fill="none" stroke="#b1b1b1" stroke-width="4.71" stroke-linecap="round" stroke-linejoin="round"/>
<path d="M133.89 173.92 L142.33 171.11 L149.36 165.48 L153.59 161.26 L160.2 160.55" fill="none" stroke="#b1b1b1" stroke-width="4.99" stroke-linecap="round" stroke-linejoin="round"/>
<ellipse cx="128.96" cy="176.74" rx="5.52" ry="3.27" fill="#b1b1b1"/>
<path d="M2.31 156.33 L6.53 153.52 L11.46 155.63 L11.46 159.15 L7.24 158.44 L3.01 159.85Z" fill="#b1b1b1" stroke="#b1b1b1" stroke-width="2.6" stroke-linejoin="round"/>
<path d="M60.71 285.09 L63.52 281.57 L69.15 279.74 L73.38 280.87 L67.75 283.69 L64.93 288.61 L65.64 296.35 L69.15 306.2 L65.64 306.2 L62.12 297.76 L60.71 290.72Z" fill="#b1b1b1" stroke="#b1b1b1" stroke-width="2.6" stroke-linejoin="round"/>
<ellipse cx="290.92" cy="262.58" rx="2.43" ry="4.4" fill="#b1b1b1"/>
<path d="M150.2 164.07 L154.42 160.55 L160.05 162.66 L167.09 163.37" fill="none" stroke="#b1b1b1" stroke-width="4.43" stroke-linecap="round" stroke-linejoin="round"/>
<path d="M190.31 149.3 L190.31 155.63 L189.6 161.26 L193.12 166.89 L195.23 172.52 L192.42 178.14 L190.31 183.77" fill="none" stroke="#b1b1b1" stroke-width="5.27" stroke-linecap="round" stroke-linejoin="round"/>
<path d="M264.89 222.47 L281.77 221.06" fill="none" stroke="#b1b1b1" stroke-width="4.43" stroke-linecap="round" stroke-linejoin="round"/>
<path d="M248.7 250.19 L257.15 249.63" fill="none" stroke="#b1b1b1" stroke-width="5.55" stroke-linecap="round" stroke-linejoin="round"/>
<path d="M213.52 219.66 L217.75 217.26 L223.38 217.55 L226.89 220.36 L229.71 224.58 L234.63 225.99 L243.08 223.88 L252.93 221.77 L264.18 223.18 L264.18 226.69 L257.15 227.4 L248.7 230.91 L243.08 235.84 L240.26 240.06 L234.63 241.47 L231.82 242.88 L233.23 248.5 L235.34 252.73 L231.82 254.84 L227.6 251.32 L224.78 245.69 L223.38 240.06 L219.15 235.84 L216.34 233.03 L217.75 227.4 L216.34 222.47Z" fill="#b1b1b1" stroke="#b1b1b1" stroke-width="2.6" stroke-linejoin="round"/>
<path d="M164.98 249.91 L171.31 247.1 L179.75 246.39 L186.79 243.58 L192.42 241.47 L199.45 239.36 L206.49 237.95 L212.12 235.56 L212.12 240.06 L208.6 243.58 L203.67 243.58 L198.05 245.69 L193.82 249.91 L189.6 251.6 L185.38 248.5 L178.34 249.21 L171.31 250.62 L167.09 252.02Z" fill="#b1b1b1" stroke="#b1b1b1" stroke-width="2.6" stroke-linejoin="round"/>
<path d="M281.77 230.21 L283.89 226.69 L288.81 224.58 L293.74 226.69 L293.03 231.62 L289.51 234.43 L282.48 234.43Z" fill="#b1b1b1" stroke="#b1b1b1" stroke-width="2.6" stroke-linejoin="round"/>
<path d="M259.96 262.58 L264.18 262.58 L268.41 254.13 L269.81 248.5 L271.22 256.95 L274.03 265.39 L278.26 267.5 L281.77 265.39 L281.07 271.02 L277.55 278.06 L275.44 286.5 L273.33 296.35 L274.74 299.16 L272.63 301.98 L268.41 301.28 L269.81 293.54 L270.52 283.69 L269.81 275.24 L265.59 269.61 L261.37 265.39Z" fill="#b1b1b1" stroke="#b1b1b1" stroke-width="2.6" stroke-linejoin="round"/>
<path d="M40.08 127.28 L43.45 132.91 L53.3 133.47 L64.56 134.31 L74.41 135.72 L78.63 139.94 L75.82 143.32 L70.19 142.48 L61.75 141.63 L50.49 141.07 L42.05 138.82 L38.67 134.31Z" fill="#b1b1b1" stroke="#b1b1b1" stroke-width="2.6" stroke-linejoin="round"/>
<path d="M69.63 139.94 L77.79 141.35 L80.32 152.61 L84.54 163.87 L93.27 172.31 L101.71 177.94 L104.53 184.13 L99.74 183.57 L90.73 177.09 L80.88 168.65 L75.26 158.24 L71.88 148.39Z" fill="#b1b1b1" stroke="#b1b1b1" stroke-width="2.6" stroke-linejoin="round"/>
<path d="M76.66 139.94 L81.17 135.72 L85.39 124.46 L88.2 113.21 L91.02 101.95 L92.42 92.94 L95.8 94.91 L97.21 103.36 L100.3 108.98 L96.08 110.67 L93.55 107.58 L91.86 118.83 L89.05 130.09 L83.42 141.91Z" fill="#b1b1b1" stroke="#b1b1b1" stroke-width="2.6" stroke-linejoin="round"/>
</g>
<g>
<ellipse cx="75.49" cy="70.36" rx="1.43" ry="1.43" fill="#d3d3d3"/>
<path d="M41.01 138.61 L32.57 140.72 L25.53 144.24 L19.9 149.16" fill="none" stroke="#d8d8d8" stroke-width="2.39" stroke-linecap="round" stroke-linejoin="round"/>
<ellipse cx="7.24" cy="157.33" rx="3.4" ry="2.83" fill="#ffffff"/>
<path d="M89.56 52.77 L92.37 59.1" fill="none" stroke="#d8d8d8" stroke-width="2.11" stroke-linecap="round" stroke-linejoin="round"/>
<ellipse cx="89.56" cy="19" rx="1.99" ry="1.99" fill="#d8d8d8"/>
<path d="M76.89 17.59 L81.82 16.89 L84.63 19.7 L84.63 26.74 L80.41 28.85 L74.78 26.74 L76.89 22.52Z" fill="#ffffff" stroke="#ffffff" stroke-width="0" stroke-linejoin="round"/>
<path d="M88.15 60.51 L91.67 59.1 L95.89 61.21 L101.52 59.1 L108.56 56.29 L112.78 55.58 L111.37 58.4 L104.33 62.62 L98.7 65.44 L95.89 67.55 L93.78 70.36 L90.26 69.66 L88.15 66.14Z" fill="#ffffff" stroke="#ffffff" stroke-width="0" stroke-linejoin="round"/>
<path d="M247.3 2.11 L251.52 5.63 L254.33 9.85" fill="none" stroke="#d8d8d8" stroke-width="2.39" stroke-linecap="round" stroke-linejoin="round"/>
<path d="M283.89 3.52 L289.51 7.74 L293.74 12.66 L295.14 14.78" fill="none" stroke="#d3d3d3" stroke-width="2.39" stroke-linecap="round" stroke-linejoin="round"/>
<ellipse cx="204.38" cy="30.96" rx="1.99" ry="1.71" fill="#dddddd"/>
<path d="M187.07 34.48 L186.08 40.81 L183.69 45.03" fill="none" stroke="#ffffff" stroke-width="2.95" stroke-linecap="round" stroke-linejoin="round"/>
<path d="M183.97 46.44 L185.38 52.07 L184.68 56.29" fill="none" stroke="#d8d8d8" stroke-width="3.23" stroke-linecap="round" stroke-linejoin="round"/>
<path d="M255.04 6.33 L259.26 2.81 L265.59 0.7 L271.22 0.7 L268.41 3.52 L262.78 6.33 L258.56 9.85 L255.74 10.55Z" fill="#ffffff" stroke="#ffffff" stroke-width="0" stroke-linejoin="round"/>
<path d="M249.41 85.84 L251.52 84.43 L251.8 92.88 L252.22 101.32 L254.33 108.36 L251.52 110.47 L247.3 106.95 L246.59 104.13 L248.7 98.5 L248.7 91.47Z" fill="#ffffff" stroke="#ffffff" stroke-width="0" stroke-linejoin="round"/>
<path d="M186.08 127.35 L188.19 126.65 L188.9 135.09 L187.49 139.31 L189.6 143.54 L192.42 147.76 L193.12 153.39 L190.31 153.39 L187.49 146.35 L184.68 140.72 L181.16 137.91 L180.46 135.09 L184.68 135.09Z" fill="#ffffff" stroke="#ffffff" stroke-width="0" stroke-linejoin="round"/>
<path d="M29.75 220.36 L34.68 216.14" fill="none" stroke="#d3d3d3" stroke-width="1.83" stroke-linecap="round" stroke-linejoin="round"/>
<ellipse cx="27.64" cy="275.24" rx="1.43" ry="1.71" fill="#d8d8d8"/>
<path d="M58.6 181.66 L63.52 185.88" fill="none" stroke="#d3d3d3" stroke-width="2.11" stroke-linecap="round" stroke-linejoin="round"/>
<path d="M133.89 173.92 L142.33 171.11 L149.36 165.48 L153.59 161.26 L160.2 160.55" fill="none" stroke="#d8d8d8" stroke-width="2.39" stroke-linecap="round" stroke-linejoin="round"/>
<ellipse cx="128.96" cy="176.74" rx="4.52" ry="2.27" fill="#ffffff"/>
<path d="M2.31 156.33 L6.53 153.52 L11.46 155.63 L11.46 159.15 L7.24 158.44 L3.01 159.85Z" fill="#ffffff" stroke="#ffffff" stroke-width="0" stroke-linejoin="round"/>
<path d="M60.71 285.09 L63.52 281.57 L69.15 279.74 L73.38 280.87 L67.75 283.69 L64.93 288.61 L65.64 296.35 L69.15 306.2 L65.64 306.2 L62.12 297.76 L60.71 290.72Z" fill="#ffffff" stroke="#ffffff" stroke-width="0" stroke-linejoin="round"/>
<ellipse cx="290.92" cy="262.58" rx="1.43" ry="3.4" fill="#d8d8d8"/>
<path d="M150.2 164.07 L154.42 160.55 L160.05 162.66 L167.09 163.37" fill="none" stroke="#d8d8d8" stroke-width="1.83" stroke-linecap="round" stroke-linejoin="round"/>
<path d="M190.31 149.3 L190.31 155.63 L189.6 161.26 L193.12 166.89 L195.23 172.52 L192.42 178.14 L190.31 183.77" fill="none" stroke="#dddddd" stroke-width="2.67" stroke-linecap="round" stroke-linejoin="round"/>
<path d="M264.89 222.47 L281.77 221.06" fill="none" stroke="#d8d8d8" stroke-width="1.83" stroke-linecap="round" stroke-linejoin="round"/>
<path d="M248.7 250.19 L257.15 249.63" fill="none" stroke="#dddddd" stroke-width="2.95" stroke-linecap="round" stroke-linejoin="round"/>
<path d="M213.52 219.66 L217.75 217.26 L223.38 217.55 L226.89 220.36 L229.71 224.58 L234.63 225.99 L243.08 223.88 L252.93 221.77 L264.18 223.18 L264.18 226.69 L257.15 227.4 L248.7 230.91 L243.08 235.84 L240.26 240.06 L234.63 241.47 L231.82 242.88 L233.23 248.5 L235.34 252.73 L231.82 254.84 L227.6 251.32 L224.78 245.69 L223.38 240.06 L219.15 235.84 L216.34 233.03 L217.75 227.4 L216.34 222.47Z" fill="#ffffff" stroke="#ffffff" stroke-width="0" stroke-linejoin="round"/>
<path d="M164.98 249.91 L171.31 247.1 L179.75 246.39 L186.79 243.58 L192.42 241.47 L199.45 239.36 L206.49 237.95 L212.12 235.56 L212.12 240.06 L208.6 243.58 L203.67 243.58 L198.05 245.69 L193.82 249.91 L189.6 251.6 L185.38 248.5 L178.34 249.21 L171.31 250.62 L167.09 252.02Z" fill="#ffffff" stroke="#ffffff" stroke-width="0" stroke-linejoin="round"/>
<path d="M281.77 230.21 L283.89 226.69 L288.81 224.58 L293.74 226.69 L293.03 231.62 L289.51 234.43 L282.48 234.43Z" fill="#ffffff" stroke="#ffffff" stroke-width="0" stroke-linejoin="round"/>
<path d="M259.96 262.58 L264.18 262.58 L268.41 254.13 L269.81 248.5 L271.22 256.95 L274.03 265.39 L278.26 267.5 L281.77 265.39 L281.07 271.02 L277.55 278.06 L275.44 286.5 L273.33 296.35 L274.74 299.16 L272.63 301.98 L268.41 301.28 L269.81 293.54 L270.52 283.69 L269.81 275.24 L265.59 269.61 L261.37 265.39Z" fill="#ffffff" stroke="#ffffff" stroke-width="0" stroke-linejoin="round"/>
<path d="M40.08 127.28 L43.45 132.91 L53.3 133.47 L64.56 134.31 L74.41 135.72 L78.63 139.94 L75.82 143.32 L70.19 142.48 L61.75 141.63 L50.49 141.07 L42.05 138.82 L38.67 134.31Z" fill="#ffffff" stroke="#ffffff" stroke-width="0" stroke-linejoin="round"/>
<path d="M69.63 139.94 L77.79 141.35 L80.32 152.61 L84.54 163.87 L93.27 172.31 L101.71 177.94 L104.53 184.13 L99.74 183.57 L90.73 177.09 L80.88 168.65 L75.26 158.24 L71.88 148.39Z" fill="#ffffff" stroke="#ffffff" stroke-width="0" stroke-linejoin="round"/>
<path d="M76.66 139.94 L81.17 135.72 L85.39 124.46 L88.2 113.21 L91.02 101.95 L92.42 92.94 L95.8 94.91 L97.21 103.36 L100.3 108.98 L96.08 110.67 L93.55 107.58 L91.86 118.83 L89.05 130.09 L83.42 141.91Z" fill="#ffffff" stroke="#ffffff" stroke-width="0" stroke-linejoin="round"/>
</g>
<ellipse cx="57.9" cy="11.26" rx="3.82" ry="1.99" fill="#3b3b3b"/>
<ellipse cx="71.26" cy="16.18" rx="2.27" ry="2.27" fill="#454545"/>
<ellipse cx="118.41" cy="53.47" rx="4.52" ry="2.27" fill="#1d1d1d"/>
<ellipse cx="90.26" cy="93.58" rx="2.27" ry="2.83" fill="#313131"/>
<ellipse cx="69.86" cy="132.98" rx="1.71" ry="1.71" fill="#454545"/>
<ellipse cx="217.04" cy="6.33" rx="3.11" ry="3.11" fill="#454545"/>
<path d="M195.23 21.11 L193.82 29.55 L199.45 30.26" fill="none" stroke="#4e4e4e" stroke-width="2.39" stroke-linecap="round" stroke-linejoin="round"/>
<ellipse cx="210.71" cy="30.26" rx="1.71" ry="1.71" fill="#4e4e4e"/>
<path d="M150.2 55.58 L160.05 56.99 L169.9 56.29" fill="none" stroke="#4a4a4a" stroke-width="2.11" stroke-linecap="round" stroke-linejoin="round"/>
<ellipse cx="290.22" cy="48.55" rx="1.99" ry="1.99" fill="#4e4e4e"/>
<ellipse cx="300.77" cy="73.88" rx="1.99" ry="1.99" fill="#3b3b3b"/>
<ellipse cx="286.7" cy="88.65" rx="3.11" ry="1.71" fill="#4e4e4e"/>
<path d="M205.78 136.78 L217.04 136.78" fill="none" stroke="#454545" stroke-width="1.83" stroke-linecap="round" stroke-linejoin="round"/>
<ellipse cx="246.59" cy="6.33" rx="2.27" ry="3.4" fill="#313131"/>
<ellipse cx="98.7" cy="190.11" rx="5.23" ry="2.83" fill="#454545"/>
<ellipse cx="64.23" cy="178.85" rx="1.99" ry="1.99" fill="#4e4e4e"/>
<ellipse cx="111.37" cy="216.14" rx="1.99" ry="1.99" fill="#272727"/>
<ellipse cx="124.74" cy="240.06" rx="2.27" ry="2.83" fill="#222222"/>
<ellipse cx="145.85" cy="163.37" rx="1.99" ry="1.99" fill="#454545"/>
<path d="M33.97 258.36 L39.6 256.95" fill="none" stroke="#4e4e4e" stroke-width="2.67" stroke-linecap="round" stroke-linejoin="round"/>
<path d="M56.49 278.06 L59.3 285.09" fill="none" stroke="#4a4a4a" stroke-width="2.67" stroke-linecap="round" stroke-linejoin="round"/>
<path d="M146.55 248.5 L154.99 246.39 L160.2 245.69" fill="none" stroke="#4a4a4a" stroke-width="2.11" stroke-linecap="round" stroke-linejoin="round"/>
<ellipse cx="134.59" cy="175.05" rx="1.43" ry="1.43" fill="#313131"/>
<path d="M186.08 162.66 L189.6 171.11" fill="none" stroke="#454545" stroke-width="2.11" stroke-linecap="round" stroke-linejoin="round"/>
<ellipse cx="228.3" cy="294.24" rx="1.99" ry="1.99" fill="#272727"/>
<ellipse cx="304.29" cy="279.46" rx="1.43" ry="3.82" fill="#454545"/>
<ellipse cx="171.31" cy="254.84" rx="1.71" ry="1.71" fill="#4e4e4e"/>
<ellipse cx="285.29" cy="223.18" rx="1.43" ry="1.43" fill="#4e4e4e"/>
<path d="M153.01 247.1 L158.64 246.39" fill="none" stroke="#4e4e4e" stroke-width="2.11" stroke-linecap="round" stroke-linejoin="round"/>
<path d="M296.55 224.58 L304.99 222.47" fill="none" stroke="#4e4e4e" stroke-width="1.83" stroke-linecap="round" stroke-linejoin="round"/>
<path d="M271.22 231.62 L265.59 235.84" fill="none" stroke="#4e4e4e" stroke-width="2.11" stroke-linecap="round" stroke-linejoin="round"/>
<path d="M247.3 258.36 L243.08 265.39 L247.3 269.61" fill="none" stroke="#4e4e4e" stroke-width="2.11" stroke-linecap="round" stroke-linejoin="round"/>
<ellipse cx="194.53" cy="185.18" rx="2.83" ry="3.82" fill="#222222"/>
<path d="M254.33 219.66 L262.78 218.95" fill="none" stroke="#2c2c2c" stroke-width="2.39" stroke-linecap="round" stroke-linejoin="round"/>
<ellipse cx="293.74" cy="235.84" rx="1.71" ry="1.71" fill="#2c2c2c"/>
</g></g>
<g transform="translate(404 735)" clip-path="url(#cp21)">
<g filter="url(#f21)">
<rect x="-10" y="-10" width="326.5" height="326.4" fill="#808080"/>
<ellipse cx="145.98" cy="189.2" rx="11.56" ry="14.37" fill="#9d9d9d"/>
<ellipse cx="216.34" cy="73.8" rx="10.15" ry="14.37" fill="#989898"/>
<ellipse cx="227.6" cy="179.34" rx="11.56" ry="5.93" fill="#acacac"/>
<ellipse cx="8.07" cy="201.86" rx="7.34" ry="5.93" fill="#a2a2a2"/>
<ellipse cx="36.22" cy="290.51" rx="7.34" ry="4.52" fill="#b1b1b1"/>
<ellipse cx="64.36" cy="266.59" rx="8.74" ry="5.93" fill="#9d9d9d"/>
<ellipse cx="174.12" cy="268" rx="4.52" ry="7.34" fill="#a2a2a2"/>
<ellipse cx="143.16" cy="228.6" rx="5.93" ry="4.24" fill="#9d9d9d"/>
<ellipse cx="92.5" cy="234.23" rx="4.52" ry="7.34" fill="#989898"/>
<ellipse cx="19.33" cy="101.95" rx="8.74" ry="5.93" fill="#939393"/>
<ellipse cx="157.24" cy="127.28" rx="5.93" ry="4.24" fill="#9d9d9d"/>
<ellipse cx="10.89" cy="279.26" rx="14.37" ry="8.74" fill="#939393"/>
<ellipse cx="140.35" cy="82.25" rx="4.24" ry="8.74" fill="#939393"/>
<ellipse cx="238.85" cy="262.37" rx="5.93" ry="3.11" fill="#9d9d9d"/>
<ellipse cx="134.72" cy="293.33" rx="8.74" ry="4.24" fill="#9d9d9d"/>
<ellipse cx="157.24" cy="96.32" rx="7.34" ry="11.56" fill="#6c6c6c"/>
<ellipse cx="230.41" cy="276.44" rx="8.74" ry="7.34" fill="#5d5d5d"/>
<ellipse cx="47.47" cy="85.06" rx="7.34" ry="3.68" fill="#626262"/>
<ellipse cx="39.03" cy="31.59" rx="5.93" ry="11.56" fill="#717171"/>
<ellipse cx="50.29" cy="217.34" rx="11.56" ry="11.56" fill="#717171"/>
<ellipse cx="213.53" cy="6.26" rx="3.68" ry="3.68" fill="#626262"/>
<ellipse cx="281.07" cy="17.52" rx="4.24" ry="4.24" fill="#626262"/>
<ellipse cx="275.44" cy="161.05" rx="22.82" ry="4.24" fill="#717171"/>
<path d="M71.97 1.61 L76.89 7.24 L81.11 12.16" fill="none" stroke="#b1b1b1" stroke-width="2.67" stroke-linecap="round" stroke-linejoin="round"/>
<path d="M75.49 31.87 L74.78 44.53 L79 50.16" fill="none" stroke="#9d9d9d" stroke-width="2.39" stroke-linecap="round" stroke-linejoin="round"/>
<ellipse cx="93.08" cy="16.39" rx="1.99" ry="1.99" fill="#a2a2a2"/>
<ellipse cx="101.52" cy="18.5" rx="1.71" ry="1.71" fill="#989898"/>
<path d="M81.11 33.27 L84.63 45.94 L95.89 53.68 L107.15 54.38 L114.18 45.94" fill="none" stroke="#696969" stroke-width="2.39" stroke-linecap="round" stroke-linejoin="round"/>
<path d="M90.26 27.64 L104.33 30.46 L111.37 40.31" fill="none" stroke="#6e6e6e" stroke-width="2.11" stroke-linecap="round" stroke-linejoin="round"/>
<path d="M97.3 55.08 L104.33 51.57 L107.15 47.35" fill="none" stroke="#9d9d9d" stroke-width="2.11" stroke-linecap="round" stroke-linejoin="round"/>
<path d="M119.81 61.42 L123.33 72.68" fill="none" stroke="#656565" stroke-width="2.11" stroke-linecap="round" stroke-linejoin="round"/>
<path d="M117 47.35 L133.89 48.05 L160.2 52.97" fill="none" stroke="#989898" stroke-width="1.83" stroke-linecap="round" stroke-linejoin="round"/>
<path d="M140.92 47.35 L160.2 50.16" fill="none" stroke="#6e6e6e" stroke-width="1.83" stroke-linecap="round" stroke-linejoin="round"/>
<path d="M95.19 71.27 L95.89 83.93 L93.78 90.97" fill="none" stroke="#a7a7a7" stroke-width="2.67" stroke-linecap="round" stroke-linejoin="round"/>
<ellipse cx="78.3" cy="68.45" rx="1.99" ry="1.99" fill="#a7a7a7"/>
<path d="M79 88.15 L81.82 95.19" fill="none" stroke="#9d9d9d" stroke-width="2.39" stroke-linecap="round" stroke-linejoin="round"/>
<path d="M132.48 71.27 L126.85 81.12 L124.03 90.97 L118.41 96.6" fill="none" stroke="#9d9d9d" stroke-width="2.11" stroke-linecap="round" stroke-linejoin="round"/>
<ellipse cx="117" cy="83.93" rx="1.71" ry="1.71" fill="#656565"/>
<path d="M2.31 55.08 L5.83 62.82 L12.86 68.45 L28.34 67.75" fill="none" stroke="#5c5c5c" stroke-width="2.11" stroke-linecap="round" stroke-linejoin="round"/>
<path d="M30.46 71.27 L42.42 62.82 L59.3 55.79 L73.38 51.57" fill="none" stroke="#9d9d9d" stroke-width="2.11" stroke-linecap="round" stroke-linejoin="round"/>
<path d="M30.46 71.27 L29.75 75.49" fill="none" stroke="#9d9d9d" stroke-width="2.11" stroke-linecap="round" stroke-linejoin="round"/>
<ellipse cx="37.49" cy="77.6" rx="1.43" ry="1.99" fill="#9d9d9d"/>
<path d="M48.75 103.63 L57.9 106.45" fill="none" stroke="#5c5c5c" stroke-width="3.23" stroke-linecap="round" stroke-linejoin="round"/>
<ellipse cx="42.42" cy="83.93" rx="3.82" ry="4.52" fill="#727272"/>
<ellipse cx="36.08" cy="105.04" rx="1.71" ry="1.71" fill="#9d9d9d"/>
<path d="M48.05 112.08 L51.56 123.33" fill="none" stroke="#a2a2a2" stroke-width="2.11" stroke-linecap="round" stroke-linejoin="round"/>
<path d="M83.93 107.86 L74.78 117.71 L69.15 126.15" fill="none" stroke="#989898" stroke-width="1.83" stroke-linecap="round" stroke-linejoin="round"/>
<path d="M112.78 112.08 L121.22 119.11" fill="none" stroke="#9d9d9d" stroke-width="1.83" stroke-linecap="round" stroke-linejoin="round"/>
<path d="M149.36 119.11 L160.2 120.52" fill="none" stroke="#6e6e6e" stroke-width="2.11" stroke-linecap="round" stroke-linejoin="round"/>
<ellipse cx="57.9" cy="154.29" rx="1.43" ry="1.99" fill="#5c5c5c"/>
<path d="M40.31 138.81 L31.16 142.33 L26.23 146.55 L19.9 150.07 L11.46 152.18 L3.01 155" fill="none" stroke="#a7a7a7" stroke-width="4.64" stroke-linecap="round" stroke-linejoin="round"/>
<ellipse cx="217.75" cy="78.3" rx="11.56" ry="14.37" fill="#878787"/>
<path d="M206.49 12.87 L213.52 6.54 L221.97 8.65" fill="none" stroke="#5c5c5c" stroke-width="2.67" stroke-linecap="round" stroke-linejoin="round"/>
<path d="M179.05 7.94 L179.05 22.02" fill="none" stroke="#656565" stroke-width="2.11" stroke-linecap="round" stroke-linejoin="round"/>
<path d="M234.63 6.54 L240.26 10.05" fill="none" stroke="#696969" stroke-width="2.39" stroke-linecap="round" stroke-linejoin="round"/>
<ellipse cx="267" cy="17.79" rx="2.27" ry="2.27" fill="#6e6e6e"/>
<ellipse cx="281.77" cy="24.83" rx="1.71" ry="1.71" fill="#b1b1b1"/>
<path d="M271.92 5.83 L290.22 4.43" fill="none" stroke="#9d9d9d" stroke-width="1.83" stroke-linecap="round" stroke-linejoin="round"/>
<path d="M150.2 52.97 L167.09 54.38 L181.16 52.97" fill="none" stroke="#9d9d9d" stroke-width="1.83" stroke-linecap="round" stroke-linejoin="round"/>
<path d="M150.2 49.46 L158.64 50.86" fill="none" stroke="#6e6e6e" stroke-width="1.83" stroke-linecap="round" stroke-linejoin="round"/>
<ellipse cx="196.64" cy="33.27" rx="3.82" ry="1.71" fill="#696969"/>
<ellipse cx="190.31" cy="60.01" rx="2.27" ry="2.27" fill="#696969"/>
<ellipse cx="245.89" cy="61.42" rx="2.27" ry="2.83" fill="#656565"/>
<path d="M185.38 81.12 L189.6 75.49" fill="none" stroke="#616161" stroke-width="2.11" stroke-linecap="round" stroke-linejoin="round"/>
<ellipse cx="193.12" cy="104.34" rx="1.71" ry="2.27" fill="#535353"/>
<ellipse cx="288.11" cy="82.53" rx="3.82" ry="5.23" fill="#656565"/>
<ellipse cx="289.51" cy="68.45" rx="3.82" ry="2.27" fill="#6e6e6e"/>
<path d="M259.96 74.08 L262.78 100.82" fill="none" stroke="#727272" stroke-width="2.67" stroke-linecap="round" stroke-linejoin="round"/>
<path d="M172.72 90.97 L173.42 100.82" fill="none" stroke="#6e6e6e" stroke-width="1.83" stroke-linecap="round" stroke-linejoin="round"/>
<ellipse cx="218.73" cy="54.1" rx="1.43" ry="1.71" fill="#b1b1b1"/>
<ellipse cx="271.92" cy="44.53" rx="2.27" ry="2.27" fill="#9d9d9d"/>
<ellipse cx="256.44" cy="65.64" rx="1.99" ry="1.99" fill="#989898"/>
<ellipse cx="179.05" cy="79.71" rx="1.43" ry="2.27" fill="#9d9d9d"/>
<ellipse cx="179.05" cy="96.6" rx="1.43" ry="2.27" fill="#9d9d9d"/>
<ellipse cx="168.49" cy="93.78" rx="1.43" ry="1.99" fill="#989898"/>
<ellipse cx="168.49" cy="9.35" rx="1.43" ry="1.71" fill="#9d9d9d"/>
<path d="M249.41 74.08 L248.99 82.53" fill="none" stroke="#a7a7a7" stroke-width="1.83" stroke-linecap="round" stroke-linejoin="round"/>
<path d="M258.56 83.93 L259.26 90.97" fill="none" stroke="#9d9d9d" stroke-width="1.83" stroke-linecap="round" stroke-linejoin="round"/>
<path d="M247.3 112.08 L240.26 115.59 L229 121.93 L214.93 126.85 L191.01 129.67" fill="none" stroke="#bababa" stroke-width="2.39" stroke-linecap="round" stroke-linejoin="round"/>
<path d="M255.74 111.37 L271.22 126.15 L288.11 138.81 L305.7 150.78" fill="none" stroke="#b1b1b1" stroke-width="1.97" stroke-linecap="round" stroke-linejoin="round"/>
<ellipse cx="193.12" cy="55.79" rx="1.71" ry="1.71" fill="#a7a7a7"/>
<ellipse cx="206.49" cy="33.27" rx="3.68" ry="3.4" fill="#a7a7a7"/>
<ellipse cx="211.41" cy="35.38" rx="1.43" ry="1.43" fill="#c4c4c4"/>
<ellipse cx="93.08" cy="239.56" rx="4.52" ry="7.34" fill="#8e8e8e"/>
<ellipse cx="73.38" cy="240.97" rx="3.11" ry="4.52" fill="#8e8e8e"/>
<ellipse cx="146.55" cy="229.71" rx="5.93" ry="3.82" fill="#8e8e8e"/>
<ellipse cx="62.12" cy="267.71" rx="7.34" ry="3.82" fill="#8b8b8b"/>
<ellipse cx="36.79" cy="290.22" rx="5.93" ry="4.52" fill="#939393"/>
<ellipse cx="24.12" cy="276.15" rx="4.52" ry="3.11" fill="#8b8b8b"/>
<ellipse cx="7.24" cy="204.38" rx="5.93" ry="3.82" fill="#898989"/>
<ellipse cx="147.96" cy="188.9" rx="8.74" ry="8.74" fill="#878787"/>
<path d="M97.3 188.2 L109.96 187.49 L121.22 187.49" fill="none" stroke="#535353" stroke-width="2.39" stroke-linecap="round" stroke-linejoin="round"/>
<path d="M127.55 191.72 L126.15 205.79 L126.85 217.05" fill="none" stroke="#656565" stroke-width="2.11" stroke-linecap="round" stroke-linejoin="round"/>
<ellipse cx="78.3" cy="201.57" rx="2.55" ry="2.55" fill="#616161"/>
<ellipse cx="109.96" cy="214.23" rx="2.27" ry="4.52" fill="#656565"/>
<path d="M132.48 233.93 L143.74 239.56 L153.59 243.78 L160.2 242.38" fill="none" stroke="#535353" stroke-width="2.11" stroke-linecap="round" stroke-linejoin="round"/>
<path d="M107.15 238.15 L104.33 248 L100.11 253.63" fill="none" stroke="#616161" stroke-width="2.11" stroke-linecap="round" stroke-linejoin="round"/>
<ellipse cx="4.42" cy="227.6" rx="4.52" ry="1.99" fill="#585858"/>
<path d="M26.94 228.3 L31.16 225.21" fill="none" stroke="#535353" stroke-width="2.39" stroke-linecap="round" stroke-linejoin="round"/>
<path d="M53.67 252.93 L62.12 253.63" fill="none" stroke="#616161" stroke-width="1.83" stroke-linecap="round" stroke-linejoin="round"/>
<ellipse cx="50.86" cy="277.56" rx="5.93" ry="3.11" fill="#656565"/>
<ellipse cx="158.51" cy="285.3" rx="1.99" ry="2.27" fill="#5c5c5c"/>
<path d="M5.83 233.93 L17.09 245.19" fill="none" stroke="#6e6e6e" stroke-width="2.11" stroke-linecap="round" stroke-linejoin="round"/>
<path d="M57.9 153.72 L59.3 166.39" fill="none" stroke="#6e6e6e" stroke-width="2.11" stroke-linecap="round" stroke-linejoin="round"/>
<ellipse cx="131.07" cy="231.12" rx="1.71" ry="1.99" fill="#cecece"/>
<ellipse cx="120.52" cy="227.6" rx="1.71" ry="1.71" fill="#b1b1b1"/>
<ellipse cx="33.97" cy="218.45" rx="1.71" ry="1.71" fill="#b1b1b1"/>
<path d="M107.15 253.63 L101.52 259.26 L95.89 262.08 L90.26 266.3" fill="none" stroke="#b1b1b1" stroke-width="2.11" stroke-linecap="round" stroke-linejoin="round"/>
<ellipse cx="89.56" cy="268.41" rx="2.27" ry="2.27" fill="#bfbfbf"/>
<path d="M19.2 236.75 L25.53 248 L33.97 259.26 L41.71 271.93" fill="none" stroke="#9d9d9d" stroke-width="1.83" stroke-linecap="round" stroke-linejoin="round"/>
<ellipse cx="42.42" cy="273.33" rx="1.43" ry="1.43" fill="#b1b1b1"/>
<path d="M15.68 302.89 L22.72 295.85" fill="none" stroke="#a7a7a7" stroke-width="1.83" stroke-linecap="round" stroke-linejoin="round"/>
<ellipse cx="100.11" cy="210.01" rx="1.43" ry="1.99" fill="#9d9d9d"/>
<ellipse cx="71.26" cy="183.98" rx="3.82" ry="1.71" fill="#b1b1b1"/>
<path d="M12.86 152.31 L24.12 149.5" fill="none" stroke="#bababa" stroke-width="2.11" stroke-linecap="round" stroke-linejoin="round"/>
<path d="M36.79 150.91 L42.42 160.76 L49.45 173.42 L56.49 183.27 L60.71 188.2" fill="none" stroke="#c9c9c9" stroke-width="2.11" stroke-linecap="round" stroke-linejoin="round"/>
<path d="M102.22 181.16 L112.78 183.98 L124.03 181.16 L129.66 176.94" fill="none" stroke="#b1b1b1" stroke-width="2.39" stroke-linecap="round" stroke-linejoin="round"/>
<ellipse cx="158.64" cy="191.72" rx="12.96" ry="28.44" fill="#868686"/>
<ellipse cx="229" cy="183.27" rx="11.56" ry="5.93" fill="#8b8b8b"/>
<ellipse cx="174.12" cy="266.3" rx="5.93" ry="3.11" fill="#8e8e8e"/>
<path d="M161.46 161.46 L172.72 160.05" fill="none" stroke="#656565" stroke-width="2.11" stroke-linecap="round" stroke-linejoin="round"/>
<ellipse cx="259.96" cy="191.72" rx="1.71" ry="2.27" fill="#656565"/>
<ellipse cx="234.63" cy="263.48" rx="4.52" ry="2.27" fill="#616161"/>
<ellipse cx="230.41" cy="276.15" rx="4.52" ry="3.4" fill="#656565"/>
<path d="M285.29 271.93 L289.51 277.56" fill="none" stroke="#656565" stroke-width="2.39" stroke-linecap="round" stroke-linejoin="round"/>
<path d="M151.61 242.38 L158.64 243.08" fill="none" stroke="#5c5c5c" stroke-width="2.39" stroke-linecap="round" stroke-linejoin="round"/>
<ellipse cx="295.14" cy="233.93" rx="1.71" ry="1.71" fill="#5c5c5c"/>
<ellipse cx="165.68" cy="249.41" rx="1.99" ry="1.99" fill="#696969"/>
<ellipse cx="158.64" cy="284.59" rx="1.71" ry="2.27" fill="#696969"/>
<ellipse cx="217.75" cy="205.79" rx="4.52" ry="2.27" fill="#6e6e6e"/>
<ellipse cx="212.82" cy="176.24" rx="2.27" ry="1.99" fill="#b1b1b1"/>
<ellipse cx="233.23" cy="257.86" rx="3.11" ry="3.11" fill="#a2a2a2"/>
<path d="M196.64 289.52 L207.9 289.94" fill="none" stroke="#b1b1b1" stroke-width="2.39" stroke-linecap="round" stroke-linejoin="round"/>
<ellipse cx="293.74" cy="205.79" rx="1.71" ry="4.52" fill="#9d9d9d"/>
<ellipse cx="285.29" cy="208.6" rx="1.71" ry="3.11" fill="#939393"/>
<ellipse cx="267" cy="213.53" rx="1.43" ry="1.43" fill="#a7a7a7"/>
<ellipse cx="200.16" cy="199.46" rx="1.71" ry="1.99" fill="#9d9d9d"/>
<ellipse cx="223.38" cy="202.27" rx="1.14" ry="1.43" fill="#a7a7a7"/>
<path d="M195.23 267.71 L197.34 280.37 L198.05 287.41" fill="none" stroke="#a7a7a7" stroke-width="1.83" stroke-linecap="round" stroke-linejoin="round"/>
<path d="M195.23 202.97 L199.45 208.6" fill="none" stroke="#a7a7a7" stroke-width="2.11" stroke-linecap="round" stroke-linejoin="round"/>
<path d="M150.2 168.5 L155.83 164.98 L164.27 163.57 L175.53 163.57 L185.38 161.46" fill="none" stroke="#cecece" stroke-width="2.39" stroke-linecap="round" stroke-linejoin="round"/>
<path d="M269.81 233.93 L267.7 245.19 L267.7 256.45 L269.81 260.67" fill="none" stroke="#bababa" stroke-width="2.39" stroke-linecap="round" stroke-linejoin="round"/>
<path d="M277.55 233.93 L274.03 240.97" fill="none" stroke="#a7a7a7" stroke-width="2.11" stroke-linecap="round" stroke-linejoin="round"/>
<path d="M283.89 225.49 L281.07 221.97" fill="none" stroke="#b1b1b1" stroke-width="2.39" stroke-linecap="round" stroke-linejoin="round"/>
<g filter="url(#hsoft)">
<path d="M40.31 138.81 L31.16 142.33 L26.23 146.55 L19.9 150.07 L11.46 152.18 L3.01 155" fill="none" stroke="#b1b1b1" stroke-width="5.27" stroke-linecap="round" stroke-linejoin="round"/>
<ellipse cx="8.64" cy="155.98" rx="3.83" ry="3.55" fill="#b1b1b1"/>
<path d="M38.19 140.22 L38.19 148.66 L40.31 159.5" fill="none" stroke="#b1b1b1" stroke-width="4.71" stroke-linecap="round" stroke-linejoin="round"/>
<path d="M76.19 17.79 L79.71 14.98 L81.82 17.79 L81.54 26.24 L78.3 29.76 L75.49 25.53Z" fill="#b1b1b1" stroke="#b1b1b1" stroke-width="2.6" stroke-linejoin="round"/>
<path d="M81.82 52.97 L84.63 52.69 L90.26 58.6 L94.48 60.71 L101.52 59.31 L108.56 56.49 L112.78 55.79 L112.78 57.9 L104.33 61.42 L97.3 64.23 L94.48 69.86 L92.37 71.27 L90.26 67.05 L88.15 60.71 L83.93 55.79Z" fill="#b1b1b1" stroke="#b1b1b1" stroke-width="2.6" stroke-linejoin="round"/>
<path d="M92.37 93.08 L94.48 95.19 L98.7 106.45 L101.52 109.26 L111.37 112.08 L101.52 111.37 L97.3 108.56 L93.08 105.74 L91.67 116.3 L88.85 128.96 L84.63 141.63 L82.52 148.66 L84.63 159.5 L72.67 159.5 L71.26 148.66 L67.75 141.63 L60.71 137.41 L57.9 138.81 L57.9 144.44 L53.67 144.44 L48.05 141.63 L41.01 136 L40.31 128.96 L43.12 129.67 L46.64 132.48 L55.08 131.78 L62.12 133.19 L69.15 136.7 L74.78 141.63 L79.71 144.44 L83.23 130.37 L87.45 116.3 L90.26 103.63Z" fill="#b1b1b1" stroke="#b1b1b1" stroke-width="2.6" stroke-linejoin="round"/>
<path d="M247.3 112.08 L243.78 113.77" fill="none" stroke="#b1b1b1" stroke-width="4.99" stroke-linecap="round" stroke-linejoin="round"/>
<path d="M243.78 7.24 L248.7 10.76 L253.63 12.16" fill="none" stroke="#b1b1b1" stroke-width="5.55" stroke-linecap="round" stroke-linejoin="round"/>
<path d="M290.22 5.13 L295.14 7.24 L299.36 11.46 L302.88 13.57" fill="none" stroke="#b1b1b1" stroke-width="5.27" stroke-linecap="round" stroke-linejoin="round"/>
<path d="M254.33 10.05 L258.56 4.43 L264.18 0.63 L270.52 0.63 L271.22 5.83 L265.59 8.65 L259.96 10.76 L256.44 12.87Z" fill="#b1b1b1" stroke="#b1b1b1" stroke-width="2.6" stroke-linejoin="round"/>
<path d="M186.51 36.79 L184.68 44.53 L186.08 50.16" fill="none" stroke="#b1b1b1" stroke-width="5.83" stroke-linecap="round" stroke-linejoin="round"/>
<path d="M181.86 53.68 L188.19 54.38 L192.42 50.86" fill="none" stroke="#b1b1b1" stroke-width="5.27" stroke-linecap="round" stroke-linejoin="round"/>
<ellipse cx="205.78" cy="32.57" rx="2.99" ry="3.55" fill="#b1b1b1"/>
<path d="M248.42 82.53 L250.39 83.93 L251.52 95.19 L253.63 105.04 L255.04 109.97 L250.82 110.67 L246.59 107.15 L245.89 104.34 L248.42 100.82 L248 90.97Z" fill="#b1b1b1" stroke="#b1b1b1" stroke-width="2.6" stroke-linejoin="round"/>
<path d="M175.53 135.3 L179.05 131.78 L186.79 130.37 L188.9 126.15 L191.01 126.85 L190.31 131.78 L188.19 136.7 L183.97 138.81 L188.19 143.04 L190.31 151.48 L191.71 159.5 L185.38 159.5 L183.97 150.07 L180.46 141.63 L176.23 138.81Z" fill="#b1b1b1" stroke="#b1b1b1" stroke-width="2.6" stroke-linejoin="round"/>
<path d="M117 202.97 L120.52 211.42" fill="none" stroke="#b1b1b1" stroke-width="4.71" stroke-linecap="round" stroke-linejoin="round"/>
<ellipse cx="130.37" cy="175.53" rx="3.83" ry="4.11" fill="#b1b1b1"/>
<path d="M132.48 172.02 L140.92 169.9 L149.36 169.2 L154.99 165.68 L160.2 163.57" fill="none" stroke="#b1b1b1" stroke-width="4.99" stroke-linecap="round" stroke-linejoin="round"/>
<path d="M3.01 155.13 L10.05 153.72 L12.16 157.24 L9.35 161.46 L6.53 159.35Z" fill="#b1b1b1" stroke="#b1b1b1" stroke-width="2.6" stroke-linejoin="round"/>
<path d="M71.26 148.09 L81.82 148.09 L84.63 159.35 L90.26 166.39 L97.3 173.42 L102.22 179.76 L99.41 181.16 L94.48 176.24 L87.45 167.79 L81.11 163.57 L76.89 159.35 L73.38 153.72Z" fill="#b1b1b1" stroke="#b1b1b1" stroke-width="2.6" stroke-linejoin="round"/>
<path d="M61.41 284.59 L66.34 283.19 L70.56 284.59 L76.89 288.11 L73.38 289.52 L67.75 288.11 L65.64 291.63 L67.75 298.66 L70.56 306.4 L67.75 306.4 L63.52 297.26 L60.71 290.22Z" fill="#b1b1b1" stroke="#b1b1b1" stroke-width="2.6" stroke-linejoin="round"/>
<path d="M188.19 148.8 L188.9 157.94 L190.31 166.39 L191.71 174.83 L190.31 183.27" fill="none" stroke="#b1b1b1" stroke-width="6.11" stroke-linecap="round" stroke-linejoin="round"/>
<path d="M191.01 191.72 L193.12 201.57" fill="none" stroke="#b1b1b1" stroke-width="4.99" stroke-linecap="round" stroke-linejoin="round"/>
<path d="M190.31 252.23 L192.42 260.67 L195.23 267.71" fill="none" stroke="#b1b1b1" stroke-width="4.71" stroke-linecap="round" stroke-linejoin="round"/>
<path d="M231.82 248 L240.26 249.41 L248.7 250.12 L254.33 249.69" fill="none" stroke="#b1b1b1" stroke-width="5.27" stroke-linecap="round" stroke-linejoin="round"/>
<path d="M208.6 220.56 L212.12 217.75 L220.56 216.76 L226.19 218.45 L231.82 223.38 L238.85 224.08 L247.3 221.97 L257.15 220.56 L267 218.88 L276.85 218.45 L281.77 219.86 L280.37 221.97 L272.63 221.97 L262.78 224.79 L254.33 228.3 L248.7 232.53 L243.08 236.75 L240.26 242.38 L237.45 243.78 L233.23 245.19 L231.82 249.41 L228.3 251.1 L225.49 246.6 L222.67 239.56 L217.75 235.34 L215.64 232.53 L217.75 226.9 L213.52 222.68Z" fill="#b1b1b1" stroke="#b1b1b1" stroke-width="2.6" stroke-linejoin="round"/>
<path d="M163.57 243.08 L168.49 244.06 L175.53 245.19 L183.97 244.49 L190.31 240.97 L198.05 238.15 L206.49 236.75 L212.12 235.34 L212.12 242.38 L210.01 245.19 L206.49 240.97 L199.45 242.38 L195.23 246.6 L192.42 250.82 L188.19 252.23 L184.68 249.41 L178.34 248.71 L171.31 246.6 L164.98 245.89Z" fill="#b1b1b1" stroke="#b1b1b1" stroke-width="2.6" stroke-linejoin="round"/>
<path d="M253.63 248 L257.15 248.71 L259.26 253.63 L262.78 259.26 L269.81 260.67 L274.03 264.89 L279.66 266.3 L283.18 262.78 L284.59 264.89 L281.77 271.93 L278.96 278.96 L276.15 290.22 L274.03 298.66 L272.63 307.11 L267.7 307.11 L271.22 297.26 L271.92 287.41 L271.92 276.15 L268.41 269.11 L262.78 264.89 L258.56 259.26 L255.04 253.63Z" fill="#b1b1b1" stroke="#b1b1b1" stroke-width="2.6" stroke-linejoin="round"/>
<path d="M278.96 233.23 L283.18 228.3 L288.81 226.19 L296.55 228.3 L295.14 231.82 L289.51 235.34 L282.48 236.75Z" fill="#b1b1b1" stroke="#b1b1b1" stroke-width="2.6" stroke-linejoin="round"/>
</g>
<g filter="url(#er05)">
<path d="M40.31 138.81 L31.16 142.33 L26.23 146.55 L19.9 150.07 L11.46 152.18 L3.01 155" fill="none" stroke="#dddddd" stroke-width="2.67" stroke-linecap="round" stroke-linejoin="round"/>
<ellipse cx="8.64" cy="155.98" rx="2.83" ry="2.55" fill="#ffffff"/>
<path d="M38.19 140.22 L38.19 148.66 L40.31 159.5" fill="none" stroke="#d8d8d8" stroke-width="2.11" stroke-linecap="round" stroke-linejoin="round"/>
<path d="M76.19 17.79 L79.71 14.98 L81.82 17.79 L81.54 26.24 L78.3 29.76 L75.49 25.53Z" fill="#ffffff" stroke="#ffffff" stroke-width="0" stroke-linejoin="round"/>
<path d="M81.82 52.97 L84.63 52.69 L90.26 58.6 L94.48 60.71 L101.52 59.31 L108.56 56.49 L112.78 55.79 L112.78 57.9 L104.33 61.42 L97.3 64.23 L94.48 69.86 L92.37 71.27 L90.26 67.05 L88.15 60.71 L83.93 55.79Z" fill="#ffffff" stroke="#ffffff" stroke-width="0" stroke-linejoin="round"/>
<path d="M92.37 93.08 L94.48 95.19 L98.7 106.45 L101.52 109.26 L111.37 112.08 L101.52 111.37 L97.3 108.56 L93.08 105.74 L91.67 116.3 L88.85 128.96 L84.63 141.63 L82.52 148.66 L84.63 159.5 L72.67 159.5 L71.26 148.66 L67.75 141.63 L60.71 137.41 L57.9 138.81 L57.9 144.44 L53.67 144.44 L48.05 141.63 L41.01 136 L40.31 128.96 L43.12 129.67 L46.64 132.48 L55.08 131.78 L62.12 133.19 L69.15 136.7 L74.78 141.63 L79.71 144.44 L83.23 130.37 L87.45 116.3 L90.26 103.63Z" fill="#ffffff" stroke="#ffffff" stroke-width="0" stroke-linejoin="round"/>
<path d="M247.3 112.08 L243.78 113.77" fill="none" stroke="#d3d3d3" stroke-width="2.39" stroke-linecap="round" stroke-linejoin="round"/>
<path d="M243.78 7.24 L248.7 10.76 L253.63 12.16" fill="none" stroke="#d8d8d8" stroke-width="2.95" stroke-linecap="round" stroke-linejoin="round"/>
<path d="M290.22 5.13 L295.14 7.24 L299.36 11.46 L302.88 13.57" fill="none" stroke="#d8d8d8" stroke-width="2.67" stroke-linecap="round" stroke-linejoin="round"/>
<path d="M254.33 10.05 L258.56 4.43 L264.18 0.63 L270.52 0.63 L271.22 5.83 L265.59 8.65 L259.96 10.76 L256.44 12.87Z" fill="#ffffff" stroke="#ffffff" stroke-width="0" stroke-linejoin="round"/>
<path d="M186.51 36.79 L184.68 44.53 L186.08 50.16" fill="none" stroke="#ffffff" stroke-width="3.23" stroke-linecap="round" stroke-linejoin="round"/>
<path d="M181.86 53.68 L188.19 54.38 L192.42 50.86" fill="none" stroke="#dddddd" stroke-width="2.67" stroke-linecap="round" stroke-linejoin="round"/>
<ellipse cx="205.78" cy="32.57" rx="1.99" ry="2.55" fill="#d8d8d8"/>
<path d="M248.42 82.53 L250.39 83.93 L251.52 95.19 L253.63 105.04 L255.04 109.97 L250.82 110.67 L246.59 107.15 L245.89 104.34 L248.42 100.82 L248 90.97Z" fill="#ffffff" stroke="#ffffff" stroke-width="0" stroke-linejoin="round"/>
<path d="M175.53 135.3 L179.05 131.78 L186.79 130.37 L188.9 126.15 L191.01 126.85 L190.31 131.78 L188.19 136.7 L183.97 138.81 L188.19 143.04 L190.31 151.48 L191.71 159.5 L185.38 159.5 L183.97 150.07 L180.46 141.63 L176.23 138.81Z" fill="#ffffff" stroke="#ffffff" stroke-width="0" stroke-linejoin="round"/>
<path d="M117 202.97 L120.52 211.42" fill="none" stroke="#d8d8d8" stroke-width="2.11" stroke-linecap="round" stroke-linejoin="round"/>
<ellipse cx="130.37" cy="175.53" rx="2.83" ry="3.11" fill="#ffffff"/>
<path d="M132.48 172.02 L140.92 169.9 L149.36 169.2 L154.99 165.68 L160.2 163.57" fill="none" stroke="#d3d3d3" stroke-width="2.39" stroke-linecap="round" stroke-linejoin="round"/>
<path d="M3.01 155.13 L10.05 153.72 L12.16 157.24 L9.35 161.46 L6.53 159.35Z" fill="#ffffff" stroke="#ffffff" stroke-width="0" stroke-linejoin="round"/>
<path d="M71.26 148.09 L81.82 148.09 L84.63 159.35 L90.26 166.39 L97.3 173.42 L102.22 179.76 L99.41 181.16 L94.48 176.24 L87.45 167.79 L81.11 163.57 L76.89 159.35 L73.38 153.72Z" fill="#ffffff" stroke="#ffffff" stroke-width="0" stroke-linejoin="round"/>
<path d="M61.41 284.59 L66.34 283.19 L70.56 284.59 L76.89 288.11 L73.38 289.52 L67.75 288.11 L65.64 291.63 L67.75 298.66 L70.56 306.4 L67.75 306.4 L63.52 297.26 L60.71 290.22Z" fill="#ffffff" stroke="#ffffff" stroke-width="0" stroke-linejoin="round"/>
<path d="M188.19 148.8 L188.9 157.94 L190.31 166.39 L191.71 174.83 L190.31 183.27" fill="none" stroke="#ffffff" stroke-width="3.51" stroke-linecap="round" stroke-linejoin="round"/>
<path d="M191.01 191.72 L193.12 201.57" fill="none" stroke="#d8d8d8" stroke-width="2.39" stroke-linecap="round" stroke-linejoin="round"/>
<path d="M190.31 252.23 L192.42 260.67 L195.23 267.71" fill="none" stroke="#d3d3d3" stroke-width="2.11" stroke-linecap="round" stroke-linejoin="round"/>
<path d="M231.82 248 L240.26 249.41 L248.7 250.12 L254.33 249.69" fill="none" stroke="#d8d8d8" stroke-width="2.67" stroke-linecap="round" stroke-linejoin="round"/>
<path d="M208.6 220.56 L212.12 217.75 L220.56 216.76 L226.19 218.45 L231.82 223.38 L238.85 224.08 L247.3 221.97 L257.15 220.56 L267 218.88 L276.85 218.45 L281.77 219.86 L280.37 221.97 L272.63 221.97 L262.78 224.79 L254.33 228.3 L248.7 232.53 L243.08 236.75 L240.26 242.38 L237.45 243.78 L233.23 245.19 L231.82 249.41 L228.3 251.1 L225.49 246.6 L222.67 239.56 L217.75 235.34 L215.64 232.53 L217.75 226.9 L213.52 222.68Z" fill="#ffffff" stroke="#ffffff" stroke-width="0" stroke-linejoin="round"/>
<path d="M163.57 243.08 L168.49 244.06 L175.53 245.19 L183.97 244.49 L190.31 240.97 L198.05 238.15 L206.49 236.75 L212.12 235.34 L212.12 242.38 L210.01 245.19 L206.49 240.97 L199.45 242.38 L195.23 246.6 L192.42 250.82 L188.19 252.23 L184.68 249.41 L178.34 248.71 L171.31 246.6 L164.98 245.89Z" fill="#ffffff" stroke="#ffffff" stroke-width="0" stroke-linejoin="round"/>
<path d="M253.63 248 L257.15 248.71 L259.26 253.63 L262.78 259.26 L269.81 260.67 L274.03 264.89 L279.66 266.3 L283.18 262.78 L284.59 264.89 L281.77 271.93 L278.96 278.96 L276.15 290.22 L274.03 298.66 L272.63 307.11 L267.7 307.11 L271.22 297.26 L271.92 287.41 L271.92 276.15 L268.41 269.11 L262.78 264.89 L258.56 259.26 L255.04 253.63Z" fill="#ffffff" stroke="#ffffff" stroke-width="0" stroke-linejoin="round"/>
<path d="M278.96 233.23 L283.18 228.3 L288.81 226.19 L296.55 228.3 L295.14 231.82 L289.51 235.34 L282.48 236.75Z" fill="#ffffff" stroke="#ffffff" stroke-width="0" stroke-linejoin="round"/>
</g>
<ellipse cx="117.83" cy="55.51" rx="4.24" ry="4.24" fill="#3b3b3b"/>
<ellipse cx="193.82" cy="184.97" rx="4.24" ry="5.37" fill="#313131"/>
<ellipse cx="5.26" cy="228.6" rx="3.68" ry="3.68" fill="#4e4e4e"/>
<ellipse cx="61.55" cy="7.66" rx="3.11" ry="3.11" fill="#4e4e4e"/>
<path d="M57.9 4.43 L60.71 10.76 L67.75 15.68 L74.78 16.39" fill="none" stroke="#4b4b4b" stroke-width="2.95" stroke-linecap="round" stroke-linejoin="round"/>
<ellipse cx="58.6" cy="5.83" rx="1.71" ry="2.27" fill="#393939"/>
<ellipse cx="117.7" cy="56.49" rx="2.83" ry="2.83" fill="#424242"/>
<ellipse cx="86.04" cy="95.19" rx="4.52" ry="2.27" fill="#3d3d3d"/>
<ellipse cx="286" cy="22.72" rx="5.93" ry="1.71" fill="#4b4b4b"/>
<ellipse cx="187.07" cy="138.81" rx="1.43" ry="1.43" fill="#4b4b4b"/>
<path d="M135.29 176.24 L142.33 173.42 L153.59 170.61" fill="none" stroke="#4b4b4b" stroke-width="2.11" stroke-linecap="round" stroke-linejoin="round"/>
<ellipse cx="252.22" cy="202.69" rx="1.99" ry="1.99" fill="#4b4b4b"/>
<path d="M250.11 219.16 L257.85 216.34" fill="none" stroke="#393939" stroke-width="2.67" stroke-linecap="round" stroke-linejoin="round"/>
<ellipse cx="194.53" cy="183.27" rx="3.82" ry="2.55" fill="#393939"/>
</g></g>
<g clip-path="url(#cs0)">
<g filter="url(#pur0)">
<rect x="721.1" y="42.6" width="316" height="332.8" fill="#000"/>
<g filter="url(#hb)">
<ellipse cx="972.17" cy="132.7" rx="86.72" ry="37.38" transform="rotate(-43 972.17 132.7)" fill="#fff" fill-opacity="0.06"/>
<ellipse cx="933.29" cy="165.59" rx="50.84" ry="25.42" transform="rotate(-40 933.29 165.59)" fill="#fff" fill-opacity="0.08"/>
<ellipse cx="897.41" cy="195.5" rx="35.88" ry="20.93" transform="rotate(-30 897.41 195.5)" fill="#fff" fill-opacity="0.15"/>
</g>
<g filter="url(#hb2)">
<ellipse cx="891.43" cy="199.98" rx="35.29" ry="20.33" transform="rotate(-25 891.43 199.98)" fill="#fff" fill-opacity="0.4"/>
<ellipse cx="886.94" cy="209.25" rx="68.78" ry="1.2" transform="rotate(0 886.94 209.25)" fill="#fff" fill-opacity="0.4"/>
<ellipse cx="921.33" cy="179.05" rx="22.43" ry="11.96" transform="rotate(-40 921.33 179.05)" fill="#fff" fill-opacity="0.33"/>
</g>
</g>
<g filter="url(#core0)">
<path d="M852.67 206.93 L858.5 206 L867.25 201.92 L868.42 193.75 L876 186.17 L890 185.35 L895.83 187.1 L901.67 189.08 L908.67 183.83 L910.42 189.67 L910.42 205.42 L916.25 207.17 L909.83 209.73 L904 212.07 L894.67 213.23 L890 216.5 L885.33 220.23 L881.83 224.9 L874.83 224.9 L871.33 221.4 L864.33 220.23 L858.5 215.33 L853.83 210.9Z" fill="#3f007d"/>
</g>
<path d="M793.3 299.5 L1032.1 47.6" stroke="#f5000a" stroke-width="3.1" stroke-linecap="round" fill="none"/>
</g>
<g clip-path="url(#cs1)">
<g filter="url(#pur1)">
<rect x="721.1" y="382.4" width="316" height="332.8" fill="#000"/>
<g filter="url(#hb)">
<ellipse cx="954.23" cy="460.74" rx="80.74" ry="26.91" transform="rotate(-42 954.23 460.74)" fill="#fff" fill-opacity="0.06"/>
<ellipse cx="789.76" cy="589.32" rx="47.85" ry="13.46" transform="rotate(-25 789.76 589.32)" fill="#fff" fill-opacity="0.04"/>
<ellipse cx="880.96" cy="535.5" rx="68.78" ry="29.9" transform="rotate(-40 880.96 535.5)" fill="#fff" fill-opacity="0.15"/>
</g>
<g filter="url(#hb2)">
<ellipse cx="877.97" cy="539.98" rx="54.42" ry="21.53" transform="rotate(-40 877.97 539.98)" fill="#fff" fill-opacity="0.45"/>
<ellipse cx="903.39" cy="505.59" rx="28.41" ry="13.46" transform="rotate(-40 903.39 505.59)" fill="#fff" fill-opacity="0.25"/>
</g>
</g>
<g filter="url(#core1)">
<path d="M843.25 560 L848.5 553 L857.83 544.83 L864.83 539 L871.25 529.67 L871.83 522.67 L880 522.08 L891.67 522.67 L898.67 519.17 L909.17 515.08 L915.58 515.08 L916.17 525 L915.58 536.67 L909.17 541.33 L903.33 547.17 L896.33 553 L889.33 558.83 L882.33 564.67 L875.33 570.5 L861.33 571.67 L849.67 574 L845 571.67Z" fill="#3f007d"/>
</g>
<path d="M726.1 710.2 L1032.1 387.4" stroke="#f5000a" stroke-width="3.1" stroke-linecap="round" fill="none"/>
</g>
<g clip-path="url(#cs2)">
<g filter="url(#pur2)">
<rect x="721.1" y="721.8" width="316" height="332.8" fill="#000"/>
<g filter="url(#hb)">
<ellipse cx="888.44" cy="872.51" rx="119.61" ry="104.66" transform="rotate(-45 888.44 872.51)" fill="#fff" fill-opacity="0.05"/>
<ellipse cx="883.95" cy="879.98" rx="65.79" ry="53.83" transform="rotate(-45 883.95 879.98)" fill="#fff" fill-opacity="0.12"/>
</g>
<g filter="url(#hb2)">
<ellipse cx="880.96" cy="882.97" rx="46.35" ry="37.38" transform="rotate(-45 880.96 882.97)" fill="#fff" fill-opacity="0.4"/>
<ellipse cx="880.96" cy="888.06" rx="89.71" ry="1.2" transform="rotate(0 880.96 888.06)" fill="#fff" fill-opacity="0.5"/>
<ellipse cx="880.96" cy="888.06" rx="125.59" ry="0.9" transform="rotate(0 880.96 888.06)" fill="#fff" fill-opacity="0.18"/>
</g>
</g>
<g filter="url(#core2)">
<path d="M822 887 L840 885 L850.67 881.67 L856 873.67 L866.67 865.67 L872 857.67 L878.67 849.67 L885.33 851 L893.33 847 L898.67 840.33 L906.67 837.67 L909.33 832.33 L910 848.33 L913.33 860.33 L913.33 881.67 L926.67 887.67 L928 889.67 L913.33 891 L909.33 895 L901.33 897.67 L893.33 905.67 L886.67 913.67 L881.33 921.67 L874.67 919 L858.67 919.67 L853.33 917.67 L845.33 908.33 L840 899 L832 892.33 L822 889.67Z" fill="#3f007d"/>
</g>
<path d="M726.1 1049.6 L1032.1 726.8" stroke="#f5000a" stroke-width="3.1" stroke-linecap="round" fill="none"/>
</g>
<rect x="1067.9" y="64.2" width="36.1" height="289.3" fill="url(#cwg)"/>
<rect x="1067.9" y="403.5" width="36.1" height="289.9" fill="url(#cwg)"/>
<rect x="1067.9" y="743.2" width="36.1" height="289.9" fill="url(#cwg)"/>
<g fill="none" stroke="#000" stroke-width="1.6" stroke-linecap="butt">
<rect x="81.8" y="56" width="306.5" height="306.4"/>
<path d="M81.8 362.4h-7.7M81.8 259.8h-7.7M81.8 157.2h-7.7M81.8 362.4v7.7M338.3 362.4v7.7"/>
<rect x="404" y="56" width="306.5" height="306.4"/>
<path d="M404 362.4h-7.7M404 259.8h-7.7M404 157.2h-7.7M404 362.4v7.7M660.5 362.4v7.7"/>
<rect x="726.1" y="47.6" width="306" height="322.8"/>
<path d="M726.1 79.2h-7.7M726.1 209.2h-7.7M726.1 338.3h-7.7M756.2 370.4v7.7M878.8 370.4v7.7M1001.4 370.4v7.7"/>
<rect x="81.8" y="395.5" width="306.5" height="306.4"/>
<path d="M81.8 701.9h-7.7M81.8 599.3h-7.7M81.8 496.7h-7.7M81.8 701.9v7.7M338.3 701.9v7.7"/>
<rect x="404" y="395.5" width="306.5" height="306.4"/>
<path d="M404 701.9h-7.7M404 599.3h-7.7M404 496.7h-7.7M404 701.9v7.7M660.5 701.9v7.7"/>
<rect x="726.1" y="387.4" width="306" height="322.8"/>
<path d="M726.1 431.7h-7.7M726.1 548.9h-7.7M726.1 665.5h-7.7M768.2 710.2v7.7M878.8 710.2v7.7M990 710.2v7.7"/>
<rect x="81.8" y="735" width="306.5" height="306.4"/>
<path d="M81.8 1041.4h-7.7M81.8 938.8h-7.7M81.8 836.2h-7.7M81.8 1041.4v7.7M338.3 1041.4v7.7"/>
<rect x="404" y="735" width="306.5" height="306.4"/>
<path d="M404 1041.4h-7.7M404 938.8h-7.7M404 836.2h-7.7M404 1041.4v7.7M660.5 1041.4v7.7"/>
<rect x="726.1" y="726.8" width="306" height="322.8"/>
<path d="M726.1 776.2h-7.7M726.1 888h-7.7M726.1 998.6h-7.7M773.9 1049.6v7.7M878.8 1049.6v7.7M984.6 1049.6v7.7"/>
<rect x="1067.9" y="64.2" width="36.1" height="289.3"/>
<path d="M1104 69.7h7.7M1104 116.05h7.7M1104 162.4h7.7M1104 208.75h7.7M1104 255.1h7.7M1104 301.45h7.7M1104 347.8h7.7"/>
<rect x="1067.9" y="403.5" width="36.1" height="289.9"/>
<path d="M1104 422.9h7.7M1104 464.7h7.7M1104 506.5h7.7M1104 548.3h7.7M1104 590.1h7.7M1104 631.9h7.7M1104 673.7h7.7"/>
<rect x="1067.9" y="743.2" width="36.1" height="289.9"/>
<path d="M1104 768.8h7.7M1104 808.63h7.7M1104 848.46h7.7M1104 888.29h7.7M1104 928.12h7.7M1104 967.95h7.7M1104 1007.78h7.7"/>
</g>
<text class="sa" x="129.5" y="42.5" textLength="122.5" lengthAdjust="spacingAndGlyphs">Original</text>
<text class="sa" x="268" y="42.5" textLength="74" lengthAdjust="spacingAndGlyphs">cube</text>
<text class="sa" x="488.8" y="42.5" textLength="136.8" lengthAdjust="spacingAndGlyphs">Inversion</text>
<text class="sa" x="696.3" y="33.8" textLength="136.8" lengthAdjust="spacingAndGlyphs">Inversion</text>
<text class="sa" x="849.5" y="33.8" textLength="30.5" lengthAdjust="spacingAndGlyphs">vs</text>
<text class="sa" x="895" y="33.8" textLength="166.3" lengthAdjust="spacingAndGlyphs">Simulation</text>
<text class="se" x="66.3" y="373.6" text-anchor="end">0</text>
<text class="se" x="66.3" y="271" text-anchor="end">2</text>
<text class="se" x="66.3" y="168.4" text-anchor="end">4</text>
<text class="se" x="66.3" y="713.1" text-anchor="end">0</text>
<text class="se" x="66.3" y="610.5" text-anchor="end">2</text>
<text class="se" x="66.3" y="507.9" text-anchor="end">4</text>
<text class="se" x="66.3" y="1052.6" text-anchor="end">0</text>
<text class="se" x="66.3" y="950" text-anchor="end">2</text>
<text class="se" x="66.3" y="847.4" text-anchor="end">4</text>
<text class="se" x="81.8" y="1080.4" text-anchor="middle">0</text>
<text class="se" x="338.3" y="1080.4" text-anchor="middle">5</text>
<text class="se it" x="184.7" y="1121.9" textLength="16.6" lengthAdjust="spacingAndGlyphs">x</text>
<text class="se" x="212" y="1121.9" textLength="71" lengthAdjust="spacingAndGlyphs">[Mm]</text>
<text class="se" x="404" y="1080.4" text-anchor="middle">0</text>
<text class="se" x="660.5" y="1080.4" text-anchor="middle">5</text>
<text class="se it" x="506.9" y="1121.9" textLength="16.6" lengthAdjust="spacingAndGlyphs">x</text>
<text class="se" x="534.2" y="1121.9" textLength="71" lengthAdjust="spacingAndGlyphs">[Mm]</text>
<text class="se" x="1119" y="80.9" textLength="48.6" lengthAdjust="spacingAndGlyphs">600</text>
<text class="se" x="1119" y="127.25" textLength="48.6" lengthAdjust="spacingAndGlyphs">400</text>
<text class="se" x="1119" y="173.6" textLength="48.6" lengthAdjust="spacingAndGlyphs">200</text>
<text class="se" x="1119" y="219.95" textLength="16.2" lengthAdjust="spacingAndGlyphs">0</text>
<text class="se" x="1120.2" y="266.3" textLength="25.3" lengthAdjust="spacingAndGlyphs">−</text>
<text class="se" x="1146.4" y="266.3" textLength="48.6" lengthAdjust="spacingAndGlyphs">200</text>
<text class="se" x="1120.2" y="312.65" textLength="25.3" lengthAdjust="spacingAndGlyphs">−</text>
<text class="se" x="1146.4" y="312.65" textLength="48.6" lengthAdjust="spacingAndGlyphs">400</text>
<text class="se" x="1120.2" y="359" textLength="25.3" lengthAdjust="spacingAndGlyphs">−</text>
<text class="se" x="1146.4" y="359" textLength="48.6" lengthAdjust="spacingAndGlyphs">600</text>
<text class="se" x="1119" y="434.1" textLength="48.6" lengthAdjust="spacingAndGlyphs">600</text>
<text class="se" x="1119" y="475.9" textLength="48.6" lengthAdjust="spacingAndGlyphs">400</text>
<text class="se" x="1119" y="517.7" textLength="48.6" lengthAdjust="spacingAndGlyphs">200</text>
<text class="se" x="1119" y="559.5" textLength="16.2" lengthAdjust="spacingAndGlyphs">0</text>
<text class="se" x="1120.2" y="601.3" textLength="25.3" lengthAdjust="spacingAndGlyphs">−</text>
<text class="se" x="1146.4" y="601.3" textLength="48.6" lengthAdjust="spacingAndGlyphs">200</text>
<text class="se" x="1120.2" y="643.1" textLength="25.3" lengthAdjust="spacingAndGlyphs">−</text>
<text class="se" x="1146.4" y="643.1" textLength="48.6" lengthAdjust="spacingAndGlyphs">400</text>
<text class="se" x="1120.2" y="684.9" textLength="25.3" lengthAdjust="spacingAndGlyphs">−</text>
<text class="se" x="1146.4" y="684.9" textLength="48.6" lengthAdjust="spacingAndGlyphs">600</text>
<text class="se" x="1119" y="780" textLength="48.6" lengthAdjust="spacingAndGlyphs">600</text>
<text class="se" x="1119" y="819.83" textLength="48.6" lengthAdjust="spacingAndGlyphs">400</text>
<text class="se" x="1119" y="859.66" textLength="48.6" lengthAdjust="spacingAndGlyphs">200</text>
<text class="se" x="1119" y="899.49" textLength="16.2" lengthAdjust="spacingAndGlyphs">0</text>
<text class="se" x="1120.2" y="939.32" textLength="25.3" lengthAdjust="spacingAndGlyphs">−</text>
<text class="se" x="1146.4" y="939.32" textLength="48.6" lengthAdjust="spacingAndGlyphs">200</text>
<text class="se" x="1120.2" y="979.15" textLength="25.3" lengthAdjust="spacingAndGlyphs">−</text>
<text class="se" x="1146.4" y="979.15" textLength="48.6" lengthAdjust="spacingAndGlyphs">400</text>
<text class="se" x="1120.2" y="1018.98" textLength="25.3" lengthAdjust="spacingAndGlyphs">−</text>
<text class="se" x="1146.4" y="1018.98" textLength="48.6" lengthAdjust="spacingAndGlyphs">600</text>
<g transform="translate(28.7 301.1) rotate(-90)">
<text class="se" x="0" y="0" textLength="41.7" lengthAdjust="spacingAndGlyphs">log</text>
<text class="se it th" x="49.2" y="0" textLength="15.2" lengthAdjust="spacingAndGlyphs">τ</text>
<text class="se" x="78.4" y="0" textLength="20.1" lengthAdjust="spacingAndGlyphs">=</text>
<text class="se" x="102.6" y="0" textLength="25" lengthAdjust="spacingAndGlyphs">−</text>
<text class="se" x="131" y="0" textLength="37.4" lengthAdjust="spacingAndGlyphs">1.5</text>
</g>
<g transform="translate(28.7 640.2) rotate(-90)">
<text class="se" x="0" y="0" textLength="41.7" lengthAdjust="spacingAndGlyphs">log</text>
<text class="se it th" x="49.2" y="0" textLength="15.2" lengthAdjust="spacingAndGlyphs">τ</text>
<text class="se" x="78.4" y="0" textLength="20.1" lengthAdjust="spacingAndGlyphs">=</text>
<text class="se" x="102.6" y="0" textLength="25" lengthAdjust="spacingAndGlyphs">−</text>
<text class="se" x="128.6" y="0" textLength="40.2" lengthAdjust="spacingAndGlyphs">0.5</text>
</g>
<g transform="translate(28.7 966.6) rotate(-90)">
<text class="se" x="0" y="0" textLength="41.7" lengthAdjust="spacingAndGlyphs">log</text>
<text class="se it th" x="49.2" y="0" textLength="15.2" lengthAdjust="spacingAndGlyphs">τ</text>
<text class="se" x="78.4" y="0" textLength="20.1" lengthAdjust="spacingAndGlyphs">=</text>
<text class="se" x="103.4" y="0" textLength="40.2" lengthAdjust="spacingAndGlyphs">0.5</text>
</g>
</svg>
</body></html>
